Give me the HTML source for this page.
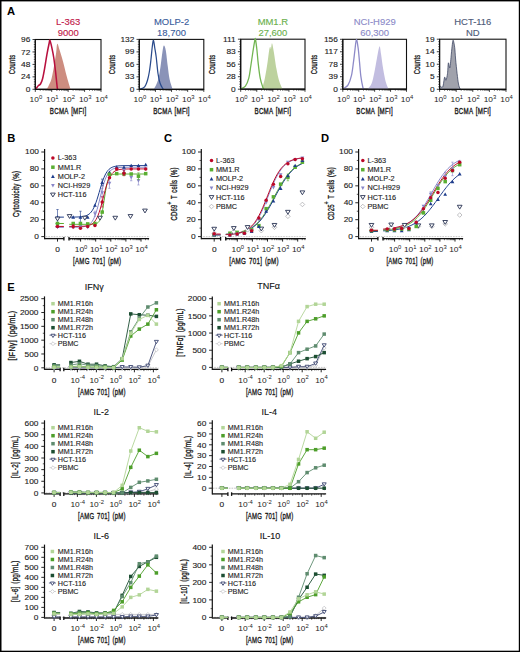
<!DOCTYPE html>
<html><head><meta charset="utf-8"><style>
html,body{margin:0;padding:0;background:#fff;overflow:hidden;width:520px;height:652px;}
svg{display:block;}
svg text{font-family:"Liberation Sans", sans-serif;}
</style></head><body>
<svg width="520" height="652" viewBox="0 0 520 652">
<rect width="520" height="652" fill="#fff"/>
<rect x="0" y="0" width="1.5" height="652" fill="#000"/>
<rect x="0" y="0" width="520" height="1.4" fill="#000"/>
<rect x="518.8" y="0" width="1.2" height="652" fill="#000"/>
<rect x="0" y="650.7" width="520" height="1.3" fill="#000"/>
<text x="7" y="14.8" font-size="11.2" text-anchor="start" fill="#000" font-weight="bold" >A</text>
<rect x="35.3" y="39.5" width="65.7" height="49.8" fill="none" stroke="#111" stroke-width="1.1"/>
<path d="M46.5,89.3 C46.83,88.75 47.67,87.75 48.5,86 C49.33,84.25 50.52,82.5 51.5,78.8 C52.48,75.1 53.62,68.22 54.4,63.8 C55.18,59.38 55.72,55.65 56.2,52.3 C56.68,48.95 56.73,44.08 57.3,43.7 C57.87,43.32 58.65,47.03 59.6,50 C60.55,52.97 61.85,57.27 63,61.5 C64.15,65.73 65.27,70.88 66.5,75.4 C67.73,79.92 69.65,86.28 70.4,88.6 C71.15,90.92 70.9,89.18 71,89.3 Z" fill="#cd8d80" stroke="none"/>
<path d="M36,88.6 C36.42,88.08 37.75,86.27 38.5,85.5 C39.25,84.73 39.83,85.08 40.5,84 C41.17,82.92 41.82,81.58 42.5,79 C43.18,76.42 43.87,72.57 44.6,68.5 C45.33,64.43 46.13,58.85 46.9,54.6 C47.67,50.35 48.68,45.35 49.2,43 C49.72,40.65 49.52,39.53 50,40.5 C50.48,41.47 51.47,45.88 52.1,48.8 C52.73,51.72 53.22,54.13 53.8,58 C54.38,61.87 55.02,67 55.6,72 C56.18,77 56.9,85.13 57.3,88 C57.7,90.87 57.88,89 58,89.2" fill="none" stroke="#b8103e" stroke-width="1.55" stroke-linejoin="round"/>
<line x1="35.3" y1="89.3" x2="101" y2="89.3" stroke="#111" stroke-width="1.2" />
<line x1="35.3" y1="39.5" x2="35.3" y2="89.3" stroke="#111" stroke-width="1.1" />
<line x1="32.5" y1="89.3" x2="35.3" y2="89.3" stroke="#111" stroke-width="0.8" />
<text transform="translate(30.3,91.9) scale(1.1,1)" font-size="7.6" text-anchor="end" fill="#222" font-weight="normal"  stroke="#222" stroke-width="0.12">0</text>
<line x1="33.8" y1="86.81" x2="35.3" y2="86.81" stroke="#111" stroke-width="0.6" />
<line x1="33.8" y1="84.32" x2="35.3" y2="84.32" stroke="#111" stroke-width="0.6" />
<line x1="33.8" y1="81.83" x2="35.3" y2="81.83" stroke="#111" stroke-width="0.6" />
<line x1="33.8" y1="79.34" x2="35.3" y2="79.34" stroke="#111" stroke-width="0.6" />
<line x1="32.5" y1="76.85" x2="35.3" y2="76.85" stroke="#111" stroke-width="0.8" />
<text transform="translate(30.3,79.45) scale(1.1,1)" font-size="7.6" text-anchor="end" fill="#222" font-weight="normal"  stroke="#222" stroke-width="0.12">24</text>
<line x1="33.8" y1="74.36" x2="35.3" y2="74.36" stroke="#111" stroke-width="0.6" />
<line x1="33.8" y1="71.87" x2="35.3" y2="71.87" stroke="#111" stroke-width="0.6" />
<line x1="33.8" y1="69.38" x2="35.3" y2="69.38" stroke="#111" stroke-width="0.6" />
<line x1="33.8" y1="66.89" x2="35.3" y2="66.89" stroke="#111" stroke-width="0.6" />
<line x1="32.5" y1="64.4" x2="35.3" y2="64.4" stroke="#111" stroke-width="0.8" />
<text transform="translate(30.3,67) scale(1.1,1)" font-size="7.6" text-anchor="end" fill="#222" font-weight="normal"  stroke="#222" stroke-width="0.12">48</text>
<line x1="33.8" y1="61.91" x2="35.3" y2="61.91" stroke="#111" stroke-width="0.6" />
<line x1="33.8" y1="59.42" x2="35.3" y2="59.42" stroke="#111" stroke-width="0.6" />
<line x1="33.8" y1="56.93" x2="35.3" y2="56.93" stroke="#111" stroke-width="0.6" />
<line x1="33.8" y1="54.44" x2="35.3" y2="54.44" stroke="#111" stroke-width="0.6" />
<line x1="32.5" y1="51.95" x2="35.3" y2="51.95" stroke="#111" stroke-width="0.8" />
<text transform="translate(30.3,54.55) scale(1.1,1)" font-size="7.6" text-anchor="end" fill="#222" font-weight="normal"  stroke="#222" stroke-width="0.12">72</text>
<line x1="33.8" y1="49.46" x2="35.3" y2="49.46" stroke="#111" stroke-width="0.6" />
<line x1="33.8" y1="46.97" x2="35.3" y2="46.97" stroke="#111" stroke-width="0.6" />
<line x1="33.8" y1="44.48" x2="35.3" y2="44.48" stroke="#111" stroke-width="0.6" />
<line x1="33.8" y1="41.99" x2="35.3" y2="41.99" stroke="#111" stroke-width="0.6" />
<line x1="32.5" y1="39.5" x2="35.3" y2="39.5" stroke="#111" stroke-width="0.8" />
<text transform="translate(30.3,42.1) scale(1.1,1)" font-size="7.6" text-anchor="end" fill="#222" font-weight="normal"  stroke="#222" stroke-width="0.12">96</text>
<line x1="35.3" y1="89.3" x2="35.3" y2="91.9" stroke="#111" stroke-width="0.8" />
<text transform="translate(29.62,102.2) scale(1.1,1)" font-size="7.6" fill="#222">10<tspan font-size="5.32" dy="-3.19">0</tspan></text>
<line x1="40.24" y1="89.3" x2="40.24" y2="90.8" stroke="#111" stroke-width="0.6" />
<line x1="43.14" y1="89.3" x2="43.14" y2="90.8" stroke="#111" stroke-width="0.6" />
<line x1="45.19" y1="89.3" x2="45.19" y2="90.8" stroke="#111" stroke-width="0.6" />
<line x1="46.78" y1="89.3" x2="46.78" y2="90.8" stroke="#111" stroke-width="0.6" />
<line x1="48.08" y1="89.3" x2="48.08" y2="90.8" stroke="#111" stroke-width="0.6" />
<line x1="49.18" y1="89.3" x2="49.18" y2="90.8" stroke="#111" stroke-width="0.6" />
<line x1="50.13" y1="89.3" x2="50.13" y2="90.8" stroke="#111" stroke-width="0.6" />
<line x1="50.97" y1="89.3" x2="50.97" y2="90.8" stroke="#111" stroke-width="0.6" />
<line x1="51.72" y1="89.3" x2="51.72" y2="91.9" stroke="#111" stroke-width="0.8" />
<text transform="translate(46.05,102.2) scale(1.1,1)" font-size="7.6" fill="#222">10<tspan font-size="5.32" dy="-3.19">1</tspan></text>
<line x1="56.67" y1="89.3" x2="56.67" y2="90.8" stroke="#111" stroke-width="0.6" />
<line x1="59.56" y1="89.3" x2="59.56" y2="90.8" stroke="#111" stroke-width="0.6" />
<line x1="61.61" y1="89.3" x2="61.61" y2="90.8" stroke="#111" stroke-width="0.6" />
<line x1="63.21" y1="89.3" x2="63.21" y2="90.8" stroke="#111" stroke-width="0.6" />
<line x1="64.51" y1="89.3" x2="64.51" y2="90.8" stroke="#111" stroke-width="0.6" />
<line x1="65.61" y1="89.3" x2="65.61" y2="90.8" stroke="#111" stroke-width="0.6" />
<line x1="66.56" y1="89.3" x2="66.56" y2="90.8" stroke="#111" stroke-width="0.6" />
<line x1="67.4" y1="89.3" x2="67.4" y2="90.8" stroke="#111" stroke-width="0.6" />
<line x1="68.15" y1="89.3" x2="68.15" y2="91.9" stroke="#111" stroke-width="0.8" />
<text transform="translate(62.47,102.2) scale(1.1,1)" font-size="7.6" fill="#222">10<tspan font-size="5.32" dy="-3.19">2</tspan></text>
<line x1="73.09" y1="89.3" x2="73.09" y2="90.8" stroke="#111" stroke-width="0.6" />
<line x1="75.99" y1="89.3" x2="75.99" y2="90.8" stroke="#111" stroke-width="0.6" />
<line x1="78.04" y1="89.3" x2="78.04" y2="90.8" stroke="#111" stroke-width="0.6" />
<line x1="79.63" y1="89.3" x2="79.63" y2="90.8" stroke="#111" stroke-width="0.6" />
<line x1="80.93" y1="89.3" x2="80.93" y2="90.8" stroke="#111" stroke-width="0.6" />
<line x1="82.03" y1="89.3" x2="82.03" y2="90.8" stroke="#111" stroke-width="0.6" />
<line x1="82.98" y1="89.3" x2="82.98" y2="90.8" stroke="#111" stroke-width="0.6" />
<line x1="83.82" y1="89.3" x2="83.82" y2="90.8" stroke="#111" stroke-width="0.6" />
<line x1="84.58" y1="89.3" x2="84.58" y2="91.9" stroke="#111" stroke-width="0.8" />
<text transform="translate(78.9,102.2) scale(1.1,1)" font-size="7.6" fill="#222">10<tspan font-size="5.32" dy="-3.19">3</tspan></text>
<line x1="89.52" y1="89.3" x2="89.52" y2="90.8" stroke="#111" stroke-width="0.6" />
<line x1="92.41" y1="89.3" x2="92.41" y2="90.8" stroke="#111" stroke-width="0.6" />
<line x1="94.46" y1="89.3" x2="94.46" y2="90.8" stroke="#111" stroke-width="0.6" />
<line x1="96.06" y1="89.3" x2="96.06" y2="90.8" stroke="#111" stroke-width="0.6" />
<line x1="97.36" y1="89.3" x2="97.36" y2="90.8" stroke="#111" stroke-width="0.6" />
<line x1="98.46" y1="89.3" x2="98.46" y2="90.8" stroke="#111" stroke-width="0.6" />
<line x1="99.41" y1="89.3" x2="99.41" y2="90.8" stroke="#111" stroke-width="0.6" />
<line x1="100.25" y1="89.3" x2="100.25" y2="90.8" stroke="#111" stroke-width="0.6" />
<line x1="101" y1="89.3" x2="101" y2="91.9" stroke="#111" stroke-width="0.8" />
<text transform="translate(95.32,102.2) scale(1.1,1)" font-size="7.6" fill="#222">10<tspan font-size="5.32" dy="-3.19">4</tspan></text>
<text transform="translate(68.15,25.3) scale(1.1,1)" font-size="8.6" text-anchor="middle" fill="#c1184a" font-weight="normal"  stroke="#c1184a" stroke-width="0.12">L-363</text>
<text transform="translate(68.15,36.4) scale(1.1,1)" font-size="8.6" text-anchor="middle" fill="#c1184a" font-weight="normal"  stroke="#c1184a" stroke-width="0.12">9000</text>
<text transform="translate(14.5,64.45) rotate(-90) scale(0.6,1)" x="0" y="0" font-size="9.6" text-anchor="middle" fill="#1a1a1a" font-weight="normal" stroke="#1a1a1a" stroke-width="0.35" letter-spacing="0.35" word-spacing="1.2">Counts</text>
<text transform="translate(68.15,114.3) scale(0.718,1)" x="0" y="0" font-size="8.6" text-anchor="middle" fill="#1a1a1a" font-weight="normal" stroke="#1a1a1a" stroke-width="0.35" letter-spacing="0.35" word-spacing="1.2">BCMA [MFI]</text>
<rect x="139.3" y="39.4" width="64.5" height="49.9" fill="none" stroke="#111" stroke-width="1.1"/>
<path d="M153.8,89.3 C154.5,87.78 156.88,83.97 158,80.2 C159.12,76.43 159.77,71.35 160.5,66.7 C161.23,62.05 161.85,55.82 162.4,52.3 C162.95,48.78 163.23,45.92 163.8,45.6 C164.37,45.28 165.15,47.03 165.8,50.4 C166.45,53.77 167.07,61 167.7,65.8 C168.33,70.6 168.8,75.37 169.6,79.2 C170.4,83.03 171.93,87.12 172.5,88.8 C173.07,90.48 172.92,89.22 173,89.3 Z" fill="#8a93b8" stroke="none"/>
<path d="M139.8,89.3 C140.6,88.9 143.32,88.42 144.6,86.9 C145.88,85.38 146.7,82.77 147.5,80.2 C148.3,77.63 148.83,74.87 149.4,71.5 C149.97,68.13 150.42,64.17 150.9,60 C151.38,55.83 151.87,49.78 152.3,46.5 C152.73,43.22 153.1,40.13 153.5,40.3 C153.9,40.47 154.25,44.72 154.7,47.5 C155.15,50.28 155.65,52.67 156.2,57 C156.75,61.33 157.37,69.17 158,73.5 C158.63,77.83 159.18,80.45 160,83 C160.82,85.55 162.32,87.75 162.9,88.8 C163.48,89.85 163.4,89.22 163.5,89.3" fill="none" stroke="#2a4b8c" stroke-width="1.25" stroke-linejoin="round"/>
<line x1="139.3" y1="89.3" x2="203.8" y2="89.3" stroke="#111" stroke-width="1.2" />
<line x1="139.3" y1="39.4" x2="139.3" y2="89.3" stroke="#111" stroke-width="1.1" />
<line x1="136.5" y1="89.3" x2="139.3" y2="89.3" stroke="#111" stroke-width="0.8" />
<text transform="translate(134.3,91.9) scale(1.1,1)" font-size="7.6" text-anchor="end" fill="#222" font-weight="normal"  stroke="#222" stroke-width="0.12">0</text>
<line x1="137.8" y1="86.8" x2="139.3" y2="86.8" stroke="#111" stroke-width="0.6" />
<line x1="137.8" y1="84.31" x2="139.3" y2="84.31" stroke="#111" stroke-width="0.6" />
<line x1="137.8" y1="81.81" x2="139.3" y2="81.81" stroke="#111" stroke-width="0.6" />
<line x1="137.8" y1="79.32" x2="139.3" y2="79.32" stroke="#111" stroke-width="0.6" />
<line x1="136.5" y1="76.83" x2="139.3" y2="76.83" stroke="#111" stroke-width="0.8" />
<text transform="translate(134.3,79.42) scale(1.1,1)" font-size="7.6" text-anchor="end" fill="#222" font-weight="normal"  stroke="#222" stroke-width="0.12">33</text>
<line x1="137.8" y1="74.33" x2="139.3" y2="74.33" stroke="#111" stroke-width="0.6" />
<line x1="137.8" y1="71.84" x2="139.3" y2="71.84" stroke="#111" stroke-width="0.6" />
<line x1="137.8" y1="69.34" x2="139.3" y2="69.34" stroke="#111" stroke-width="0.6" />
<line x1="137.8" y1="66.84" x2="139.3" y2="66.84" stroke="#111" stroke-width="0.6" />
<line x1="136.5" y1="64.35" x2="139.3" y2="64.35" stroke="#111" stroke-width="0.8" />
<text transform="translate(134.3,66.95) scale(1.1,1)" font-size="7.6" text-anchor="end" fill="#222" font-weight="normal"  stroke="#222" stroke-width="0.12">66</text>
<line x1="137.8" y1="61.85" x2="139.3" y2="61.85" stroke="#111" stroke-width="0.6" />
<line x1="137.8" y1="59.36" x2="139.3" y2="59.36" stroke="#111" stroke-width="0.6" />
<line x1="137.8" y1="56.86" x2="139.3" y2="56.86" stroke="#111" stroke-width="0.6" />
<line x1="137.8" y1="54.37" x2="139.3" y2="54.37" stroke="#111" stroke-width="0.6" />
<line x1="136.5" y1="51.88" x2="139.3" y2="51.88" stroke="#111" stroke-width="0.8" />
<text transform="translate(134.3,54.48) scale(1.1,1)" font-size="7.6" text-anchor="end" fill="#222" font-weight="normal"  stroke="#222" stroke-width="0.12">99</text>
<line x1="137.8" y1="49.38" x2="139.3" y2="49.38" stroke="#111" stroke-width="0.6" />
<line x1="137.8" y1="46.88" x2="139.3" y2="46.88" stroke="#111" stroke-width="0.6" />
<line x1="137.8" y1="44.39" x2="139.3" y2="44.39" stroke="#111" stroke-width="0.6" />
<line x1="137.8" y1="41.89" x2="139.3" y2="41.89" stroke="#111" stroke-width="0.6" />
<line x1="136.5" y1="39.4" x2="139.3" y2="39.4" stroke="#111" stroke-width="0.8" />
<text transform="translate(134.3,42) scale(1.1,1)" font-size="7.6" text-anchor="end" fill="#222" font-weight="normal"  stroke="#222" stroke-width="0.12">132</text>
<line x1="139.3" y1="89.3" x2="139.3" y2="91.9" stroke="#111" stroke-width="0.8" />
<text transform="translate(133.62,102.2) scale(1.1,1)" font-size="7.6" fill="#222">10<tspan font-size="5.32" dy="-3.19">0</tspan></text>
<line x1="144.15" y1="89.3" x2="144.15" y2="90.8" stroke="#111" stroke-width="0.6" />
<line x1="146.99" y1="89.3" x2="146.99" y2="90.8" stroke="#111" stroke-width="0.6" />
<line x1="149.01" y1="89.3" x2="149.01" y2="90.8" stroke="#111" stroke-width="0.6" />
<line x1="150.57" y1="89.3" x2="150.57" y2="90.8" stroke="#111" stroke-width="0.6" />
<line x1="151.85" y1="89.3" x2="151.85" y2="90.8" stroke="#111" stroke-width="0.6" />
<line x1="152.93" y1="89.3" x2="152.93" y2="90.8" stroke="#111" stroke-width="0.6" />
<line x1="153.86" y1="89.3" x2="153.86" y2="90.8" stroke="#111" stroke-width="0.6" />
<line x1="154.69" y1="89.3" x2="154.69" y2="90.8" stroke="#111" stroke-width="0.6" />
<line x1="155.43" y1="89.3" x2="155.43" y2="91.9" stroke="#111" stroke-width="0.8" />
<text transform="translate(149.75,102.2) scale(1.1,1)" font-size="7.6" fill="#222">10<tspan font-size="5.32" dy="-3.19">1</tspan></text>
<line x1="160.28" y1="89.3" x2="160.28" y2="90.8" stroke="#111" stroke-width="0.6" />
<line x1="163.12" y1="89.3" x2="163.12" y2="90.8" stroke="#111" stroke-width="0.6" />
<line x1="165.13" y1="89.3" x2="165.13" y2="90.8" stroke="#111" stroke-width="0.6" />
<line x1="166.7" y1="89.3" x2="166.7" y2="90.8" stroke="#111" stroke-width="0.6" />
<line x1="167.97" y1="89.3" x2="167.97" y2="90.8" stroke="#111" stroke-width="0.6" />
<line x1="169.05" y1="89.3" x2="169.05" y2="90.8" stroke="#111" stroke-width="0.6" />
<line x1="169.99" y1="89.3" x2="169.99" y2="90.8" stroke="#111" stroke-width="0.6" />
<line x1="170.81" y1="89.3" x2="170.81" y2="90.8" stroke="#111" stroke-width="0.6" />
<line x1="171.55" y1="89.3" x2="171.55" y2="91.9" stroke="#111" stroke-width="0.8" />
<text transform="translate(165.87,102.2) scale(1.1,1)" font-size="7.6" fill="#222">10<tspan font-size="5.32" dy="-3.19">2</tspan></text>
<line x1="176.4" y1="89.3" x2="176.4" y2="90.8" stroke="#111" stroke-width="0.6" />
<line x1="179.24" y1="89.3" x2="179.24" y2="90.8" stroke="#111" stroke-width="0.6" />
<line x1="181.26" y1="89.3" x2="181.26" y2="90.8" stroke="#111" stroke-width="0.6" />
<line x1="182.82" y1="89.3" x2="182.82" y2="90.8" stroke="#111" stroke-width="0.6" />
<line x1="184.1" y1="89.3" x2="184.1" y2="90.8" stroke="#111" stroke-width="0.6" />
<line x1="185.18" y1="89.3" x2="185.18" y2="90.8" stroke="#111" stroke-width="0.6" />
<line x1="186.11" y1="89.3" x2="186.11" y2="90.8" stroke="#111" stroke-width="0.6" />
<line x1="186.94" y1="89.3" x2="186.94" y2="90.8" stroke="#111" stroke-width="0.6" />
<line x1="187.68" y1="89.3" x2="187.68" y2="91.9" stroke="#111" stroke-width="0.8" />
<text transform="translate(182,102.2) scale(1.1,1)" font-size="7.6" fill="#222">10<tspan font-size="5.32" dy="-3.19">3</tspan></text>
<line x1="192.53" y1="89.3" x2="192.53" y2="90.8" stroke="#111" stroke-width="0.6" />
<line x1="195.37" y1="89.3" x2="195.37" y2="90.8" stroke="#111" stroke-width="0.6" />
<line x1="197.38" y1="89.3" x2="197.38" y2="90.8" stroke="#111" stroke-width="0.6" />
<line x1="198.95" y1="89.3" x2="198.95" y2="90.8" stroke="#111" stroke-width="0.6" />
<line x1="200.22" y1="89.3" x2="200.22" y2="90.8" stroke="#111" stroke-width="0.6" />
<line x1="201.3" y1="89.3" x2="201.3" y2="90.8" stroke="#111" stroke-width="0.6" />
<line x1="202.24" y1="89.3" x2="202.24" y2="90.8" stroke="#111" stroke-width="0.6" />
<line x1="203.06" y1="89.3" x2="203.06" y2="90.8" stroke="#111" stroke-width="0.6" />
<line x1="203.8" y1="89.3" x2="203.8" y2="91.9" stroke="#111" stroke-width="0.8" />
<text transform="translate(198.12,102.2) scale(1.1,1)" font-size="7.6" fill="#222">10<tspan font-size="5.32" dy="-3.19">4</tspan></text>
<text transform="translate(171.55,25.3) scale(1.1,1)" font-size="8.6" text-anchor="middle" fill="#3a5d9c" font-weight="normal"  stroke="#3a5d9c" stroke-width="0.12">MOLP-2</text>
<text transform="translate(171.55,36.4) scale(1.1,1)" font-size="8.6" text-anchor="middle" fill="#3a5d9c" font-weight="normal"  stroke="#3a5d9c" stroke-width="0.12">18,700</text>
<text transform="translate(115,64.45) rotate(-90) scale(0.6,1)" x="0" y="0" font-size="9.6" text-anchor="middle" fill="#1a1a1a" font-weight="normal" stroke="#1a1a1a" stroke-width="0.35" letter-spacing="0.35" word-spacing="1.2">Counts</text>
<text transform="translate(171.55,114.3) scale(0.718,1)" x="0" y="0" font-size="8.6" text-anchor="middle" fill="#1a1a1a" font-weight="normal" stroke="#1a1a1a" stroke-width="0.35" letter-spacing="0.35" word-spacing="1.2">BCMA [MFI]</text>
<rect x="240.7" y="39.2" width="64.3" height="50" fill="none" stroke="#111" stroke-width="1.1"/>
<path d="M262,89.2 C262.48,87.33 263.97,82.55 264.9,78 C265.83,73.45 266.87,66.65 267.6,61.9 C268.33,57.15 268.85,51.98 269.3,49.5 C269.75,47.02 270.02,47.08 270.3,47 C270.58,46.92 270.72,49.62 271,49 C271.28,48.38 271.55,42.93 272,43.3 C272.45,43.67 272.97,46.98 273.7,51.2 C274.43,55.42 275.5,63.67 276.4,68.6 C277.3,73.53 278.1,77.43 279.1,80.8 C280.1,84.17 281.75,87.4 282.4,88.8 C283.05,90.2 282.9,89.13 283,89.2 Z" fill="#bdd29e" stroke="none"/>
<path d="M241.1,88.8 C241.82,88.35 244.12,87.88 245.4,86.1 C246.68,84.32 247.9,81.45 248.8,78.1 C249.7,74.75 250.13,70.27 250.8,66 C251.47,61.73 252.13,56.77 252.8,52.5 C253.47,48.23 254.35,42.57 254.8,40.4 C255.25,38.23 255.15,37.93 255.5,39.5 C255.85,41.07 256.45,45.83 256.9,49.8 C257.35,53.77 257.65,58.58 258.2,63.3 C258.75,68.02 259.42,74.07 260.2,78.1 C260.98,82.13 262.27,85.65 262.9,87.5 C263.53,89.35 263.82,88.92 264,89.2" fill="none" stroke="#72b552" stroke-width="1.3" stroke-linejoin="round"/>
<line x1="240.7" y1="89.2" x2="305" y2="89.2" stroke="#111" stroke-width="1.2" />
<line x1="240.7" y1="39.2" x2="240.7" y2="89.2" stroke="#111" stroke-width="1.1" />
<line x1="237.9" y1="89.2" x2="240.7" y2="89.2" stroke="#111" stroke-width="0.8" />
<text transform="translate(235.7,91.8) scale(1.1,1)" font-size="7.6" text-anchor="end" fill="#222" font-weight="normal"  stroke="#222" stroke-width="0.12">0</text>
<line x1="239.2" y1="86.7" x2="240.7" y2="86.7" stroke="#111" stroke-width="0.6" />
<line x1="239.2" y1="84.2" x2="240.7" y2="84.2" stroke="#111" stroke-width="0.6" />
<line x1="239.2" y1="81.7" x2="240.7" y2="81.7" stroke="#111" stroke-width="0.6" />
<line x1="239.2" y1="79.2" x2="240.7" y2="79.2" stroke="#111" stroke-width="0.6" />
<line x1="237.9" y1="76.7" x2="240.7" y2="76.7" stroke="#111" stroke-width="0.8" />
<text transform="translate(235.7,79.3) scale(1.1,1)" font-size="7.6" text-anchor="end" fill="#222" font-weight="normal"  stroke="#222" stroke-width="0.12">28</text>
<line x1="239.2" y1="74.2" x2="240.7" y2="74.2" stroke="#111" stroke-width="0.6" />
<line x1="239.2" y1="71.7" x2="240.7" y2="71.7" stroke="#111" stroke-width="0.6" />
<line x1="239.2" y1="69.2" x2="240.7" y2="69.2" stroke="#111" stroke-width="0.6" />
<line x1="239.2" y1="66.7" x2="240.7" y2="66.7" stroke="#111" stroke-width="0.6" />
<line x1="237.9" y1="64.2" x2="240.7" y2="64.2" stroke="#111" stroke-width="0.8" />
<text transform="translate(235.7,66.8) scale(1.1,1)" font-size="7.6" text-anchor="end" fill="#222" font-weight="normal"  stroke="#222" stroke-width="0.12">56</text>
<line x1="239.2" y1="61.7" x2="240.7" y2="61.7" stroke="#111" stroke-width="0.6" />
<line x1="239.2" y1="59.2" x2="240.7" y2="59.2" stroke="#111" stroke-width="0.6" />
<line x1="239.2" y1="56.7" x2="240.7" y2="56.7" stroke="#111" stroke-width="0.6" />
<line x1="239.2" y1="54.2" x2="240.7" y2="54.2" stroke="#111" stroke-width="0.6" />
<line x1="237.9" y1="51.7" x2="240.7" y2="51.7" stroke="#111" stroke-width="0.8" />
<text transform="translate(235.7,54.3) scale(1.1,1)" font-size="7.6" text-anchor="end" fill="#222" font-weight="normal"  stroke="#222" stroke-width="0.12">83</text>
<line x1="239.2" y1="49.2" x2="240.7" y2="49.2" stroke="#111" stroke-width="0.6" />
<line x1="239.2" y1="46.7" x2="240.7" y2="46.7" stroke="#111" stroke-width="0.6" />
<line x1="239.2" y1="44.2" x2="240.7" y2="44.2" stroke="#111" stroke-width="0.6" />
<line x1="239.2" y1="41.7" x2="240.7" y2="41.7" stroke="#111" stroke-width="0.6" />
<line x1="237.9" y1="39.2" x2="240.7" y2="39.2" stroke="#111" stroke-width="0.8" />
<text transform="translate(235.7,41.8) scale(1.1,1)" font-size="7.6" text-anchor="end" fill="#222" font-weight="normal"  stroke="#222" stroke-width="0.12">111</text>
<line x1="240.7" y1="89.2" x2="240.7" y2="91.8" stroke="#111" stroke-width="0.8" />
<text transform="translate(235.02,102.2) scale(1.1,1)" font-size="7.6" fill="#222">10<tspan font-size="5.32" dy="-3.19">0</tspan></text>
<line x1="245.54" y1="89.2" x2="245.54" y2="90.7" stroke="#111" stroke-width="0.6" />
<line x1="248.37" y1="89.2" x2="248.37" y2="90.7" stroke="#111" stroke-width="0.6" />
<line x1="250.38" y1="89.2" x2="250.38" y2="90.7" stroke="#111" stroke-width="0.6" />
<line x1="251.94" y1="89.2" x2="251.94" y2="90.7" stroke="#111" stroke-width="0.6" />
<line x1="253.21" y1="89.2" x2="253.21" y2="90.7" stroke="#111" stroke-width="0.6" />
<line x1="254.28" y1="89.2" x2="254.28" y2="90.7" stroke="#111" stroke-width="0.6" />
<line x1="255.22" y1="89.2" x2="255.22" y2="90.7" stroke="#111" stroke-width="0.6" />
<line x1="256.04" y1="89.2" x2="256.04" y2="90.7" stroke="#111" stroke-width="0.6" />
<line x1="256.77" y1="89.2" x2="256.77" y2="91.8" stroke="#111" stroke-width="0.8" />
<text transform="translate(251.1,102.2) scale(1.1,1)" font-size="7.6" fill="#222">10<tspan font-size="5.32" dy="-3.19">1</tspan></text>
<line x1="261.61" y1="89.2" x2="261.61" y2="90.7" stroke="#111" stroke-width="0.6" />
<line x1="264.44" y1="89.2" x2="264.44" y2="90.7" stroke="#111" stroke-width="0.6" />
<line x1="266.45" y1="89.2" x2="266.45" y2="90.7" stroke="#111" stroke-width="0.6" />
<line x1="268.01" y1="89.2" x2="268.01" y2="90.7" stroke="#111" stroke-width="0.6" />
<line x1="269.28" y1="89.2" x2="269.28" y2="90.7" stroke="#111" stroke-width="0.6" />
<line x1="270.36" y1="89.2" x2="270.36" y2="90.7" stroke="#111" stroke-width="0.6" />
<line x1="271.29" y1="89.2" x2="271.29" y2="90.7" stroke="#111" stroke-width="0.6" />
<line x1="272.11" y1="89.2" x2="272.11" y2="90.7" stroke="#111" stroke-width="0.6" />
<line x1="272.85" y1="89.2" x2="272.85" y2="91.8" stroke="#111" stroke-width="0.8" />
<text transform="translate(267.17,102.2) scale(1.1,1)" font-size="7.6" fill="#222">10<tspan font-size="5.32" dy="-3.19">2</tspan></text>
<line x1="277.69" y1="89.2" x2="277.69" y2="90.7" stroke="#111" stroke-width="0.6" />
<line x1="280.52" y1="89.2" x2="280.52" y2="90.7" stroke="#111" stroke-width="0.6" />
<line x1="282.53" y1="89.2" x2="282.53" y2="90.7" stroke="#111" stroke-width="0.6" />
<line x1="284.09" y1="89.2" x2="284.09" y2="90.7" stroke="#111" stroke-width="0.6" />
<line x1="285.36" y1="89.2" x2="285.36" y2="90.7" stroke="#111" stroke-width="0.6" />
<line x1="286.43" y1="89.2" x2="286.43" y2="90.7" stroke="#111" stroke-width="0.6" />
<line x1="287.37" y1="89.2" x2="287.37" y2="90.7" stroke="#111" stroke-width="0.6" />
<line x1="288.19" y1="89.2" x2="288.19" y2="90.7" stroke="#111" stroke-width="0.6" />
<line x1="288.93" y1="89.2" x2="288.93" y2="91.8" stroke="#111" stroke-width="0.8" />
<text transform="translate(283.25,102.2) scale(1.1,1)" font-size="7.6" fill="#222">10<tspan font-size="5.32" dy="-3.19">3</tspan></text>
<line x1="293.76" y1="89.2" x2="293.76" y2="90.7" stroke="#111" stroke-width="0.6" />
<line x1="296.59" y1="89.2" x2="296.59" y2="90.7" stroke="#111" stroke-width="0.6" />
<line x1="298.6" y1="89.2" x2="298.6" y2="90.7" stroke="#111" stroke-width="0.6" />
<line x1="300.16" y1="89.2" x2="300.16" y2="90.7" stroke="#111" stroke-width="0.6" />
<line x1="301.43" y1="89.2" x2="301.43" y2="90.7" stroke="#111" stroke-width="0.6" />
<line x1="302.51" y1="89.2" x2="302.51" y2="90.7" stroke="#111" stroke-width="0.6" />
<line x1="303.44" y1="89.2" x2="303.44" y2="90.7" stroke="#111" stroke-width="0.6" />
<line x1="304.26" y1="89.2" x2="304.26" y2="90.7" stroke="#111" stroke-width="0.6" />
<line x1="305" y1="89.2" x2="305" y2="91.8" stroke="#111" stroke-width="0.8" />
<text transform="translate(299.32,102.2) scale(1.1,1)" font-size="7.6" fill="#222">10<tspan font-size="5.32" dy="-3.19">4</tspan></text>
<text transform="translate(272.85,25.3) scale(1.1,1)" font-size="8.6" text-anchor="middle" fill="#6ab04c" font-weight="normal"  stroke="#6ab04c" stroke-width="0.12">MM1.R</text>
<text transform="translate(272.85,36.4) scale(1.1,1)" font-size="8.6" text-anchor="middle" fill="#6ab04c" font-weight="normal"  stroke="#6ab04c" stroke-width="0.12">27,600</text>
<text transform="translate(215.3,64.45) rotate(-90) scale(0.6,1)" x="0" y="0" font-size="9.6" text-anchor="middle" fill="#1a1a1a" font-weight="normal" stroke="#1a1a1a" stroke-width="0.35" letter-spacing="0.35" word-spacing="1.2">Counts</text>
<text transform="translate(272.85,114.3) scale(0.718,1)" x="0" y="0" font-size="8.6" text-anchor="middle" fill="#1a1a1a" font-weight="normal" stroke="#1a1a1a" stroke-width="0.35" letter-spacing="0.35" word-spacing="1.2">BCMA [MFI]</text>
<rect x="342.8" y="39.3" width="63.7" height="49.9" fill="none" stroke="#111" stroke-width="1.1"/>
<path d="M367.5,89.2 C368.18,88.25 370.47,86.25 371.6,83.5 C372.73,80.75 373.4,76.97 374.3,72.7 C375.2,68.43 376.13,62.28 377,57.9 C377.87,53.52 378.83,47.08 379.5,46.4 C380.17,45.72 380.4,50.1 381,53.8 C381.6,57.5 382.3,63.88 383.1,68.6 C383.9,73.32 384.9,78.73 385.8,82.1 C386.7,85.47 387.97,87.62 388.5,88.8 C389.03,89.98 388.92,89.13 389,89.2 Z" fill="#c2bde0" stroke="none"/>
<path d="M344,88.2 C344.68,87.63 346.85,86.93 348.1,84.8 C349.35,82.67 350.6,79.22 351.5,75.4 C352.4,71.58 352.95,65.93 353.5,61.9 C354.05,57.87 354.32,54.9 354.8,51.2 C355.28,47.5 355.83,40.15 356.4,39.7 C356.97,39.25 357.68,44.8 358.2,48.5 C358.72,52.2 359.05,57.2 359.5,61.9 C359.95,66.6 360.33,72.43 360.9,76.7 C361.47,80.97 362.38,85.42 362.9,87.5 C363.42,89.58 363.82,88.92 364,89.2" fill="none" stroke="#8d8ac8" stroke-width="1.3" stroke-linejoin="round"/>
<line x1="342.8" y1="89.2" x2="406.5" y2="89.2" stroke="#111" stroke-width="1.2" />
<line x1="342.8" y1="39.3" x2="342.8" y2="89.2" stroke="#111" stroke-width="1.1" />
<line x1="340" y1="89.2" x2="342.8" y2="89.2" stroke="#111" stroke-width="0.8" />
<text transform="translate(337.8,91.8) scale(1.1,1)" font-size="7.6" text-anchor="end" fill="#222" font-weight="normal"  stroke="#222" stroke-width="0.12">0</text>
<line x1="341.3" y1="86.7" x2="342.8" y2="86.7" stroke="#111" stroke-width="0.6" />
<line x1="341.3" y1="84.21" x2="342.8" y2="84.21" stroke="#111" stroke-width="0.6" />
<line x1="341.3" y1="81.72" x2="342.8" y2="81.72" stroke="#111" stroke-width="0.6" />
<line x1="341.3" y1="79.22" x2="342.8" y2="79.22" stroke="#111" stroke-width="0.6" />
<line x1="340" y1="76.72" x2="342.8" y2="76.72" stroke="#111" stroke-width="0.8" />
<text transform="translate(337.8,79.32) scale(1.1,1)" font-size="7.6" text-anchor="end" fill="#222" font-weight="normal"  stroke="#222" stroke-width="0.12">39</text>
<line x1="341.3" y1="74.23" x2="342.8" y2="74.23" stroke="#111" stroke-width="0.6" />
<line x1="341.3" y1="71.73" x2="342.8" y2="71.73" stroke="#111" stroke-width="0.6" />
<line x1="341.3" y1="69.24" x2="342.8" y2="69.24" stroke="#111" stroke-width="0.6" />
<line x1="341.3" y1="66.74" x2="342.8" y2="66.74" stroke="#111" stroke-width="0.6" />
<line x1="340" y1="64.25" x2="342.8" y2="64.25" stroke="#111" stroke-width="0.8" />
<text transform="translate(337.8,66.85) scale(1.1,1)" font-size="7.6" text-anchor="end" fill="#222" font-weight="normal"  stroke="#222" stroke-width="0.12">78</text>
<line x1="341.3" y1="61.76" x2="342.8" y2="61.76" stroke="#111" stroke-width="0.6" />
<line x1="341.3" y1="59.26" x2="342.8" y2="59.26" stroke="#111" stroke-width="0.6" />
<line x1="341.3" y1="56.77" x2="342.8" y2="56.77" stroke="#111" stroke-width="0.6" />
<line x1="341.3" y1="54.27" x2="342.8" y2="54.27" stroke="#111" stroke-width="0.6" />
<line x1="340" y1="51.77" x2="342.8" y2="51.77" stroke="#111" stroke-width="0.8" />
<text transform="translate(337.8,54.38) scale(1.1,1)" font-size="7.6" text-anchor="end" fill="#222" font-weight="normal"  stroke="#222" stroke-width="0.12">117</text>
<line x1="341.3" y1="49.28" x2="342.8" y2="49.28" stroke="#111" stroke-width="0.6" />
<line x1="341.3" y1="46.78" x2="342.8" y2="46.78" stroke="#111" stroke-width="0.6" />
<line x1="341.3" y1="44.29" x2="342.8" y2="44.29" stroke="#111" stroke-width="0.6" />
<line x1="341.3" y1="41.8" x2="342.8" y2="41.8" stroke="#111" stroke-width="0.6" />
<line x1="340" y1="39.3" x2="342.8" y2="39.3" stroke="#111" stroke-width="0.8" />
<text transform="translate(337.8,41.9) scale(1.1,1)" font-size="7.6" text-anchor="end" fill="#222" font-weight="normal"  stroke="#222" stroke-width="0.12">156</text>
<line x1="342.8" y1="89.2" x2="342.8" y2="91.8" stroke="#111" stroke-width="0.8" />
<text transform="translate(337.12,102.2) scale(1.1,1)" font-size="7.6" fill="#222">10<tspan font-size="5.32" dy="-3.19">0</tspan></text>
<line x1="347.59" y1="89.2" x2="347.59" y2="90.7" stroke="#111" stroke-width="0.6" />
<line x1="350.4" y1="89.2" x2="350.4" y2="90.7" stroke="#111" stroke-width="0.6" />
<line x1="352.39" y1="89.2" x2="352.39" y2="90.7" stroke="#111" stroke-width="0.6" />
<line x1="353.93" y1="89.2" x2="353.93" y2="90.7" stroke="#111" stroke-width="0.6" />
<line x1="355.19" y1="89.2" x2="355.19" y2="90.7" stroke="#111" stroke-width="0.6" />
<line x1="356.26" y1="89.2" x2="356.26" y2="90.7" stroke="#111" stroke-width="0.6" />
<line x1="357.18" y1="89.2" x2="357.18" y2="90.7" stroke="#111" stroke-width="0.6" />
<line x1="358" y1="89.2" x2="358" y2="90.7" stroke="#111" stroke-width="0.6" />
<line x1="358.73" y1="89.2" x2="358.73" y2="91.8" stroke="#111" stroke-width="0.8" />
<text transform="translate(353.05,102.2) scale(1.1,1)" font-size="7.6" fill="#222">10<tspan font-size="5.32" dy="-3.19">1</tspan></text>
<line x1="363.52" y1="89.2" x2="363.52" y2="90.7" stroke="#111" stroke-width="0.6" />
<line x1="366.32" y1="89.2" x2="366.32" y2="90.7" stroke="#111" stroke-width="0.6" />
<line x1="368.31" y1="89.2" x2="368.31" y2="90.7" stroke="#111" stroke-width="0.6" />
<line x1="369.86" y1="89.2" x2="369.86" y2="90.7" stroke="#111" stroke-width="0.6" />
<line x1="371.12" y1="89.2" x2="371.12" y2="90.7" stroke="#111" stroke-width="0.6" />
<line x1="372.18" y1="89.2" x2="372.18" y2="90.7" stroke="#111" stroke-width="0.6" />
<line x1="373.11" y1="89.2" x2="373.11" y2="90.7" stroke="#111" stroke-width="0.6" />
<line x1="373.92" y1="89.2" x2="373.92" y2="90.7" stroke="#111" stroke-width="0.6" />
<line x1="374.65" y1="89.2" x2="374.65" y2="91.8" stroke="#111" stroke-width="0.8" />
<text transform="translate(368.97,102.2) scale(1.1,1)" font-size="7.6" fill="#222">10<tspan font-size="5.32" dy="-3.19">2</tspan></text>
<line x1="379.44" y1="89.2" x2="379.44" y2="90.7" stroke="#111" stroke-width="0.6" />
<line x1="382.25" y1="89.2" x2="382.25" y2="90.7" stroke="#111" stroke-width="0.6" />
<line x1="384.24" y1="89.2" x2="384.24" y2="90.7" stroke="#111" stroke-width="0.6" />
<line x1="385.78" y1="89.2" x2="385.78" y2="90.7" stroke="#111" stroke-width="0.6" />
<line x1="387.04" y1="89.2" x2="387.04" y2="90.7" stroke="#111" stroke-width="0.6" />
<line x1="388.11" y1="89.2" x2="388.11" y2="90.7" stroke="#111" stroke-width="0.6" />
<line x1="389.03" y1="89.2" x2="389.03" y2="90.7" stroke="#111" stroke-width="0.6" />
<line x1="389.85" y1="89.2" x2="389.85" y2="90.7" stroke="#111" stroke-width="0.6" />
<line x1="390.57" y1="89.2" x2="390.57" y2="91.8" stroke="#111" stroke-width="0.8" />
<text transform="translate(384.9,102.2) scale(1.1,1)" font-size="7.6" fill="#222">10<tspan font-size="5.32" dy="-3.19">3</tspan></text>
<line x1="395.37" y1="89.2" x2="395.37" y2="90.7" stroke="#111" stroke-width="0.6" />
<line x1="398.17" y1="89.2" x2="398.17" y2="90.7" stroke="#111" stroke-width="0.6" />
<line x1="400.16" y1="89.2" x2="400.16" y2="90.7" stroke="#111" stroke-width="0.6" />
<line x1="401.71" y1="89.2" x2="401.71" y2="90.7" stroke="#111" stroke-width="0.6" />
<line x1="402.97" y1="89.2" x2="402.97" y2="90.7" stroke="#111" stroke-width="0.6" />
<line x1="404.03" y1="89.2" x2="404.03" y2="90.7" stroke="#111" stroke-width="0.6" />
<line x1="404.96" y1="89.2" x2="404.96" y2="90.7" stroke="#111" stroke-width="0.6" />
<line x1="405.77" y1="89.2" x2="405.77" y2="90.7" stroke="#111" stroke-width="0.6" />
<line x1="406.5" y1="89.2" x2="406.5" y2="91.8" stroke="#111" stroke-width="0.8" />
<text transform="translate(400.82,102.2) scale(1.1,1)" font-size="7.6" fill="#222">10<tspan font-size="5.32" dy="-3.19">4</tspan></text>
<text transform="translate(374.65,25.3) scale(1.1,1)" font-size="8.6" text-anchor="middle" fill="#8c8ac8" font-weight="normal"  stroke="#8c8ac8" stroke-width="0.12">NCI-H929</text>
<text transform="translate(374.65,36.4) scale(1.1,1)" font-size="8.6" text-anchor="middle" fill="#8c8ac8" font-weight="normal"  stroke="#8c8ac8" stroke-width="0.12">60,300</text>
<text transform="translate(316.8,64.45) rotate(-90) scale(0.6,1)" x="0" y="0" font-size="9.6" text-anchor="middle" fill="#1a1a1a" font-weight="normal" stroke="#1a1a1a" stroke-width="0.35" letter-spacing="0.35" word-spacing="1.2">Counts</text>
<text transform="translate(374.65,114.3) scale(0.718,1)" x="0" y="0" font-size="8.6" text-anchor="middle" fill="#1a1a1a" font-weight="normal" stroke="#1a1a1a" stroke-width="0.35" letter-spacing="0.35" word-spacing="1.2">BCMA [MFI]</text>
<rect x="439.6" y="39.2" width="66.4" height="50.1" fill="none" stroke="#111" stroke-width="1.1"/>
<path d="M439.8,89.3 C439.8,88.75 439.32,86.38 439.8,86 C440.28,85.62 441.9,88.45 442.7,87 C443.5,85.55 444.05,78.43 444.6,77.3 C445.15,76.17 445.52,80.83 446,80.2 C446.48,79.57 447.1,76.38 447.5,73.5 C447.9,70.62 448,63.87 448.4,62.9 C448.8,61.93 449.42,69.15 449.9,67.7 C450.38,66.25 450.9,58.05 451.3,54.2 C451.7,50.35 451.98,46.92 452.3,44.6 C452.62,42.28 452.8,39.82 453.2,40.3 C453.6,40.78 454.3,44.38 454.7,47.5 C455.1,50.62 455.2,54.67 455.6,59 C456,63.33 456.62,69.33 457.1,73.5 C457.58,77.67 458.02,81.45 458.5,84 C458.98,86.55 459.67,87.92 460,88.8 C460.33,89.68 460.42,89.22 460.5,89.3 Z" fill="#a0a2ac" stroke="#2c3756" stroke-width="0.7"/>
<line x1="439.6" y1="89.3" x2="506" y2="89.3" stroke="#111" stroke-width="1.2" />
<line x1="439.6" y1="39.2" x2="439.6" y2="89.3" stroke="#111" stroke-width="1.1" />
<line x1="436.8" y1="89.3" x2="439.6" y2="89.3" stroke="#111" stroke-width="0.8" />
<text transform="translate(434.6,91.9) scale(1.1,1)" font-size="7.6" text-anchor="end" fill="#222" font-weight="normal"  stroke="#222" stroke-width="0.12">0</text>
<line x1="438.1" y1="86.8" x2="439.6" y2="86.8" stroke="#111" stroke-width="0.6" />
<line x1="438.1" y1="84.29" x2="439.6" y2="84.29" stroke="#111" stroke-width="0.6" />
<line x1="438.1" y1="81.78" x2="439.6" y2="81.78" stroke="#111" stroke-width="0.6" />
<line x1="438.1" y1="79.28" x2="439.6" y2="79.28" stroke="#111" stroke-width="0.6" />
<line x1="436.8" y1="76.78" x2="439.6" y2="76.78" stroke="#111" stroke-width="0.8" />
<text transform="translate(434.6,79.38) scale(1.1,1)" font-size="7.6" text-anchor="end" fill="#222" font-weight="normal"  stroke="#222" stroke-width="0.12">5</text>
<line x1="438.1" y1="74.27" x2="439.6" y2="74.27" stroke="#111" stroke-width="0.6" />
<line x1="438.1" y1="71.77" x2="439.6" y2="71.77" stroke="#111" stroke-width="0.6" />
<line x1="438.1" y1="69.26" x2="439.6" y2="69.26" stroke="#111" stroke-width="0.6" />
<line x1="438.1" y1="66.76" x2="439.6" y2="66.76" stroke="#111" stroke-width="0.6" />
<line x1="436.8" y1="64.25" x2="439.6" y2="64.25" stroke="#111" stroke-width="0.8" />
<text transform="translate(434.6,66.85) scale(1.1,1)" font-size="7.6" text-anchor="end" fill="#222" font-weight="normal"  stroke="#222" stroke-width="0.12">10</text>
<line x1="438.1" y1="61.74" x2="439.6" y2="61.74" stroke="#111" stroke-width="0.6" />
<line x1="438.1" y1="59.24" x2="439.6" y2="59.24" stroke="#111" stroke-width="0.6" />
<line x1="438.1" y1="56.73" x2="439.6" y2="56.73" stroke="#111" stroke-width="0.6" />
<line x1="438.1" y1="54.23" x2="439.6" y2="54.23" stroke="#111" stroke-width="0.6" />
<line x1="436.8" y1="51.73" x2="439.6" y2="51.73" stroke="#111" stroke-width="0.8" />
<text transform="translate(434.6,54.33) scale(1.1,1)" font-size="7.6" text-anchor="end" fill="#222" font-weight="normal"  stroke="#222" stroke-width="0.12">14</text>
<line x1="438.1" y1="49.22" x2="439.6" y2="49.22" stroke="#111" stroke-width="0.6" />
<line x1="438.1" y1="46.72" x2="439.6" y2="46.72" stroke="#111" stroke-width="0.6" />
<line x1="438.1" y1="44.21" x2="439.6" y2="44.21" stroke="#111" stroke-width="0.6" />
<line x1="438.1" y1="41.7" x2="439.6" y2="41.7" stroke="#111" stroke-width="0.6" />
<line x1="436.8" y1="39.2" x2="439.6" y2="39.2" stroke="#111" stroke-width="0.8" />
<text transform="translate(434.6,41.8) scale(1.1,1)" font-size="7.6" text-anchor="end" fill="#222" font-weight="normal"  stroke="#222" stroke-width="0.12">19</text>
<line x1="439.6" y1="89.3" x2="439.6" y2="91.9" stroke="#111" stroke-width="0.8" />
<text transform="translate(433.92,102.2) scale(1.1,1)" font-size="7.6" fill="#222">10<tspan font-size="5.32" dy="-3.19">0</tspan></text>
<line x1="444.6" y1="89.3" x2="444.6" y2="90.8" stroke="#111" stroke-width="0.6" />
<line x1="447.52" y1="89.3" x2="447.52" y2="90.8" stroke="#111" stroke-width="0.6" />
<line x1="449.59" y1="89.3" x2="449.59" y2="90.8" stroke="#111" stroke-width="0.6" />
<line x1="451.2" y1="89.3" x2="451.2" y2="90.8" stroke="#111" stroke-width="0.6" />
<line x1="452.52" y1="89.3" x2="452.52" y2="90.8" stroke="#111" stroke-width="0.6" />
<line x1="453.63" y1="89.3" x2="453.63" y2="90.8" stroke="#111" stroke-width="0.6" />
<line x1="454.59" y1="89.3" x2="454.59" y2="90.8" stroke="#111" stroke-width="0.6" />
<line x1="455.44" y1="89.3" x2="455.44" y2="90.8" stroke="#111" stroke-width="0.6" />
<line x1="456.2" y1="89.3" x2="456.2" y2="91.9" stroke="#111" stroke-width="0.8" />
<text transform="translate(450.52,102.2) scale(1.1,1)" font-size="7.6" fill="#222">10<tspan font-size="5.32" dy="-3.19">1</tspan></text>
<line x1="461.2" y1="89.3" x2="461.2" y2="90.8" stroke="#111" stroke-width="0.6" />
<line x1="464.12" y1="89.3" x2="464.12" y2="90.8" stroke="#111" stroke-width="0.6" />
<line x1="466.19" y1="89.3" x2="466.19" y2="90.8" stroke="#111" stroke-width="0.6" />
<line x1="467.8" y1="89.3" x2="467.8" y2="90.8" stroke="#111" stroke-width="0.6" />
<line x1="469.12" y1="89.3" x2="469.12" y2="90.8" stroke="#111" stroke-width="0.6" />
<line x1="470.23" y1="89.3" x2="470.23" y2="90.8" stroke="#111" stroke-width="0.6" />
<line x1="471.19" y1="89.3" x2="471.19" y2="90.8" stroke="#111" stroke-width="0.6" />
<line x1="472.04" y1="89.3" x2="472.04" y2="90.8" stroke="#111" stroke-width="0.6" />
<line x1="472.8" y1="89.3" x2="472.8" y2="91.9" stroke="#111" stroke-width="0.8" />
<text transform="translate(467.12,102.2) scale(1.1,1)" font-size="7.6" fill="#222">10<tspan font-size="5.32" dy="-3.19">2</tspan></text>
<line x1="477.8" y1="89.3" x2="477.8" y2="90.8" stroke="#111" stroke-width="0.6" />
<line x1="480.72" y1="89.3" x2="480.72" y2="90.8" stroke="#111" stroke-width="0.6" />
<line x1="482.79" y1="89.3" x2="482.79" y2="90.8" stroke="#111" stroke-width="0.6" />
<line x1="484.4" y1="89.3" x2="484.4" y2="90.8" stroke="#111" stroke-width="0.6" />
<line x1="485.72" y1="89.3" x2="485.72" y2="90.8" stroke="#111" stroke-width="0.6" />
<line x1="486.83" y1="89.3" x2="486.83" y2="90.8" stroke="#111" stroke-width="0.6" />
<line x1="487.79" y1="89.3" x2="487.79" y2="90.8" stroke="#111" stroke-width="0.6" />
<line x1="488.64" y1="89.3" x2="488.64" y2="90.8" stroke="#111" stroke-width="0.6" />
<line x1="489.4" y1="89.3" x2="489.4" y2="91.9" stroke="#111" stroke-width="0.8" />
<text transform="translate(483.72,102.2) scale(1.1,1)" font-size="7.6" fill="#222">10<tspan font-size="5.32" dy="-3.19">3</tspan></text>
<line x1="494.4" y1="89.3" x2="494.4" y2="90.8" stroke="#111" stroke-width="0.6" />
<line x1="497.32" y1="89.3" x2="497.32" y2="90.8" stroke="#111" stroke-width="0.6" />
<line x1="499.39" y1="89.3" x2="499.39" y2="90.8" stroke="#111" stroke-width="0.6" />
<line x1="501" y1="89.3" x2="501" y2="90.8" stroke="#111" stroke-width="0.6" />
<line x1="502.32" y1="89.3" x2="502.32" y2="90.8" stroke="#111" stroke-width="0.6" />
<line x1="503.43" y1="89.3" x2="503.43" y2="90.8" stroke="#111" stroke-width="0.6" />
<line x1="504.39" y1="89.3" x2="504.39" y2="90.8" stroke="#111" stroke-width="0.6" />
<line x1="505.24" y1="89.3" x2="505.24" y2="90.8" stroke="#111" stroke-width="0.6" />
<line x1="506" y1="89.3" x2="506" y2="91.9" stroke="#111" stroke-width="0.8" />
<text transform="translate(500.32,102.2) scale(1.1,1)" font-size="7.6" fill="#222">10<tspan font-size="5.32" dy="-3.19">4</tspan></text>
<text transform="translate(472.8,25.3) scale(1.1,1)" font-size="8.6" text-anchor="middle" fill="#4d5a78" font-weight="normal"  stroke="#4d5a78" stroke-width="0.12">HCT-116</text>
<text transform="translate(472.8,36.4) scale(1.1,1)" font-size="8.6" text-anchor="middle" fill="#4d5a78" font-weight="normal"  stroke="#4d5a78" stroke-width="0.12">ND</text>
<text transform="translate(419.8,64.45) rotate(-90) scale(0.6,1)" x="0" y="0" font-size="9.6" text-anchor="middle" fill="#1a1a1a" font-weight="normal" stroke="#1a1a1a" stroke-width="0.35" letter-spacing="0.35" word-spacing="1.2">Counts</text>
<text transform="translate(472.8,114.3) scale(0.718,1)" x="0" y="0" font-size="8.6" text-anchor="middle" fill="#1a1a1a" font-weight="normal" stroke="#1a1a1a" stroke-width="0.35" letter-spacing="0.35" word-spacing="1.2">BCMA [MFI]</text>
<text x="7.2" y="141.9" font-size="11.2" text-anchor="start" fill="#000" font-weight="bold" >B</text>
<line x1="44.6" y1="149" x2="44.6" y2="239.2" stroke="#111" stroke-width="1.2" />
<line x1="41.3" y1="236.6" x2="44.6" y2="236.6" stroke="#111" stroke-width="0.9" />
<text transform="translate(39,238.9) scale(1.1,1)" font-size="7.6" text-anchor="end" fill="#222" font-weight="normal"  stroke="#222" stroke-width="0.12">0</text>
<line x1="42.8" y1="228.14" x2="44.6" y2="228.14" stroke="#111" stroke-width="0.7" />
<line x1="41.3" y1="219.68" x2="44.6" y2="219.68" stroke="#111" stroke-width="0.9" />
<text transform="translate(39,221.98) scale(1.1,1)" font-size="7.6" text-anchor="end" fill="#222" font-weight="normal"  stroke="#222" stroke-width="0.12">20</text>
<line x1="42.8" y1="211.22" x2="44.6" y2="211.22" stroke="#111" stroke-width="0.7" />
<line x1="41.3" y1="202.76" x2="44.6" y2="202.76" stroke="#111" stroke-width="0.9" />
<text transform="translate(39,205.06) scale(1.1,1)" font-size="7.6" text-anchor="end" fill="#222" font-weight="normal"  stroke="#222" stroke-width="0.12">40</text>
<line x1="42.8" y1="194.3" x2="44.6" y2="194.3" stroke="#111" stroke-width="0.7" />
<line x1="41.3" y1="185.84" x2="44.6" y2="185.84" stroke="#111" stroke-width="0.9" />
<text transform="translate(39,188.14) scale(1.1,1)" font-size="7.6" text-anchor="end" fill="#222" font-weight="normal"  stroke="#222" stroke-width="0.12">60</text>
<line x1="42.8" y1="177.38" x2="44.6" y2="177.38" stroke="#111" stroke-width="0.7" />
<line x1="41.3" y1="168.92" x2="44.6" y2="168.92" stroke="#111" stroke-width="0.9" />
<text transform="translate(39,171.22) scale(1.1,1)" font-size="7.6" text-anchor="end" fill="#222" font-weight="normal"  stroke="#222" stroke-width="0.12">80</text>
<line x1="42.8" y1="160.46" x2="44.6" y2="160.46" stroke="#111" stroke-width="0.7" />
<line x1="41.3" y1="152" x2="44.6" y2="152" stroke="#111" stroke-width="0.9" />
<text transform="translate(39,154.3) scale(1.1,1)" font-size="7.6" text-anchor="end" fill="#222" font-weight="normal"  stroke="#222" stroke-width="0.12">100</text>
<line x1="44.6" y1="236.6" x2="149.1" y2="236.6" stroke="#666" stroke-width="0.6" stroke-dasharray="0.6,1.0"/>
<line x1="44.6" y1="238.6" x2="64.1" y2="238.6" stroke="#111" stroke-width="1.3" />
<line x1="68.8" y1="238.6" x2="149.1" y2="238.6" stroke="#111" stroke-width="1.3" />
<line x1="63.9" y1="236.9" x2="63.9" y2="240.6" stroke="#111" stroke-width="1.3" />
<line x1="69" y1="236.9" x2="69" y2="240.6" stroke="#111" stroke-width="1.3" />
<line x1="57.5" y1="238.6" x2="57.5" y2="241.6" stroke="#111" stroke-width="0.9" />
<text transform="translate(57.5,251.8) scale(1.1,1)" font-size="7.6" text-anchor="middle" fill="#222" font-weight="normal"  stroke="#222" stroke-width="0.12">0</text>
<line x1="80.6" y1="238.6" x2="80.6" y2="241.6" stroke="#111" stroke-width="0.9" />
<text transform="translate(74.82,251.8) scale(1.1,1)" font-size="7.6" fill="#222">10<tspan font-size="5.32" dy="-3.19">0</tspan></text>
<line x1="95.7" y1="238.6" x2="95.7" y2="241.6" stroke="#111" stroke-width="0.9" />
<text transform="translate(89.92,251.8) scale(1.1,1)" font-size="7.6" fill="#222">10<tspan font-size="5.32" dy="-3.19">1</tspan></text>
<line x1="110.8" y1="238.6" x2="110.8" y2="241.6" stroke="#111" stroke-width="0.9" />
<text transform="translate(105.02,251.8) scale(1.1,1)" font-size="7.6" fill="#222">10<tspan font-size="5.32" dy="-3.19">2</tspan></text>
<line x1="125.9" y1="238.6" x2="125.9" y2="241.6" stroke="#111" stroke-width="0.9" />
<text transform="translate(120.12,251.8) scale(1.1,1)" font-size="7.6" fill="#222">10<tspan font-size="5.32" dy="-3.19">3</tspan></text>
<line x1="141" y1="238.6" x2="141" y2="241.6" stroke="#111" stroke-width="0.9" />
<text transform="translate(135.22,251.8) scale(1.1,1)" font-size="7.6" fill="#222">10<tspan font-size="5.32" dy="-3.19">4</tspan></text>
<line x1="70.05" y1="238.6" x2="70.05" y2="240.2" stroke="#111" stroke-width="0.6" />
<line x1="72.7" y1="238.6" x2="72.7" y2="240.2" stroke="#111" stroke-width="0.6" />
<line x1="74.59" y1="238.6" x2="74.59" y2="240.2" stroke="#111" stroke-width="0.6" />
<line x1="76.05" y1="238.6" x2="76.05" y2="240.2" stroke="#111" stroke-width="0.6" />
<line x1="77.25" y1="238.6" x2="77.25" y2="240.2" stroke="#111" stroke-width="0.6" />
<line x1="78.26" y1="238.6" x2="78.26" y2="240.2" stroke="#111" stroke-width="0.6" />
<line x1="79.14" y1="238.6" x2="79.14" y2="240.2" stroke="#111" stroke-width="0.6" />
<line x1="79.91" y1="238.6" x2="79.91" y2="240.2" stroke="#111" stroke-width="0.6" />
<line x1="85.15" y1="238.6" x2="85.15" y2="240.2" stroke="#111" stroke-width="0.6" />
<line x1="87.8" y1="238.6" x2="87.8" y2="240.2" stroke="#111" stroke-width="0.6" />
<line x1="89.69" y1="238.6" x2="89.69" y2="240.2" stroke="#111" stroke-width="0.6" />
<line x1="91.15" y1="238.6" x2="91.15" y2="240.2" stroke="#111" stroke-width="0.6" />
<line x1="92.35" y1="238.6" x2="92.35" y2="240.2" stroke="#111" stroke-width="0.6" />
<line x1="93.36" y1="238.6" x2="93.36" y2="240.2" stroke="#111" stroke-width="0.6" />
<line x1="94.24" y1="238.6" x2="94.24" y2="240.2" stroke="#111" stroke-width="0.6" />
<line x1="95.01" y1="238.6" x2="95.01" y2="240.2" stroke="#111" stroke-width="0.6" />
<line x1="100.25" y1="238.6" x2="100.25" y2="240.2" stroke="#111" stroke-width="0.6" />
<line x1="102.9" y1="238.6" x2="102.9" y2="240.2" stroke="#111" stroke-width="0.6" />
<line x1="104.79" y1="238.6" x2="104.79" y2="240.2" stroke="#111" stroke-width="0.6" />
<line x1="106.25" y1="238.6" x2="106.25" y2="240.2" stroke="#111" stroke-width="0.6" />
<line x1="107.45" y1="238.6" x2="107.45" y2="240.2" stroke="#111" stroke-width="0.6" />
<line x1="108.46" y1="238.6" x2="108.46" y2="240.2" stroke="#111" stroke-width="0.6" />
<line x1="109.34" y1="238.6" x2="109.34" y2="240.2" stroke="#111" stroke-width="0.6" />
<line x1="110.11" y1="238.6" x2="110.11" y2="240.2" stroke="#111" stroke-width="0.6" />
<line x1="115.35" y1="238.6" x2="115.35" y2="240.2" stroke="#111" stroke-width="0.6" />
<line x1="118" y1="238.6" x2="118" y2="240.2" stroke="#111" stroke-width="0.6" />
<line x1="119.89" y1="238.6" x2="119.89" y2="240.2" stroke="#111" stroke-width="0.6" />
<line x1="121.35" y1="238.6" x2="121.35" y2="240.2" stroke="#111" stroke-width="0.6" />
<line x1="122.55" y1="238.6" x2="122.55" y2="240.2" stroke="#111" stroke-width="0.6" />
<line x1="123.56" y1="238.6" x2="123.56" y2="240.2" stroke="#111" stroke-width="0.6" />
<line x1="124.44" y1="238.6" x2="124.44" y2="240.2" stroke="#111" stroke-width="0.6" />
<line x1="125.21" y1="238.6" x2="125.21" y2="240.2" stroke="#111" stroke-width="0.6" />
<line x1="130.45" y1="238.6" x2="130.45" y2="240.2" stroke="#111" stroke-width="0.6" />
<line x1="133.1" y1="238.6" x2="133.1" y2="240.2" stroke="#111" stroke-width="0.6" />
<line x1="134.99" y1="238.6" x2="134.99" y2="240.2" stroke="#111" stroke-width="0.6" />
<line x1="136.45" y1="238.6" x2="136.45" y2="240.2" stroke="#111" stroke-width="0.6" />
<line x1="137.65" y1="238.6" x2="137.65" y2="240.2" stroke="#111" stroke-width="0.6" />
<line x1="138.66" y1="238.6" x2="138.66" y2="240.2" stroke="#111" stroke-width="0.6" />
<line x1="139.54" y1="238.6" x2="139.54" y2="240.2" stroke="#111" stroke-width="0.6" />
<line x1="140.31" y1="238.6" x2="140.31" y2="240.2" stroke="#111" stroke-width="0.6" />
<line x1="145.55" y1="238.6" x2="145.55" y2="240.2" stroke="#111" stroke-width="0.6" />
<line x1="148.2" y1="238.6" x2="148.2" y2="240.2" stroke="#111" stroke-width="0.6" />
<text transform="translate(18.8,194) rotate(-90) scale(0.648,1)" x="0" y="0" font-size="9.3" text-anchor="middle" fill="#1a1a1a" font-weight="normal" stroke="#1a1a1a" stroke-width="0.35" letter-spacing="0.35" word-spacing="1.2">Cytotoxicity (%)</text>
<text transform="translate(97.25,263.6) scale(0.678,1)" x="0" y="0" font-size="9.0" text-anchor="middle" fill="#1a1a1a" font-weight="normal" stroke="#1a1a1a" stroke-width="0.35" letter-spacing="0.35" word-spacing="1.2">[AMG 701] (pM)</text>
<path d="M69.1,227.28 C69.27,227.28 69.77,227.28 70.1,227.28 C70.43,227.28 70.77,227.28 71.1,227.27 C71.43,227.27 71.77,227.27 72.1,227.27 C72.43,227.26 72.77,227.26 73.1,227.26 C73.43,227.26 73.77,227.25 74.1,227.25 C74.43,227.24 74.77,227.24 75.1,227.23 C75.43,227.23 75.77,227.22 76.1,227.21 C76.43,227.21 76.77,227.2 77.1,227.19 C77.43,227.18 77.77,227.17 78.1,227.16 C78.43,227.14 78.77,227.13 79.1,227.11 C79.43,227.1 79.77,227.08 80.1,227.06 C80.43,227.03 80.77,227.01 81.1,226.98 C81.43,226.95 81.77,226.92 82.1,226.88 C82.43,226.84 82.77,226.8 83.1,226.75 C83.43,226.7 83.77,226.65 84.1,226.58 C84.43,226.52 84.77,226.45 85.1,226.36 C85.43,226.28 85.77,226.19 86.1,226.08 C86.43,225.97 86.77,225.85 87.1,225.7 C87.43,225.56 87.77,225.4 88.1,225.22 C88.43,225.03 88.77,224.83 89.1,224.59 C89.43,224.35 89.77,224.09 90.1,223.79 C90.43,223.48 90.77,223.15 91.1,222.76 C91.43,222.38 91.77,221.95 92.1,221.47 C92.43,220.99 92.77,220.46 93.1,219.86 C93.43,219.26 93.77,218.61 94.1,217.88 C94.43,217.15 94.77,216.36 95.1,215.49 C95.43,214.62 95.77,213.68 96.1,212.67 C96.43,211.66 96.77,210.57 97.1,209.42 C97.43,208.28 97.77,207.06 98.1,205.8 C98.43,204.54 98.77,203.22 99.1,201.88 C99.43,200.55 99.77,199.16 100.1,197.8 C100.43,196.43 100.77,195.04 101.1,193.69 C101.43,192.35 101.77,191 102.1,189.72 C102.43,188.44 102.77,187.18 103.1,186.01 C103.43,184.83 103.77,183.71 104.1,182.66 C104.43,181.61 104.77,180.63 105.1,179.72 C105.43,178.82 105.77,177.99 106.1,177.22 C106.43,176.46 106.77,175.77 107.1,175.14 C107.43,174.51 107.77,173.95 108.1,173.44 C108.43,172.93 108.77,172.48 109.1,172.07 C109.43,171.66 109.77,171.3 110.1,170.98 C110.43,170.65 110.77,170.38 111.1,170.12 C111.43,169.87 111.77,169.65 112.1,169.45 C112.43,169.25 112.77,169.09 113.1,168.93 C113.43,168.78 113.77,168.65 114.1,168.53 C114.43,168.42 114.77,168.32 115.1,168.23 C115.43,168.13 115.77,168.06 116.1,167.99 C116.43,167.92 116.77,167.86 117.1,167.81 C117.43,167.75 117.77,167.71 118.1,167.67 C118.43,167.63 118.77,167.6 119.1,167.56 C119.43,167.53 119.77,167.51 120.1,167.48 C120.43,167.46 120.77,167.44 121.1,167.42 C121.43,167.4 121.77,167.39 122.1,167.38 C122.43,167.36 122.77,167.35 123.1,167.34 C123.43,167.33 123.77,167.32 124.1,167.31 C124.43,167.31 124.77,167.3 125.1,167.29 C125.43,167.29 125.77,167.28 126.1,167.28 C126.43,167.27 126.77,167.27 127.1,167.27 C127.43,167.26 127.77,167.26 128.1,167.26 C128.43,167.25 128.77,167.25 129.1,167.25 C129.43,167.25 129.77,167.25 130.1,167.24 C130.43,167.24 130.77,167.24 131.1,167.24 C131.43,167.24 131.77,167.24 132.1,167.24 C132.43,167.24 132.77,167.24 133.1,167.24 C133.43,167.23 133.77,167.23 134.1,167.23 C134.43,167.23 134.77,167.23 135.1,167.23 C135.43,167.23 135.77,167.23 136.1,167.23 C136.43,167.23 136.77,167.23 137.1,167.23 C137.43,167.23 137.77,167.23 138.1,167.23 C138.43,167.23 138.77,167.23 139.1,167.23 C139.43,167.23 139.77,167.23 140.1,167.23 C140.43,167.23 140.77,167.23 141.1,167.23 C141.43,167.23 141.77,167.23 142.1,167.23 C142.43,167.23 142.77,167.23 143.1,167.23 C143.43,167.23 143.77,167.23 144.1,167.23 C144.43,167.23 144.77,167.23 145.1,167.23 C145.43,167.23 145.93,167.23 146.1,167.23" fill="none" stroke="#8886c8" stroke-width="1.0"/>
<line x1="55.5" y1="227.29" x2="63.9" y2="227.29" stroke="#8886c8" stroke-width="1.0" />
<path d="M69.1,217.13 C69.27,217.12 69.77,217.12 70.1,217.12 C70.43,217.12 70.77,217.12 71.1,217.11 C71.43,217.11 71.77,217.11 72.1,217.11 C72.43,217.1 72.77,217.1 73.1,217.09 C73.43,217.09 73.77,217.09 74.1,217.08 C74.43,217.08 74.77,217.07 75.1,217.06 C75.43,217.05 75.77,217.05 76.1,217.04 C76.43,217.03 76.77,217.02 77.1,217.01 C77.43,216.99 77.77,216.98 78.1,216.96 C78.43,216.95 78.77,216.93 79.1,216.91 C79.43,216.89 79.77,216.87 80.1,216.84 C80.43,216.81 80.77,216.79 81.1,216.75 C81.43,216.72 81.77,216.68 82.1,216.63 C82.43,216.59 82.77,216.54 83.1,216.48 C83.43,216.42 83.77,216.36 84.1,216.28 C84.43,216.21 84.77,216.13 85.1,216.03 C85.43,215.93 85.77,215.82 86.1,215.7 C86.43,215.57 86.77,215.44 87.1,215.28 C87.43,215.12 87.77,214.94 88.1,214.74 C88.43,214.53 88.77,214.31 89.1,214.05 C89.43,213.79 89.77,213.51 90.1,213.18 C90.43,212.86 90.77,212.5 91.1,212.1 C91.43,211.69 91.77,211.25 92.1,210.75 C92.43,210.26 92.77,209.71 93.1,209.11 C93.43,208.51 93.77,207.86 94.1,207.15 C94.43,206.43 94.77,205.66 95.1,204.83 C95.43,204 95.77,203.11 96.1,202.18 C96.43,201.24 96.77,200.24 97.1,199.21 C97.43,198.18 97.77,197.09 98.1,195.99 C98.43,194.9 98.77,193.75 99.1,192.62 C99.43,191.49 99.77,190.33 100.1,189.2 C100.43,188.08 100.77,186.95 101.1,185.86 C101.43,184.78 101.77,183.71 102.1,182.7 C102.43,181.69 102.77,180.72 103.1,179.81 C103.43,178.89 103.77,178.03 104.1,177.23 C104.43,176.43 104.77,175.69 105.1,175.01 C105.43,174.32 105.77,173.7 106.1,173.13 C106.43,172.55 106.77,172.04 107.1,171.56 C107.43,171.09 107.77,170.67 108.1,170.29 C108.43,169.9 108.77,169.57 109.1,169.26 C109.43,168.95 109.77,168.69 110.1,168.44 C110.43,168.2 110.77,167.99 111.1,167.79 C111.43,167.6 111.77,167.44 112.1,167.29 C112.43,167.13 112.77,167.01 113.1,166.89 C113.43,166.77 113.77,166.67 114.1,166.58 C114.43,166.49 114.77,166.41 115.1,166.34 C115.43,166.27 115.77,166.21 116.1,166.16 C116.43,166.1 116.77,166.05 117.1,166.01 C117.43,165.97 117.77,165.93 118.1,165.9 C118.43,165.87 118.77,165.84 119.1,165.82 C119.43,165.79 119.77,165.77 120.1,165.75 C120.43,165.73 120.77,165.72 121.1,165.7 C121.43,165.69 121.77,165.67 122.1,165.66 C122.43,165.65 122.77,165.64 123.1,165.63 C123.43,165.62 123.77,165.62 124.1,165.61 C124.43,165.6 124.77,165.6 125.1,165.59 C125.43,165.59 125.77,165.58 126.1,165.58 C126.43,165.58 126.77,165.57 127.1,165.57 C127.43,165.57 127.77,165.56 128.1,165.56 C128.43,165.56 128.77,165.56 129.1,165.56 C129.43,165.55 129.77,165.55 130.1,165.55 C130.43,165.55 130.77,165.55 131.1,165.55 C131.43,165.55 131.77,165.55 132.1,165.54 C132.43,165.54 132.77,165.54 133.1,165.54 C133.43,165.54 133.77,165.54 134.1,165.54 C134.43,165.54 134.77,165.54 135.1,165.54 C135.43,165.54 135.77,165.54 136.1,165.54 C136.43,165.54 136.77,165.54 137.1,165.54 C137.43,165.54 137.77,165.54 138.1,165.54 C138.43,165.54 138.77,165.54 139.1,165.54 C139.43,165.54 139.77,165.54 140.1,165.54 C140.43,165.54 140.77,165.54 141.1,165.54 C141.43,165.54 141.77,165.54 142.1,165.54 C142.43,165.54 142.77,165.54 143.1,165.54 C143.43,165.54 143.77,165.54 144.1,165.54 C144.43,165.54 144.77,165.54 145.1,165.54 C145.43,165.54 145.93,165.54 146.1,165.54" fill="none" stroke="#1e3d8c" stroke-width="1.0"/>
<line x1="55.5" y1="217.14" x2="63.9" y2="217.14" stroke="#1e3d8c" stroke-width="1.0" />
<path d="M69.1,224.33 C69.27,224.33 69.77,224.33 70.1,224.33 C70.43,224.33 70.77,224.33 71.1,224.33 C71.43,224.33 71.77,224.33 72.1,224.33 C72.43,224.33 72.77,224.33 73.1,224.33 C73.43,224.33 73.77,224.33 74.1,224.33 C74.43,224.33 74.77,224.33 75.1,224.33 C75.43,224.33 75.77,224.33 76.1,224.33 C76.43,224.33 76.77,224.33 77.1,224.33 C77.43,224.33 77.77,224.33 78.1,224.33 C78.43,224.33 78.77,224.33 79.1,224.33 C79.43,224.33 79.77,224.33 80.1,224.33 C80.43,224.33 80.77,224.33 81.1,224.33 C81.43,224.33 81.77,224.33 82.1,224.33 C82.43,224.33 82.77,224.33 83.1,224.33 C83.43,224.33 83.77,224.33 84.1,224.33 C84.43,224.33 84.77,224.33 85.1,224.33 C85.43,224.33 85.77,224.33 86.1,224.33 C86.43,224.33 86.77,224.33 87.1,224.33 C87.43,224.33 87.77,224.33 88.1,224.32 C88.43,224.32 88.77,224.32 89.1,224.32 C89.43,224.32 89.77,224.31 90.1,224.31 C90.43,224.3 90.77,224.3 91.1,224.29 C91.43,224.28 91.77,224.27 92.1,224.26 C92.43,224.24 92.77,224.23 93.1,224.21 C93.43,224.18 93.77,224.16 94.1,224.12 C94.43,224.08 94.77,224.03 95.1,223.97 C95.43,223.9 95.77,223.82 96.1,223.71 C96.43,223.6 96.77,223.47 97.1,223.28 C97.43,223.09 97.77,222.88 98.1,222.56 C98.43,222.25 98.77,221.9 99.1,221.39 C99.43,220.88 99.77,220.31 100.1,219.51 C100.43,218.72 100.77,217.81 101.1,216.63 C101.43,215.46 101.77,214.09 102.1,212.48 C102.43,210.88 102.77,208.99 103.1,207 C103.43,205.01 103.77,202.73 104.1,200.55 C104.43,198.37 104.77,196.01 105.1,193.92 C105.43,191.82 105.77,189.74 106.1,187.96 C106.43,186.19 106.77,184.6 107.1,183.25 C107.43,181.9 107.77,180.81 108.1,179.87 C108.43,178.93 108.77,178.23 109.1,177.61 C109.43,177 109.77,176.57 110.1,176.18 C110.43,175.8 110.77,175.54 111.1,175.3 C111.43,175.07 111.77,174.91 112.1,174.77 C112.43,174.63 112.77,174.54 113.1,174.45 C113.43,174.37 113.77,174.31 114.1,174.26 C114.43,174.22 114.77,174.18 115.1,174.15 C115.43,174.12 115.77,174.11 116.1,174.09 C116.43,174.07 116.77,174.06 117.1,174.05 C117.43,174.04 117.77,174.03 118.1,174.03 C118.43,174.02 118.77,174.02 119.1,174.01 C119.43,174.01 119.77,174.01 120.1,174.01 C120.43,174 120.77,174 121.1,174 C121.43,174 121.77,174 122.1,174 C122.43,174 122.77,174 123.1,174 C123.43,174 123.77,174 124.1,174 C124.43,174 124.77,174 125.1,174 C125.43,174 125.77,174 126.1,174 C126.43,174 126.77,174 127.1,174 C127.43,174 127.77,174 128.1,174 C128.43,174 128.77,174 129.1,174 C129.43,174 129.77,174 130.1,174 C130.43,174 130.77,174 131.1,174 C131.43,174 131.77,174 132.1,174 C132.43,174 132.77,174 133.1,174 C133.43,174 133.77,174 134.1,174 C134.43,174 134.77,174 135.1,174 C135.43,174 135.77,174 136.1,174 C136.43,174 136.77,174 137.1,174 C137.43,174 137.77,174 138.1,174 C138.43,174 138.77,174 139.1,174 C139.43,174 139.77,174 140.1,174 C140.43,174 140.77,174 141.1,174 C141.43,174 141.77,174 142.1,174 C142.43,174 142.77,174 143.1,174 C143.43,174 143.77,174 144.1,174 C144.43,174 144.77,174 145.1,174 C145.43,174 145.93,174 146.1,174" fill="none" stroke="#5aae32" stroke-width="1.0"/>
<line x1="55.5" y1="223.49" x2="63.9" y2="223.49" stroke="#5aae32" stroke-width="1.0" />
<path d="M69.1,226.44 C69.27,226.44 69.77,226.44 70.1,226.44 C70.43,226.44 70.77,226.44 71.1,226.44 C71.43,226.44 71.77,226.44 72.1,226.44 C72.43,226.44 72.77,226.44 73.1,226.43 C73.43,226.43 73.77,226.43 74.1,226.43 C74.43,226.43 74.77,226.43 75.1,226.42 C75.43,226.42 75.77,226.42 76.1,226.42 C76.43,226.41 76.77,226.41 77.1,226.41 C77.43,226.4 77.77,226.4 78.1,226.39 C78.43,226.39 78.77,226.38 79.1,226.37 C79.43,226.37 79.77,226.36 80.1,226.35 C80.43,226.34 80.77,226.33 81.1,226.32 C81.43,226.31 81.77,226.3 82.1,226.28 C82.43,226.27 82.77,226.25 83.1,226.23 C83.43,226.21 83.77,226.18 84.1,226.16 C84.43,226.13 84.77,226.1 85.1,226.07 C85.43,226.03 85.77,225.99 86.1,225.95 C86.43,225.9 86.77,225.85 87.1,225.79 C87.43,225.73 87.77,225.66 88.1,225.58 C88.43,225.5 88.77,225.42 89.1,225.31 C89.43,225.21 89.77,225.1 90.1,224.96 C90.43,224.83 90.77,224.68 91.1,224.5 C91.43,224.33 91.77,224.14 92.1,223.91 C92.43,223.69 92.77,223.44 93.1,223.15 C93.43,222.87 93.77,222.55 94.1,222.19 C94.43,221.82 94.77,221.42 95.1,220.96 C95.43,220.5 95.77,220 96.1,219.43 C96.43,218.86 96.77,218.24 97.1,217.54 C97.43,216.85 97.77,216.09 98.1,215.26 C98.43,214.43 98.77,213.53 99.1,212.56 C99.43,211.6 99.77,210.55 100.1,209.46 C100.43,208.36 100.77,207.18 101.1,205.98 C101.43,204.77 101.77,203.49 102.1,202.21 C102.43,200.93 102.77,199.59 103.1,198.28 C103.43,196.97 103.77,195.62 104.1,194.33 C104.43,193.03 104.77,191.73 105.1,190.5 C105.43,189.26 105.77,188.05 106.1,186.92 C106.43,185.79 106.77,184.7 107.1,183.69 C107.43,182.69 107.77,181.74 108.1,180.87 C108.43,180 108.77,179.2 109.1,178.47 C109.43,177.73 109.77,177.07 110.1,176.47 C110.43,175.86 110.77,175.32 111.1,174.83 C111.43,174.34 111.77,173.91 112.1,173.52 C112.43,173.13 112.77,172.79 113.1,172.48 C113.43,172.17 113.77,171.9 114.1,171.66 C114.43,171.42 114.77,171.21 115.1,171.03 C115.43,170.84 115.77,170.68 116.1,170.53 C116.43,170.39 116.77,170.26 117.1,170.15 C117.43,170.04 117.77,169.95 118.1,169.86 C118.43,169.77 118.77,169.7 119.1,169.64 C119.43,169.57 119.77,169.51 120.1,169.46 C120.43,169.41 120.77,169.37 121.1,169.33 C121.43,169.3 121.77,169.26 122.1,169.23 C122.43,169.21 122.77,169.18 123.1,169.16 C123.43,169.14 123.77,169.12 124.1,169.1 C124.43,169.08 124.77,169.07 125.1,169.06 C125.43,169.05 125.77,169.03 126.1,169.02 C126.43,169.02 126.77,169.01 127.1,169 C127.43,168.99 127.77,168.99 128.1,168.98 C128.43,168.97 128.77,168.97 129.1,168.97 C129.43,168.96 129.77,168.96 130.1,168.95 C130.43,168.95 130.77,168.95 131.1,168.95 C131.43,168.94 131.77,168.94 132.1,168.94 C132.43,168.94 132.77,168.94 133.1,168.94 C133.43,168.93 133.77,168.93 134.1,168.93 C134.43,168.93 134.77,168.93 135.1,168.93 C135.43,168.93 135.77,168.93 136.1,168.93 C136.43,168.93 136.77,168.93 137.1,168.93 C137.43,168.92 137.77,168.92 138.1,168.92 C138.43,168.92 138.77,168.92 139.1,168.92 C139.43,168.92 139.77,168.92 140.1,168.92 C140.43,168.92 140.77,168.92 141.1,168.92 C141.43,168.92 141.77,168.92 142.1,168.92 C142.43,168.92 142.77,168.92 143.1,168.92 C143.43,168.92 143.77,168.92 144.1,168.92 C144.43,168.92 144.77,168.92 145.1,168.92 C145.43,168.92 145.93,168.92 146.1,168.92" fill="none" stroke="#bc0828" stroke-width="1.0"/>
<line x1="55.5" y1="226.45" x2="63.9" y2="226.45" stroke="#bc0828" stroke-width="1.0" />
<polygon points="57.5,229.14 59.35,225.81 55.65,225.81" fill="#8886c8" stroke="none" stroke-width="0.8" stroke-linejoin="round" />
<polygon points="73.2,229.14 75.05,225.81 71.35,225.81" fill="#8886c8" stroke="none" stroke-width="0.8" stroke-linejoin="round" />
<line x1="80.45" y1="228.14" x2="80.45" y2="224.76" stroke="#8886c8" stroke-width="0.6" />
<line x1="79.25" y1="228.14" x2="81.65" y2="228.14" stroke="#8886c8" stroke-width="0.6" />
<line x1="79.25" y1="224.76" x2="81.65" y2="224.76" stroke="#8886c8" stroke-width="0.6" />
<polygon points="80.45,228.3 82.3,224.97 78.6,224.97" fill="#8886c8" stroke="none" stroke-width="0.8" stroke-linejoin="round" />
<polygon points="87.7,229.14 89.55,225.81 85.85,225.81" fill="#8886c8" stroke="none" stroke-width="0.8" stroke-linejoin="round" />
<line x1="94.95" y1="216.3" x2="94.95" y2="211.22" stroke="#8886c8" stroke-width="0.6" />
<line x1="93.75" y1="216.3" x2="96.15" y2="216.3" stroke="#8886c8" stroke-width="0.6" />
<line x1="93.75" y1="211.22" x2="96.15" y2="211.22" stroke="#8886c8" stroke-width="0.6" />
<polygon points="94.95,215.61 96.8,212.28 93.1,212.28" fill="#8886c8" stroke="none" stroke-width="0.8" stroke-linejoin="round" />
<line x1="102.2" y1="196.84" x2="102.2" y2="188.38" stroke="#8886c8" stroke-width="0.6" />
<line x1="101" y1="196.84" x2="103.4" y2="196.84" stroke="#8886c8" stroke-width="0.6" />
<line x1="101" y1="188.38" x2="103.4" y2="188.38" stroke="#8886c8" stroke-width="0.6" />
<polygon points="102.2,194.46 104.05,191.13 100.35,191.13" fill="#8886c8" stroke="none" stroke-width="0.8" stroke-linejoin="round" />
<line x1="109.45" y1="188.38" x2="109.45" y2="178.23" stroke="#8886c8" stroke-width="0.6" />
<line x1="108.25" y1="188.38" x2="110.65" y2="188.38" stroke="#8886c8" stroke-width="0.6" />
<line x1="108.25" y1="178.23" x2="110.65" y2="178.23" stroke="#8886c8" stroke-width="0.6" />
<polygon points="109.45,185.15 111.3,181.82 107.6,181.82" fill="#8886c8" stroke="none" stroke-width="0.8" stroke-linejoin="round" />
<polygon points="116.7,170.77 118.55,167.44 114.85,167.44" fill="#8886c8" stroke="none" stroke-width="0.8" stroke-linejoin="round" />
<line x1="123.95" y1="173.15" x2="123.95" y2="168.07" stroke="#8886c8" stroke-width="0.6" />
<line x1="122.75" y1="173.15" x2="125.15" y2="173.15" stroke="#8886c8" stroke-width="0.6" />
<line x1="122.75" y1="168.07" x2="125.15" y2="168.07" stroke="#8886c8" stroke-width="0.6" />
<polygon points="123.95,172.46 125.8,169.13 122.1,169.13" fill="#8886c8" stroke="none" stroke-width="0.8" stroke-linejoin="round" />
<line x1="131.2" y1="180.76" x2="131.2" y2="174" stroke="#8886c8" stroke-width="0.6" />
<line x1="130" y1="180.76" x2="132.4" y2="180.76" stroke="#8886c8" stroke-width="0.6" />
<line x1="130" y1="174" x2="132.4" y2="174" stroke="#8886c8" stroke-width="0.6" />
<polygon points="131.2,179.23 133.05,175.9 129.35,175.9" fill="#8886c8" stroke="none" stroke-width="0.8" stroke-linejoin="round" />
<line x1="138.45" y1="184.99" x2="138.45" y2="176.53" stroke="#8886c8" stroke-width="0.6" />
<line x1="137.25" y1="184.99" x2="139.65" y2="184.99" stroke="#8886c8" stroke-width="0.6" />
<line x1="137.25" y1="176.53" x2="139.65" y2="176.53" stroke="#8886c8" stroke-width="0.6" />
<polygon points="138.45,182.61 140.3,179.28 136.6,179.28" fill="#8886c8" stroke="none" stroke-width="0.8" stroke-linejoin="round" />
<polygon points="145.7,170.77 147.55,167.44 143.85,167.44" fill="#8886c8" stroke="none" stroke-width="0.8" stroke-linejoin="round" />
<line x1="57.5" y1="224.76" x2="57.5" y2="209.53" stroke="#1e3d8c" stroke-width="0.6" />
<line x1="56.3" y1="224.76" x2="58.7" y2="224.76" stroke="#1e3d8c" stroke-width="0.6" />
<line x1="56.3" y1="209.53" x2="58.7" y2="209.53" stroke="#1e3d8c" stroke-width="0.6" />
<polygon points="57.5,215.24 59.4,218.66 55.6,218.66" fill="#1e3d8c" stroke="none" stroke-width="0.8" stroke-linejoin="round" />
<polygon points="73.2,215.24 75.1,218.66 71.3,218.66" fill="#1e3d8c" stroke="none" stroke-width="0.8" stroke-linejoin="round" />
<line x1="80.45" y1="223.06" x2="80.45" y2="211.22" stroke="#1e3d8c" stroke-width="0.6" />
<line x1="79.25" y1="223.06" x2="81.65" y2="223.06" stroke="#1e3d8c" stroke-width="0.6" />
<line x1="79.25" y1="211.22" x2="81.65" y2="211.22" stroke="#1e3d8c" stroke-width="0.6" />
<polygon points="80.45,215.24 82.35,218.66 78.55,218.66" fill="#1e3d8c" stroke="none" stroke-width="0.8" stroke-linejoin="round" />
<polygon points="87.7,215.24 89.6,218.66 85.8,218.66" fill="#1e3d8c" stroke="none" stroke-width="0.8" stroke-linejoin="round" />
<polygon points="94.95,203.4 96.85,206.82 93.05,206.82" fill="#1e3d8c" stroke="none" stroke-width="0.8" stroke-linejoin="round" />
<line x1="102.2" y1="185.84" x2="102.2" y2="179.07" stroke="#1e3d8c" stroke-width="0.6" />
<line x1="101" y1="185.84" x2="103.4" y2="185.84" stroke="#1e3d8c" stroke-width="0.6" />
<line x1="101" y1="179.07" x2="103.4" y2="179.07" stroke="#1e3d8c" stroke-width="0.6" />
<polygon points="102.2,180.56 104.1,183.98 100.3,183.98" fill="#1e3d8c" stroke="none" stroke-width="0.8" stroke-linejoin="round" />
<polygon points="109.45,170.4 111.35,173.82 107.55,173.82" fill="#1e3d8c" stroke="none" stroke-width="0.8" stroke-linejoin="round" />
<polygon points="116.7,165.33 118.6,168.75 114.8,168.75" fill="#1e3d8c" stroke="none" stroke-width="0.8" stroke-linejoin="round" />
<polygon points="123.95,165.33 125.85,168.75 122.05,168.75" fill="#1e3d8c" stroke="none" stroke-width="0.8" stroke-linejoin="round" />
<polygon points="131.2,163.64 133.1,167.06 129.3,167.06" fill="#1e3d8c" stroke="none" stroke-width="0.8" stroke-linejoin="round" />
<polygon points="138.45,163.64 140.35,167.06 136.55,167.06" fill="#1e3d8c" stroke="none" stroke-width="0.8" stroke-linejoin="round" />
<polygon points="145.7,162.79 147.6,166.21 143.8,166.21" fill="#1e3d8c" stroke="none" stroke-width="0.8" stroke-linejoin="round" />
<rect x="55.75" y="221.74" width="3.5" height="3.5" fill="#5aae32"/>
<rect x="71.45" y="221.74" width="3.5" height="3.5" fill="#5aae32"/>
<rect x="78.7" y="221.74" width="3.5" height="3.5" fill="#5aae32"/>
<rect x="85.95" y="222.16" width="3.5" height="3.5" fill="#5aae32"/>
<rect x="93.2" y="221.74" width="3.5" height="3.5" fill="#5aae32"/>
<rect x="100.45" y="210.32" width="3.5" height="3.5" fill="#5aae32"/>
<rect x="107.7" y="172.58" width="3.5" height="3.5" fill="#5aae32"/>
<rect x="114.95" y="171.91" width="3.5" height="3.5" fill="#5aae32"/>
<rect x="122.2" y="172.25" width="3.5" height="3.5" fill="#5aae32"/>
<rect x="129.45" y="172.25" width="3.5" height="3.5" fill="#5aae32"/>
<line x1="138.45" y1="179.58" x2="138.45" y2="172.81" stroke="#5aae32" stroke-width="0.6" />
<line x1="137.25" y1="179.58" x2="139.65" y2="179.58" stroke="#5aae32" stroke-width="0.6" />
<line x1="137.25" y1="172.81" x2="139.65" y2="172.81" stroke="#5aae32" stroke-width="0.6" />
<rect x="136.7" y="174.45" width="3.5" height="3.5" fill="#5aae32"/>
<rect x="143.95" y="171.91" width="3.5" height="3.5" fill="#5aae32"/>
<circle cx="57.5" cy="226.45" r="1.75" fill="#bc0828"/>
<line x1="73.2" y1="228.14" x2="73.2" y2="224.76" stroke="#bc0828" stroke-width="0.6" />
<line x1="72" y1="228.14" x2="74.4" y2="228.14" stroke="#bc0828" stroke-width="0.6" />
<line x1="72" y1="224.76" x2="74.4" y2="224.76" stroke="#bc0828" stroke-width="0.6" />
<circle cx="73.2" cy="226.45" r="1.75" fill="#bc0828"/>
<circle cx="80.45" cy="228.14" r="1.75" fill="#bc0828"/>
<circle cx="87.7" cy="226.45" r="1.75" fill="#bc0828"/>
<circle cx="94.95" cy="225.6" r="1.75" fill="#bc0828"/>
<line x1="102.2" y1="206.99" x2="102.2" y2="196.84" stroke="#bc0828" stroke-width="0.6" />
<line x1="101" y1="206.99" x2="103.4" y2="206.99" stroke="#bc0828" stroke-width="0.6" />
<line x1="101" y1="196.84" x2="103.4" y2="196.84" stroke="#bc0828" stroke-width="0.6" />
<circle cx="102.2" cy="201.91" r="1.75" fill="#bc0828"/>
<circle cx="109.45" cy="177.8" r="1.75" fill="#bc0828"/>
<circle cx="116.7" cy="168.92" r="1.75" fill="#bc0828"/>
<line x1="123.95" y1="175.69" x2="123.95" y2="170.61" stroke="#bc0828" stroke-width="0.6" />
<line x1="122.75" y1="175.69" x2="125.15" y2="175.69" stroke="#bc0828" stroke-width="0.6" />
<line x1="122.75" y1="170.61" x2="125.15" y2="170.61" stroke="#bc0828" stroke-width="0.6" />
<circle cx="123.95" cy="173.15" r="1.75" fill="#bc0828"/>
<circle cx="131.2" cy="168.92" r="1.75" fill="#bc0828"/>
<circle cx="138.45" cy="168.92" r="1.75" fill="#bc0828"/>
<circle cx="145.7" cy="168.92" r="1.75" fill="#bc0828"/>
<polygon points="57.5,220.98 59.87,217.11 55.13,217.11" fill="#fff" stroke="#283252" stroke-width="0.9" stroke-linejoin="round" />
<polygon points="69.58,218.45 71.94,214.58 67.21,214.58" fill="#fff" stroke="#283252" stroke-width="0.9" stroke-linejoin="round" />
<polygon points="84.8,220.14 87.17,216.27 82.44,216.27" fill="#fff" stroke="#283252" stroke-width="0.9" stroke-linejoin="round" />
<polygon points="100.03,220.14 102.39,216.27 97.66,216.27" fill="#fff" stroke="#283252" stroke-width="0.9" stroke-linejoin="round" />
<polygon points="115.25,220.14 117.61,216.27 112.89,216.27" fill="#fff" stroke="#283252" stroke-width="0.9" stroke-linejoin="round" />
<polygon points="130.48,218.45 132.84,214.58 128.11,214.58" fill="#fff" stroke="#283252" stroke-width="0.9" stroke-linejoin="round" />
<polygon points="144.98,212.95 147.34,209.08 142.61,209.08" fill="#fff" stroke="#283252" stroke-width="0.9" stroke-linejoin="round" />
<circle cx="52.9" cy="158" r="1.75" fill="#bc0828"/>
<text x="57.8" y="160.3" font-size="7.3" text-anchor="start" fill="#222" font-weight="normal"  stroke="#222" stroke-width="0.12">L-363</text>
<rect x="51.15" y="165.45" width="3.5" height="3.5" fill="#5aae32"/>
<text x="57.8" y="169.5" font-size="7.3" text-anchor="start" fill="#222" font-weight="normal"  stroke="#222" stroke-width="0.12">MM1.R</text>
<polygon points="52.9,174.5 54.8,177.92 51,177.92" fill="#1e3d8c" stroke="none" stroke-width="0.8" stroke-linejoin="round" />
<text x="57.8" y="178.7" font-size="7.3" text-anchor="start" fill="#222" font-weight="normal"  stroke="#222" stroke-width="0.12">MOLP-2</text>
<polygon points="52.9,187.45 54.75,184.12 51.05,184.12" fill="#8886c8" stroke="none" stroke-width="0.8" stroke-linejoin="round" />
<text x="57.8" y="187.9" font-size="7.3" text-anchor="start" fill="#222" font-weight="normal"  stroke="#222" stroke-width="0.12">NCI-H929</text>
<polygon points="52.9,196.95 55.27,193.08 50.53,193.08" fill="#fff" stroke="#283252" stroke-width="0.9" stroke-linejoin="round" />
<text x="57.8" y="197.1" font-size="7.3" text-anchor="start" fill="#222" font-weight="normal"  stroke="#222" stroke-width="0.12">HCT-116</text>
<text x="164" y="141.9" font-size="11.2" text-anchor="start" fill="#000" font-weight="bold" >C</text>
<line x1="201.3" y1="149" x2="201.3" y2="239.2" stroke="#111" stroke-width="1.2" />
<line x1="198" y1="236.6" x2="201.3" y2="236.6" stroke="#111" stroke-width="0.9" />
<text transform="translate(195.7,238.9) scale(1.1,1)" font-size="7.6" text-anchor="end" fill="#222" font-weight="normal"  stroke="#222" stroke-width="0.12">0</text>
<line x1="199.5" y1="228.14" x2="201.3" y2="228.14" stroke="#111" stroke-width="0.7" />
<line x1="198" y1="219.68" x2="201.3" y2="219.68" stroke="#111" stroke-width="0.9" />
<text transform="translate(195.7,221.98) scale(1.1,1)" font-size="7.6" text-anchor="end" fill="#222" font-weight="normal"  stroke="#222" stroke-width="0.12">20</text>
<line x1="199.5" y1="211.22" x2="201.3" y2="211.22" stroke="#111" stroke-width="0.7" />
<line x1="198" y1="202.76" x2="201.3" y2="202.76" stroke="#111" stroke-width="0.9" />
<text transform="translate(195.7,205.06) scale(1.1,1)" font-size="7.6" text-anchor="end" fill="#222" font-weight="normal"  stroke="#222" stroke-width="0.12">40</text>
<line x1="199.5" y1="194.3" x2="201.3" y2="194.3" stroke="#111" stroke-width="0.7" />
<line x1="198" y1="185.84" x2="201.3" y2="185.84" stroke="#111" stroke-width="0.9" />
<text transform="translate(195.7,188.14) scale(1.1,1)" font-size="7.6" text-anchor="end" fill="#222" font-weight="normal"  stroke="#222" stroke-width="0.12">60</text>
<line x1="199.5" y1="177.38" x2="201.3" y2="177.38" stroke="#111" stroke-width="0.7" />
<line x1="198" y1="168.92" x2="201.3" y2="168.92" stroke="#111" stroke-width="0.9" />
<text transform="translate(195.7,171.22) scale(1.1,1)" font-size="7.6" text-anchor="end" fill="#222" font-weight="normal"  stroke="#222" stroke-width="0.12">80</text>
<line x1="199.5" y1="160.46" x2="201.3" y2="160.46" stroke="#111" stroke-width="0.7" />
<line x1="198" y1="152" x2="201.3" y2="152" stroke="#111" stroke-width="0.9" />
<text transform="translate(195.7,154.3) scale(1.1,1)" font-size="7.6" text-anchor="end" fill="#222" font-weight="normal"  stroke="#222" stroke-width="0.12">100</text>
<line x1="201.3" y1="236.6" x2="305.8" y2="236.6" stroke="#666" stroke-width="0.6" stroke-dasharray="0.6,1.0"/>
<line x1="201.3" y1="238.6" x2="220.8" y2="238.6" stroke="#111" stroke-width="1.3" />
<line x1="225.5" y1="238.6" x2="305.8" y2="238.6" stroke="#111" stroke-width="1.3" />
<line x1="220.6" y1="236.9" x2="220.6" y2="240.6" stroke="#111" stroke-width="1.3" />
<line x1="225.7" y1="236.9" x2="225.7" y2="240.6" stroke="#111" stroke-width="1.3" />
<line x1="214.2" y1="238.6" x2="214.2" y2="241.6" stroke="#111" stroke-width="0.9" />
<text transform="translate(214.2,251.8) scale(1.1,1)" font-size="7.6" text-anchor="middle" fill="#222" font-weight="normal"  stroke="#222" stroke-width="0.12">0</text>
<line x1="237.3" y1="238.6" x2="237.3" y2="241.6" stroke="#111" stroke-width="0.9" />
<text transform="translate(231.52,251.8) scale(1.1,1)" font-size="7.6" fill="#222">10<tspan font-size="5.32" dy="-3.19">0</tspan></text>
<line x1="252.4" y1="238.6" x2="252.4" y2="241.6" stroke="#111" stroke-width="0.9" />
<text transform="translate(246.62,251.8) scale(1.1,1)" font-size="7.6" fill="#222">10<tspan font-size="5.32" dy="-3.19">1</tspan></text>
<line x1="267.5" y1="238.6" x2="267.5" y2="241.6" stroke="#111" stroke-width="0.9" />
<text transform="translate(261.72,251.8) scale(1.1,1)" font-size="7.6" fill="#222">10<tspan font-size="5.32" dy="-3.19">2</tspan></text>
<line x1="282.6" y1="238.6" x2="282.6" y2="241.6" stroke="#111" stroke-width="0.9" />
<text transform="translate(276.82,251.8) scale(1.1,1)" font-size="7.6" fill="#222">10<tspan font-size="5.32" dy="-3.19">3</tspan></text>
<line x1="297.7" y1="238.6" x2="297.7" y2="241.6" stroke="#111" stroke-width="0.9" />
<text transform="translate(291.92,251.8) scale(1.1,1)" font-size="7.6" fill="#222">10<tspan font-size="5.32" dy="-3.19">4</tspan></text>
<line x1="226.75" y1="238.6" x2="226.75" y2="240.2" stroke="#111" stroke-width="0.6" />
<line x1="229.4" y1="238.6" x2="229.4" y2="240.2" stroke="#111" stroke-width="0.6" />
<line x1="231.29" y1="238.6" x2="231.29" y2="240.2" stroke="#111" stroke-width="0.6" />
<line x1="232.75" y1="238.6" x2="232.75" y2="240.2" stroke="#111" stroke-width="0.6" />
<line x1="233.95" y1="238.6" x2="233.95" y2="240.2" stroke="#111" stroke-width="0.6" />
<line x1="234.96" y1="238.6" x2="234.96" y2="240.2" stroke="#111" stroke-width="0.6" />
<line x1="235.84" y1="238.6" x2="235.84" y2="240.2" stroke="#111" stroke-width="0.6" />
<line x1="236.61" y1="238.6" x2="236.61" y2="240.2" stroke="#111" stroke-width="0.6" />
<line x1="241.85" y1="238.6" x2="241.85" y2="240.2" stroke="#111" stroke-width="0.6" />
<line x1="244.5" y1="238.6" x2="244.5" y2="240.2" stroke="#111" stroke-width="0.6" />
<line x1="246.39" y1="238.6" x2="246.39" y2="240.2" stroke="#111" stroke-width="0.6" />
<line x1="247.85" y1="238.6" x2="247.85" y2="240.2" stroke="#111" stroke-width="0.6" />
<line x1="249.05" y1="238.6" x2="249.05" y2="240.2" stroke="#111" stroke-width="0.6" />
<line x1="250.06" y1="238.6" x2="250.06" y2="240.2" stroke="#111" stroke-width="0.6" />
<line x1="250.94" y1="238.6" x2="250.94" y2="240.2" stroke="#111" stroke-width="0.6" />
<line x1="251.71" y1="238.6" x2="251.71" y2="240.2" stroke="#111" stroke-width="0.6" />
<line x1="256.95" y1="238.6" x2="256.95" y2="240.2" stroke="#111" stroke-width="0.6" />
<line x1="259.6" y1="238.6" x2="259.6" y2="240.2" stroke="#111" stroke-width="0.6" />
<line x1="261.49" y1="238.6" x2="261.49" y2="240.2" stroke="#111" stroke-width="0.6" />
<line x1="262.95" y1="238.6" x2="262.95" y2="240.2" stroke="#111" stroke-width="0.6" />
<line x1="264.15" y1="238.6" x2="264.15" y2="240.2" stroke="#111" stroke-width="0.6" />
<line x1="265.16" y1="238.6" x2="265.16" y2="240.2" stroke="#111" stroke-width="0.6" />
<line x1="266.04" y1="238.6" x2="266.04" y2="240.2" stroke="#111" stroke-width="0.6" />
<line x1="266.81" y1="238.6" x2="266.81" y2="240.2" stroke="#111" stroke-width="0.6" />
<line x1="272.05" y1="238.6" x2="272.05" y2="240.2" stroke="#111" stroke-width="0.6" />
<line x1="274.7" y1="238.6" x2="274.7" y2="240.2" stroke="#111" stroke-width="0.6" />
<line x1="276.59" y1="238.6" x2="276.59" y2="240.2" stroke="#111" stroke-width="0.6" />
<line x1="278.05" y1="238.6" x2="278.05" y2="240.2" stroke="#111" stroke-width="0.6" />
<line x1="279.25" y1="238.6" x2="279.25" y2="240.2" stroke="#111" stroke-width="0.6" />
<line x1="280.26" y1="238.6" x2="280.26" y2="240.2" stroke="#111" stroke-width="0.6" />
<line x1="281.14" y1="238.6" x2="281.14" y2="240.2" stroke="#111" stroke-width="0.6" />
<line x1="281.91" y1="238.6" x2="281.91" y2="240.2" stroke="#111" stroke-width="0.6" />
<line x1="287.15" y1="238.6" x2="287.15" y2="240.2" stroke="#111" stroke-width="0.6" />
<line x1="289.8" y1="238.6" x2="289.8" y2="240.2" stroke="#111" stroke-width="0.6" />
<line x1="291.69" y1="238.6" x2="291.69" y2="240.2" stroke="#111" stroke-width="0.6" />
<line x1="293.15" y1="238.6" x2="293.15" y2="240.2" stroke="#111" stroke-width="0.6" />
<line x1="294.35" y1="238.6" x2="294.35" y2="240.2" stroke="#111" stroke-width="0.6" />
<line x1="295.36" y1="238.6" x2="295.36" y2="240.2" stroke="#111" stroke-width="0.6" />
<line x1="296.24" y1="238.6" x2="296.24" y2="240.2" stroke="#111" stroke-width="0.6" />
<line x1="297.01" y1="238.6" x2="297.01" y2="240.2" stroke="#111" stroke-width="0.6" />
<line x1="302.25" y1="238.6" x2="302.25" y2="240.2" stroke="#111" stroke-width="0.6" />
<line x1="304.9" y1="238.6" x2="304.9" y2="240.2" stroke="#111" stroke-width="0.6" />
<text transform="translate(177,193.9) rotate(-90) scale(0.633,1)" x="0" y="0" font-size="9.3" text-anchor="middle" fill="#1a1a1a" font-weight="normal" stroke="#1a1a1a" stroke-width="0.35" letter-spacing="0.35" word-spacing="1.2">CD69<tspan font-size="7.5" dy="-4.6">+</tspan><tspan dy="4.6"> T cells (%)</tspan></text>
<text transform="translate(254,263.6) scale(0.695,1)" x="0" y="0" font-size="9.0" text-anchor="middle" fill="#1a1a1a" font-weight="normal" stroke="#1a1a1a" stroke-width="0.35" letter-spacing="0.35" word-spacing="1.2">[AMG 701] (pM)</text>
<path d="M225.8,234.29 C225.97,234.28 226.47,234.25 226.8,234.23 C227.13,234.2 227.47,234.18 227.8,234.16 C228.13,234.13 228.47,234.11 228.8,234.08 C229.13,234.05 229.47,234.02 229.8,233.99 C230.13,233.96 230.47,233.93 230.8,233.9 C231.13,233.87 231.47,233.83 231.8,233.8 C232.13,233.76 232.47,233.72 232.8,233.68 C233.13,233.64 233.47,233.6 233.8,233.56 C234.13,233.51 234.47,233.47 234.8,233.42 C235.13,233.37 235.47,233.32 235.8,233.27 C236.13,233.21 236.47,233.16 236.8,233.1 C237.13,233.04 237.47,232.98 237.8,232.92 C238.13,232.85 238.47,232.79 238.8,232.72 C239.13,232.64 239.47,232.57 239.8,232.49 C240.13,232.42 240.47,232.34 240.8,232.25 C241.13,232.17 241.47,232.08 241.8,231.99 C242.13,231.89 242.47,231.8 242.8,231.69 C243.13,231.59 243.47,231.49 243.8,231.37 C244.13,231.26 244.47,231.15 244.8,231.02 C245.13,230.9 245.47,230.78 245.8,230.64 C246.13,230.51 246.47,230.37 246.8,230.23 C247.13,230.08 247.47,229.93 247.8,229.77 C248.13,229.61 248.47,229.45 248.8,229.27 C249.13,229.1 249.47,228.92 249.8,228.74 C250.13,228.55 250.47,228.35 250.8,228.15 C251.13,227.95 251.47,227.73 251.8,227.51 C252.13,227.29 252.47,227.06 252.8,226.82 C253.13,226.59 253.47,226.34 253.8,226.08 C254.13,225.82 254.47,225.55 254.8,225.28 C255.13,225 255.47,224.71 255.8,224.41 C256.13,224.11 256.47,223.8 256.8,223.48 C257.13,223.16 257.47,222.83 257.8,222.49 C258.13,222.14 258.47,221.79 258.8,221.42 C259.13,221.05 259.47,220.68 259.8,220.28 C260.13,219.89 260.47,219.49 260.8,219.08 C261.13,218.66 261.47,218.24 261.8,217.8 C262.13,217.36 262.47,216.91 262.8,216.45 C263.13,215.99 263.47,215.51 263.8,215.03 C264.13,214.54 264.47,214.05 264.8,213.54 C265.13,213.03 265.47,212.51 265.8,211.98 C266.13,211.45 266.47,210.91 266.8,210.36 C267.13,209.81 267.47,209.25 267.8,208.69 C268.13,208.12 268.47,207.54 268.8,206.96 C269.13,206.37 269.47,205.78 269.8,205.18 C270.13,204.58 270.47,203.98 270.8,203.37 C271.13,202.76 271.47,202.14 271.8,201.52 C272.13,200.9 272.47,200.28 272.8,199.65 C273.13,199.03 273.47,198.4 273.8,197.77 C274.13,197.14 274.47,196.51 274.8,195.89 C275.13,195.26 275.47,194.63 275.8,194 C276.13,193.38 276.47,192.75 276.8,192.14 C277.13,191.52 277.47,190.9 277.8,190.29 C278.13,189.68 278.47,189.07 278.8,188.48 C279.13,187.88 279.47,187.29 279.8,186.7 C280.13,186.12 280.47,185.54 280.8,184.97 C281.13,184.41 281.47,183.85 281.8,183.3 C282.13,182.75 282.47,182.21 282.8,181.68 C283.13,181.15 283.47,180.63 283.8,180.12 C284.13,179.62 284.47,179.12 284.8,178.63 C285.13,178.15 285.47,177.68 285.8,177.21 C286.13,176.75 286.47,176.3 286.8,175.86 C287.13,175.43 287.47,175 287.8,174.59 C288.13,174.17 288.47,173.77 288.8,173.38 C289.13,172.99 289.47,172.61 289.8,172.24 C290.13,171.88 290.47,171.52 290.8,171.18 C291.13,170.84 291.47,170.51 291.8,170.18 C292.13,169.86 292.47,169.55 292.8,169.26 C293.13,168.96 293.47,168.67 293.8,168.39 C294.13,168.11 294.47,167.85 294.8,167.59 C295.13,167.33 295.47,167.08 295.8,166.84 C296.13,166.61 296.47,166.38 296.8,166.16 C297.13,165.94 297.47,165.72 297.8,165.52 C298.13,165.32 298.47,165.12 298.8,164.94 C299.13,164.75 299.47,164.57 299.8,164.4 C300.13,164.22 300.47,164.06 300.8,163.9 C301.13,163.74 301.47,163.59 301.8,163.45 C302.13,163.3 302.63,163.1 302.8,163.03" fill="none" stroke="#5aae32" stroke-width="1.0"/>
<line x1="212.2" y1="234.91" x2="220.6" y2="234.91" stroke="#5aae32" stroke-width="1.0" />
<path d="M225.8,234.33 C225.97,234.32 226.47,234.3 226.8,234.28 C227.13,234.25 227.47,234.23 227.8,234.21 C228.13,234.19 228.47,234.16 228.8,234.14 C229.13,234.11 229.47,234.09 229.8,234.06 C230.13,234.03 230.47,234 230.8,233.97 C231.13,233.94 231.47,233.91 231.8,233.88 C232.13,233.84 232.47,233.81 232.8,233.77 C233.13,233.73 233.47,233.69 233.8,233.65 C234.13,233.61 234.47,233.57 234.8,233.52 C235.13,233.48 235.47,233.43 235.8,233.38 C236.13,233.33 236.47,233.28 236.8,233.23 C237.13,233.17 237.47,233.12 237.8,233.06 C238.13,233 238.47,232.93 238.8,232.87 C239.13,232.8 239.47,232.74 239.8,232.66 C240.13,232.59 240.47,232.52 240.8,232.44 C241.13,232.36 241.47,232.28 241.8,232.19 C242.13,232.1 242.47,232.01 242.8,231.92 C243.13,231.82 243.47,231.72 243.8,231.62 C244.13,231.51 244.47,231.41 244.8,231.29 C245.13,231.18 245.47,231.06 245.8,230.93 C246.13,230.81 246.47,230.68 246.8,230.54 C247.13,230.41 247.47,230.27 247.8,230.12 C248.13,229.97 248.47,229.81 248.8,229.65 C249.13,229.49 249.47,229.32 249.8,229.15 C250.13,228.97 250.47,228.79 250.8,228.6 C251.13,228.4 251.47,228.21 251.8,228 C252.13,227.79 252.47,227.57 252.8,227.35 C253.13,227.12 253.47,226.89 253.8,226.65 C254.13,226.4 254.47,226.15 254.8,225.89 C255.13,225.63 255.47,225.35 255.8,225.07 C256.13,224.79 256.47,224.49 256.8,224.19 C257.13,223.89 257.47,223.57 257.8,223.24 C258.13,222.92 258.47,222.58 258.8,222.23 C259.13,221.88 259.47,221.52 259.8,221.15 C260.13,220.78 260.47,220.39 260.8,220 C261.13,219.6 261.47,219.19 261.8,218.77 C262.13,218.35 262.47,217.92 262.8,217.48 C263.13,217.03 263.47,216.57 263.8,216.11 C264.13,215.64 264.47,215.16 264.8,214.67 C265.13,214.18 265.47,213.68 265.8,213.16 C266.13,212.65 266.47,212.12 266.8,211.59 C267.13,211.06 267.47,210.51 267.8,209.96 C268.13,209.4 268.47,208.84 268.8,208.27 C269.13,207.69 269.47,207.11 269.8,206.53 C270.13,205.94 270.47,205.34 270.8,204.74 C271.13,204.14 271.47,203.53 271.8,202.92 C272.13,202.3 272.47,201.69 272.8,201.07 C273.13,200.44 273.47,199.82 273.8,199.19 C274.13,198.57 274.47,197.94 274.8,197.31 C275.13,196.68 275.47,196.05 275.8,195.42 C276.13,194.8 276.47,194.17 276.8,193.54 C277.13,192.92 277.47,192.3 277.8,191.68 C278.13,191.06 278.47,190.45 278.8,189.84 C279.13,189.24 279.47,188.63 279.8,188.04 C280.13,187.44 280.47,186.85 280.8,186.27 C281.13,185.69 281.47,185.12 281.8,184.56 C282.13,183.99 282.47,183.44 282.8,182.89 C283.13,182.35 283.47,181.82 283.8,181.29 C284.13,180.77 284.47,180.25 284.8,179.75 C285.13,179.25 285.47,178.76 285.8,178.28 C286.13,177.8 286.47,177.33 286.8,176.88 C287.13,176.42 287.47,175.98 287.8,175.54 C288.13,175.11 288.47,174.69 288.8,174.28 C289.13,173.88 289.47,173.48 289.8,173.09 C290.13,172.71 290.47,172.34 290.8,171.98 C291.13,171.62 291.47,171.27 291.8,170.93 C292.13,170.59 292.47,170.27 292.8,169.95 C293.13,169.64 293.47,169.33 293.8,169.04 C294.13,168.74 294.47,168.46 294.8,168.19 C295.13,167.92 295.47,167.65 295.8,167.4 C296.13,167.15 296.47,166.9 296.8,166.67 C297.13,166.44 297.47,166.21 297.8,166 C298.13,165.78 298.47,165.57 298.8,165.37 C299.13,165.17 299.47,164.98 299.8,164.8 C300.13,164.62 300.47,164.44 300.8,164.27 C301.13,164.1 301.47,163.94 301.8,163.79 C302.13,163.63 302.63,163.41 302.8,163.34" fill="none" stroke="#1e3d8c" stroke-width="1.0"/>
<line x1="212.2" y1="234.91" x2="220.6" y2="234.91" stroke="#1e3d8c" stroke-width="1.0" />
<path d="M225.8,234.59 C225.97,234.58 226.47,234.56 226.8,234.55 C227.13,234.53 227.47,234.52 227.8,234.5 C228.13,234.48 228.47,234.46 228.8,234.44 C229.13,234.42 229.47,234.4 229.8,234.38 C230.13,234.36 230.47,234.33 230.8,234.31 C231.13,234.28 231.47,234.25 231.8,234.22 C232.13,234.19 232.47,234.16 232.8,234.13 C233.13,234.1 233.47,234.06 233.8,234.02 C234.13,233.99 234.47,233.95 234.8,233.9 C235.13,233.86 235.47,233.81 235.8,233.77 C236.13,233.72 236.47,233.67 236.8,233.61 C237.13,233.55 237.47,233.5 237.8,233.43 C238.13,233.37 238.47,233.31 238.8,233.23 C239.13,233.16 239.47,233.09 239.8,233.01 C240.13,232.93 240.47,232.84 240.8,232.75 C241.13,232.66 241.47,232.57 241.8,232.46 C242.13,232.36 242.47,232.25 242.8,232.14 C243.13,232.02 243.47,231.9 243.8,231.77 C244.13,231.64 244.47,231.5 244.8,231.36 C245.13,231.21 245.47,231.05 245.8,230.89 C246.13,230.72 246.47,230.55 246.8,230.37 C247.13,230.18 247.47,229.99 247.8,229.78 C248.13,229.57 248.47,229.35 248.8,229.12 C249.13,228.89 249.47,228.65 249.8,228.39 C250.13,228.13 250.47,227.86 250.8,227.57 C251.13,227.28 251.47,226.98 251.8,226.66 C252.13,226.34 252.47,226.01 252.8,225.66 C253.13,225.3 253.47,224.93 253.8,224.55 C254.13,224.16 254.47,223.75 254.8,223.33 C255.13,222.9 255.47,222.45 255.8,221.99 C256.13,221.52 256.47,221.04 256.8,220.53 C257.13,220.03 257.47,219.5 257.8,218.95 C258.13,218.4 258.47,217.83 258.8,217.24 C259.13,216.65 259.47,216.04 259.8,215.41 C260.13,214.78 260.47,214.13 260.8,213.46 C261.13,212.78 261.47,212.09 261.8,211.38 C262.13,210.68 262.47,209.95 262.8,209.2 C263.13,208.46 263.47,207.7 263.8,206.93 C264.13,206.15 264.47,205.36 264.8,204.56 C265.13,203.76 265.47,202.95 265.8,202.13 C266.13,201.31 266.47,200.48 266.8,199.65 C267.13,198.82 267.47,197.98 267.8,197.14 C268.13,196.3 268.47,195.46 268.8,194.62 C269.13,193.78 269.47,192.94 269.8,192.11 C270.13,191.28 270.47,190.45 270.8,189.63 C271.13,188.81 271.47,188 271.8,187.21 C272.13,186.41 272.47,185.62 272.8,184.85 C273.13,184.08 273.47,183.32 273.8,182.58 C274.13,181.84 274.47,181.11 274.8,180.41 C275.13,179.7 275.47,179.01 275.8,178.35 C276.13,177.68 276.47,177.03 276.8,176.4 C277.13,175.78 277.47,175.17 277.8,174.58 C278.13,174 278.47,173.43 278.8,172.89 C279.13,172.34 279.47,171.82 279.8,171.32 C280.13,170.81 280.47,170.33 280.8,169.87 C281.13,169.41 281.47,168.97 281.8,168.54 C282.13,168.12 282.47,167.72 282.8,167.33 C283.13,166.95 283.47,166.58 283.8,166.23 C284.13,165.88 284.47,165.55 284.8,165.24 C285.13,164.92 285.47,164.62 285.8,164.34 C286.13,164.05 286.47,163.78 286.8,163.53 C287.13,163.27 287.47,163.03 287.8,162.8 C288.13,162.57 288.47,162.36 288.8,162.15 C289.13,161.94 289.47,161.75 289.8,161.57 C290.13,161.39 290.47,161.21 290.8,161.05 C291.13,160.89 291.47,160.73 291.8,160.59 C292.13,160.44 292.47,160.31 292.8,160.18 C293.13,160.05 293.47,159.93 293.8,159.82 C294.13,159.7 294.47,159.59 294.8,159.49 C295.13,159.39 295.47,159.3 295.8,159.21 C296.13,159.12 296.47,159.03 296.8,158.95 C297.13,158.87 297.47,158.8 297.8,158.73 C298.13,158.66 298.47,158.6 298.8,158.53 C299.13,158.47 299.47,158.41 299.8,158.36 C300.13,158.3 300.47,158.25 300.8,158.21 C301.13,158.16 301.47,158.11 301.8,158.07 C302.13,158.03 302.63,157.97 302.8,157.95" fill="none" stroke="#8886c8" stroke-width="1.0"/>
<line x1="212.2" y1="234.91" x2="220.6" y2="234.91" stroke="#8886c8" stroke-width="1.0" />
<path d="M225.8,234.56 C225.97,234.55 226.47,234.53 226.8,234.51 C227.13,234.49 227.47,234.48 227.8,234.46 C228.13,234.44 228.47,234.42 228.8,234.4 C229.13,234.37 229.47,234.35 229.8,234.32 C230.13,234.3 230.47,234.27 230.8,234.24 C231.13,234.22 231.47,234.19 231.8,234.15 C232.13,234.12 232.47,234.09 232.8,234.05 C233.13,234.01 233.47,233.98 233.8,233.93 C234.13,233.89 234.47,233.85 234.8,233.8 C235.13,233.75 235.47,233.7 235.8,233.65 C236.13,233.6 236.47,233.54 236.8,233.48 C237.13,233.42 237.47,233.35 237.8,233.29 C238.13,233.22 238.47,233.14 238.8,233.07 C239.13,232.99 239.47,232.91 239.8,232.82 C240.13,232.73 240.47,232.64 240.8,232.54 C241.13,232.44 241.47,232.33 241.8,232.22 C242.13,232.11 242.47,231.99 242.8,231.86 C243.13,231.74 243.47,231.6 243.8,231.46 C244.13,231.32 244.47,231.17 244.8,231.01 C245.13,230.85 245.47,230.68 245.8,230.5 C246.13,230.32 246.47,230.13 246.8,229.93 C247.13,229.73 247.47,229.51 247.8,229.29 C248.13,229.06 248.47,228.83 248.8,228.57 C249.13,228.32 249.47,228.06 249.8,227.78 C250.13,227.5 250.47,227.2 250.8,226.89 C251.13,226.58 251.47,226.26 251.8,225.91 C252.13,225.57 252.47,225.21 252.8,224.83 C253.13,224.45 253.47,224.05 253.8,223.64 C254.13,223.22 254.47,222.78 254.8,222.33 C255.13,221.87 255.47,221.4 255.8,220.9 C256.13,220.4 256.47,219.89 256.8,219.35 C257.13,218.81 257.47,218.25 257.8,217.67 C258.13,217.09 258.47,216.49 258.8,215.87 C259.13,215.25 259.47,214.61 259.8,213.95 C260.13,213.28 260.47,212.6 260.8,211.9 C261.13,211.2 261.47,210.48 261.8,209.75 C262.13,209.01 262.47,208.26 262.8,207.49 C263.13,206.73 263.47,205.94 263.8,205.15 C264.13,204.36 264.47,203.55 264.8,202.73 C265.13,201.92 265.47,201.09 265.8,200.26 C266.13,199.43 266.47,198.59 266.8,197.76 C267.13,196.92 267.47,196.07 267.8,195.24 C268.13,194.4 268.47,193.55 268.8,192.72 C269.13,191.89 269.47,191.06 269.8,190.23 C270.13,189.41 270.47,188.6 270.8,187.79 C271.13,186.99 271.47,186.2 271.8,185.42 C272.13,184.64 272.47,183.88 272.8,183.13 C273.13,182.38 273.47,181.64 273.8,180.93 C274.13,180.22 274.47,179.52 274.8,178.84 C275.13,178.16 275.47,177.51 275.8,176.87 C276.13,176.23 276.47,175.61 276.8,175.02 C277.13,174.42 277.47,173.85 277.8,173.29 C278.13,172.74 278.47,172.2 278.8,171.69 C279.13,171.18 279.47,170.68 279.8,170.21 C280.13,169.74 280.47,169.29 280.8,168.86 C281.13,168.43 281.47,168.01 281.8,167.62 C282.13,167.23 282.47,166.85 282.8,166.49 C283.13,166.13 283.47,165.8 283.8,165.47 C284.13,165.15 284.47,164.84 284.8,164.55 C285.13,164.26 285.47,163.98 285.8,163.72 C286.13,163.45 286.47,163.21 286.8,162.97 C287.13,162.74 287.47,162.51 287.8,162.3 C288.13,162.09 288.47,161.89 288.8,161.71 C289.13,161.52 289.47,161.34 289.8,161.17 C290.13,161 290.47,160.85 290.8,160.7 C291.13,160.55 291.47,160.41 291.8,160.28 C292.13,160.14 292.47,160.02 292.8,159.9 C293.13,159.78 293.47,159.67 293.8,159.57 C294.13,159.46 294.47,159.37 294.8,159.27 C295.13,159.18 295.47,159.09 295.8,159.01 C296.13,158.93 296.47,158.86 296.8,158.78 C297.13,158.71 297.47,158.64 297.8,158.58 C298.13,158.52 298.47,158.46 298.8,158.4 C299.13,158.34 299.47,158.29 299.8,158.24 C300.13,158.19 300.47,158.15 300.8,158.1 C301.13,158.06 301.47,158.02 301.8,157.98 C302.13,157.94 302.63,157.89 302.8,157.87" fill="none" stroke="#bc0828" stroke-width="1.0"/>
<line x1="212.2" y1="234.06" x2="220.6" y2="234.06" stroke="#bc0828" stroke-width="1.0" />
<polygon points="214.2,230.92 216.5,233.22 214.2,235.52 211.9,233.22" fill="#fff" stroke="#b0b0b4" stroke-width="0.8" stroke-linejoin="round" />
<polygon points="233.81,229.22 236.12,231.52 233.81,233.82 231.51,231.52" fill="#fff" stroke="#b0b0b4" stroke-width="0.8" stroke-linejoin="round" />
<polygon points="247.59,227.53 249.89,229.83 247.59,232.13 245.29,229.83" fill="#fff" stroke="#b0b0b4" stroke-width="0.8" stroke-linejoin="round" />
<polygon points="261.29,228.38 263.59,230.68 261.29,232.98 258.99,230.68" fill="#fff" stroke="#b0b0b4" stroke-width="0.8" stroke-linejoin="round" />
<polygon points="274.49,224.99 276.79,227.29 274.49,229.59 272.19,227.29" fill="#fff" stroke="#b0b0b4" stroke-width="0.8" stroke-linejoin="round" />
<polygon points="287.9,214 290.2,216.3 287.9,218.6 285.6,216.3" fill="#fff" stroke="#b0b0b4" stroke-width="0.8" stroke-linejoin="round" />
<polygon points="302.4,202.15 304.7,204.45 302.4,206.75 300.1,204.45" fill="#fff" stroke="#b0b0b4" stroke-width="0.8" stroke-linejoin="round" />
<polygon points="214.2,231.14 216.57,227.27 211.84,227.27" fill="#fff" stroke="#283252" stroke-width="0.9" stroke-linejoin="round" />
<polygon points="233.81,230.46 236.18,226.59 231.45,226.59" fill="#fff" stroke="#283252" stroke-width="0.9" stroke-linejoin="round" />
<polygon points="247.59,229.44 249.96,225.57 245.22,225.57" fill="#fff" stroke="#283252" stroke-width="0.9" stroke-linejoin="round" />
<polygon points="261.29,230.97 263.66,227.1 258.93,227.1" fill="#fff" stroke="#283252" stroke-width="0.9" stroke-linejoin="round" />
<polygon points="274.49,227.33 276.85,223.46 272.12,223.46" fill="#fff" stroke="#283252" stroke-width="0.9" stroke-linejoin="round" />
<polygon points="287.9,214.22 290.26,210.35 285.53,210.35" fill="#fff" stroke="#283252" stroke-width="0.9" stroke-linejoin="round" />
<polygon points="302.4,194.76 304.76,190.89 300.03,190.89" fill="#fff" stroke="#283252" stroke-width="0.9" stroke-linejoin="round" />
<rect x="212.45" y="233.16" width="3.5" height="3.5" fill="#5aae32"/>
<rect x="228.15" y="231.47" width="3.5" height="3.5" fill="#5aae32"/>
<rect x="235.4" y="230.62" width="3.5" height="3.5" fill="#5aae32"/>
<rect x="242.65" y="230.62" width="3.5" height="3.5" fill="#5aae32"/>
<rect x="249.9" y="228.08" width="3.5" height="3.5" fill="#5aae32"/>
<rect x="257.15" y="223.85" width="3.5" height="3.5" fill="#5aae32"/>
<rect x="264.4" y="206.93" width="3.5" height="3.5" fill="#5aae32"/>
<rect x="271.65" y="195.09" width="3.5" height="3.5" fill="#5aae32"/>
<rect x="278.9" y="182.4" width="3.5" height="3.5" fill="#5aae32"/>
<line x1="287.9" y1="180.76" x2="287.9" y2="174" stroke="#5aae32" stroke-width="0.6" />
<line x1="286.7" y1="180.76" x2="289.1" y2="180.76" stroke="#5aae32" stroke-width="0.6" />
<line x1="286.7" y1="174" x2="289.1" y2="174" stroke="#5aae32" stroke-width="0.6" />
<rect x="286.15" y="175.63" width="3.5" height="3.5" fill="#5aae32"/>
<rect x="293.4" y="165.48" width="3.5" height="3.5" fill="#5aae32"/>
<rect x="300.65" y="160.4" width="3.5" height="3.5" fill="#5aae32"/>
<polygon points="214.2,233.01 216.1,236.43 212.3,236.43" fill="#1e3d8c" stroke="none" stroke-width="0.8" stroke-linejoin="round" />
<polygon points="229.9,233.01 231.8,236.43 228,236.43" fill="#1e3d8c" stroke="none" stroke-width="0.8" stroke-linejoin="round" />
<polygon points="237.15,232.16 239.05,235.58 235.25,235.58" fill="#1e3d8c" stroke="none" stroke-width="0.8" stroke-linejoin="round" />
<polygon points="244.4,231.32 246.3,234.74 242.5,234.74" fill="#1e3d8c" stroke="none" stroke-width="0.8" stroke-linejoin="round" />
<polygon points="251.65,229.62 253.55,233.04 249.75,233.04" fill="#1e3d8c" stroke="none" stroke-width="0.8" stroke-linejoin="round" />
<polygon points="258.9,224.55 260.8,227.97 257,227.97" fill="#1e3d8c" stroke="none" stroke-width="0.8" stroke-linejoin="round" />
<polygon points="266.15,209.32 268.05,212.74 264.25,212.74" fill="#1e3d8c" stroke="none" stroke-width="0.8" stroke-linejoin="round" />
<polygon points="273.4,199.17 275.3,202.59 271.5,202.59" fill="#1e3d8c" stroke="none" stroke-width="0.8" stroke-linejoin="round" />
<polygon points="280.65,186.48 282.55,189.9 278.75,189.9" fill="#1e3d8c" stroke="none" stroke-width="0.8" stroke-linejoin="round" />
<polygon points="287.9,173.79 289.8,177.21 286,177.21" fill="#1e3d8c" stroke="none" stroke-width="0.8" stroke-linejoin="round" />
<polygon points="295.15,163.64 297.05,167.06 293.25,167.06" fill="#1e3d8c" stroke="none" stroke-width="0.8" stroke-linejoin="round" />
<polygon points="302.4,158.56 304.3,161.98 300.5,161.98" fill="#1e3d8c" stroke="none" stroke-width="0.8" stroke-linejoin="round" />
<polygon points="214.2,236.76 216.05,233.43 212.35,233.43" fill="#8886c8" stroke="none" stroke-width="0.8" stroke-linejoin="round" />
<polygon points="229.9,236.76 231.75,233.43 228.05,233.43" fill="#8886c8" stroke="none" stroke-width="0.8" stroke-linejoin="round" />
<polygon points="237.15,235.91 239,232.58 235.3,232.58" fill="#8886c8" stroke="none" stroke-width="0.8" stroke-linejoin="round" />
<polygon points="244.4,235.07 246.25,231.74 242.55,231.74" fill="#8886c8" stroke="none" stroke-width="0.8" stroke-linejoin="round" />
<polygon points="251.65,232.53 253.5,229.2 249.8,229.2" fill="#8886c8" stroke="none" stroke-width="0.8" stroke-linejoin="round" />
<polygon points="258.9,221.53 260.75,218.2 257.05,218.2" fill="#8886c8" stroke="none" stroke-width="0.8" stroke-linejoin="round" />
<polygon points="266.15,204.61 268,201.28 264.3,201.28" fill="#8886c8" stroke="none" stroke-width="0.8" stroke-linejoin="round" />
<polygon points="273.4,189.38 275.25,186.05 271.55,186.05" fill="#8886c8" stroke="none" stroke-width="0.8" stroke-linejoin="round" />
<polygon points="280.65,176.69 282.5,173.36 278.8,173.36" fill="#8886c8" stroke="none" stroke-width="0.8" stroke-linejoin="round" />
<polygon points="287.9,164 289.75,160.67 286.05,160.67" fill="#8886c8" stroke="none" stroke-width="0.8" stroke-linejoin="round" />
<polygon points="295.15,161.46 297,158.13 293.3,158.13" fill="#8886c8" stroke="none" stroke-width="0.8" stroke-linejoin="round" />
<polygon points="302.4,159.77 304.25,156.44 300.55,156.44" fill="#8886c8" stroke="none" stroke-width="0.8" stroke-linejoin="round" />
<circle cx="214.2" cy="233.64" r="1.75" fill="#bc0828"/>
<circle cx="229.9" cy="234.91" r="1.75" fill="#bc0828"/>
<circle cx="237.15" cy="234.06" r="1.75" fill="#bc0828"/>
<circle cx="244.4" cy="233.22" r="1.75" fill="#bc0828"/>
<circle cx="251.65" cy="230.68" r="1.75" fill="#bc0828"/>
<circle cx="258.9" cy="217.99" r="1.75" fill="#bc0828"/>
<circle cx="266.15" cy="200.22" r="1.75" fill="#bc0828"/>
<circle cx="273.4" cy="184.15" r="1.75" fill="#bc0828"/>
<circle cx="280.65" cy="176.53" r="1.75" fill="#bc0828"/>
<circle cx="287.9" cy="163.84" r="1.75" fill="#bc0828"/>
<circle cx="295.15" cy="159.61" r="1.75" fill="#bc0828"/>
<circle cx="302.4" cy="158.77" r="1.75" fill="#bc0828"/>
<circle cx="211.5" cy="160.5" r="1.75" fill="#bc0828"/>
<text x="216" y="162.8" font-size="7.3" text-anchor="start" fill="#222" font-weight="normal"  stroke="#222" stroke-width="0.12">L-363</text>
<rect x="209.75" y="167.95" width="3.5" height="3.5" fill="#5aae32"/>
<text x="216" y="172" font-size="7.3" text-anchor="start" fill="#222" font-weight="normal"  stroke="#222" stroke-width="0.12">MM1.R</text>
<polygon points="211.5,177 213.4,180.42 209.6,180.42" fill="#1e3d8c" stroke="none" stroke-width="0.8" stroke-linejoin="round" />
<text x="216" y="181.2" font-size="7.3" text-anchor="start" fill="#222" font-weight="normal"  stroke="#222" stroke-width="0.12">MOLP-2</text>
<polygon points="211.5,189.95 213.35,186.62 209.65,186.62" fill="#8886c8" stroke="none" stroke-width="0.8" stroke-linejoin="round" />
<text x="216" y="190.4" font-size="7.3" text-anchor="start" fill="#222" font-weight="normal"  stroke="#222" stroke-width="0.12">NCI-H929</text>
<polygon points="211.5,199.45 213.87,195.58 209.13,195.58" fill="#fff" stroke="#283252" stroke-width="0.9" stroke-linejoin="round" />
<text x="216" y="199.6" font-size="7.3" text-anchor="start" fill="#222" font-weight="normal"  stroke="#222" stroke-width="0.12">HCT-116</text>
<polygon points="211.5,204.2 213.8,206.5 211.5,208.8 209.2,206.5" fill="#fff" stroke="#b0b0b4" stroke-width="0.8" stroke-linejoin="round" />
<text x="216" y="208.8" font-size="7.3" text-anchor="start" fill="#222" font-weight="normal"  stroke="#222" stroke-width="0.12">PBMC</text>
<text x="321" y="141.9" font-size="11.2" text-anchor="start" fill="#000" font-weight="bold" >D</text>
<line x1="358.6" y1="149" x2="358.6" y2="239.2" stroke="#111" stroke-width="1.2" />
<line x1="355.3" y1="236.6" x2="358.6" y2="236.6" stroke="#111" stroke-width="0.9" />
<text transform="translate(353,238.9) scale(1.1,1)" font-size="7.6" text-anchor="end" fill="#222" font-weight="normal"  stroke="#222" stroke-width="0.12">0</text>
<line x1="356.8" y1="228.14" x2="358.6" y2="228.14" stroke="#111" stroke-width="0.7" />
<line x1="355.3" y1="219.68" x2="358.6" y2="219.68" stroke="#111" stroke-width="0.9" />
<text transform="translate(353,221.98) scale(1.1,1)" font-size="7.6" text-anchor="end" fill="#222" font-weight="normal"  stroke="#222" stroke-width="0.12">20</text>
<line x1="356.8" y1="211.22" x2="358.6" y2="211.22" stroke="#111" stroke-width="0.7" />
<line x1="355.3" y1="202.76" x2="358.6" y2="202.76" stroke="#111" stroke-width="0.9" />
<text transform="translate(353,205.06) scale(1.1,1)" font-size="7.6" text-anchor="end" fill="#222" font-weight="normal"  stroke="#222" stroke-width="0.12">40</text>
<line x1="356.8" y1="194.3" x2="358.6" y2="194.3" stroke="#111" stroke-width="0.7" />
<line x1="355.3" y1="185.84" x2="358.6" y2="185.84" stroke="#111" stroke-width="0.9" />
<text transform="translate(353,188.14) scale(1.1,1)" font-size="7.6" text-anchor="end" fill="#222" font-weight="normal"  stroke="#222" stroke-width="0.12">60</text>
<line x1="356.8" y1="177.38" x2="358.6" y2="177.38" stroke="#111" stroke-width="0.7" />
<line x1="355.3" y1="168.92" x2="358.6" y2="168.92" stroke="#111" stroke-width="0.9" />
<text transform="translate(353,171.22) scale(1.1,1)" font-size="7.6" text-anchor="end" fill="#222" font-weight="normal"  stroke="#222" stroke-width="0.12">80</text>
<line x1="356.8" y1="160.46" x2="358.6" y2="160.46" stroke="#111" stroke-width="0.7" />
<line x1="355.3" y1="152" x2="358.6" y2="152" stroke="#111" stroke-width="0.9" />
<text transform="translate(353,154.3) scale(1.1,1)" font-size="7.6" text-anchor="end" fill="#222" font-weight="normal"  stroke="#222" stroke-width="0.12">100</text>
<line x1="358.6" y1="236.6" x2="463.1" y2="236.6" stroke="#666" stroke-width="0.6" stroke-dasharray="0.6,1.0"/>
<line x1="358.6" y1="238.6" x2="378.1" y2="238.6" stroke="#111" stroke-width="1.3" />
<line x1="382.8" y1="238.6" x2="463.1" y2="238.6" stroke="#111" stroke-width="1.3" />
<line x1="377.9" y1="236.9" x2="377.9" y2="240.6" stroke="#111" stroke-width="1.3" />
<line x1="383" y1="236.9" x2="383" y2="240.6" stroke="#111" stroke-width="1.3" />
<line x1="371.5" y1="238.6" x2="371.5" y2="241.6" stroke="#111" stroke-width="0.9" />
<text transform="translate(371.5,251.8) scale(1.1,1)" font-size="7.6" text-anchor="middle" fill="#222" font-weight="normal"  stroke="#222" stroke-width="0.12">0</text>
<line x1="394.6" y1="238.6" x2="394.6" y2="241.6" stroke="#111" stroke-width="0.9" />
<text transform="translate(388.82,251.8) scale(1.1,1)" font-size="7.6" fill="#222">10<tspan font-size="5.32" dy="-3.19">0</tspan></text>
<line x1="409.7" y1="238.6" x2="409.7" y2="241.6" stroke="#111" stroke-width="0.9" />
<text transform="translate(403.92,251.8) scale(1.1,1)" font-size="7.6" fill="#222">10<tspan font-size="5.32" dy="-3.19">1</tspan></text>
<line x1="424.8" y1="238.6" x2="424.8" y2="241.6" stroke="#111" stroke-width="0.9" />
<text transform="translate(419.02,251.8) scale(1.1,1)" font-size="7.6" fill="#222">10<tspan font-size="5.32" dy="-3.19">2</tspan></text>
<line x1="439.9" y1="238.6" x2="439.9" y2="241.6" stroke="#111" stroke-width="0.9" />
<text transform="translate(434.12,251.8) scale(1.1,1)" font-size="7.6" fill="#222">10<tspan font-size="5.32" dy="-3.19">3</tspan></text>
<line x1="455" y1="238.6" x2="455" y2="241.6" stroke="#111" stroke-width="0.9" />
<text transform="translate(449.22,251.8) scale(1.1,1)" font-size="7.6" fill="#222">10<tspan font-size="5.32" dy="-3.19">4</tspan></text>
<line x1="384.05" y1="238.6" x2="384.05" y2="240.2" stroke="#111" stroke-width="0.6" />
<line x1="386.7" y1="238.6" x2="386.7" y2="240.2" stroke="#111" stroke-width="0.6" />
<line x1="388.59" y1="238.6" x2="388.59" y2="240.2" stroke="#111" stroke-width="0.6" />
<line x1="390.05" y1="238.6" x2="390.05" y2="240.2" stroke="#111" stroke-width="0.6" />
<line x1="391.25" y1="238.6" x2="391.25" y2="240.2" stroke="#111" stroke-width="0.6" />
<line x1="392.26" y1="238.6" x2="392.26" y2="240.2" stroke="#111" stroke-width="0.6" />
<line x1="393.14" y1="238.6" x2="393.14" y2="240.2" stroke="#111" stroke-width="0.6" />
<line x1="393.91" y1="238.6" x2="393.91" y2="240.2" stroke="#111" stroke-width="0.6" />
<line x1="399.15" y1="238.6" x2="399.15" y2="240.2" stroke="#111" stroke-width="0.6" />
<line x1="401.8" y1="238.6" x2="401.8" y2="240.2" stroke="#111" stroke-width="0.6" />
<line x1="403.69" y1="238.6" x2="403.69" y2="240.2" stroke="#111" stroke-width="0.6" />
<line x1="405.15" y1="238.6" x2="405.15" y2="240.2" stroke="#111" stroke-width="0.6" />
<line x1="406.35" y1="238.6" x2="406.35" y2="240.2" stroke="#111" stroke-width="0.6" />
<line x1="407.36" y1="238.6" x2="407.36" y2="240.2" stroke="#111" stroke-width="0.6" />
<line x1="408.24" y1="238.6" x2="408.24" y2="240.2" stroke="#111" stroke-width="0.6" />
<line x1="409.01" y1="238.6" x2="409.01" y2="240.2" stroke="#111" stroke-width="0.6" />
<line x1="414.25" y1="238.6" x2="414.25" y2="240.2" stroke="#111" stroke-width="0.6" />
<line x1="416.9" y1="238.6" x2="416.9" y2="240.2" stroke="#111" stroke-width="0.6" />
<line x1="418.79" y1="238.6" x2="418.79" y2="240.2" stroke="#111" stroke-width="0.6" />
<line x1="420.25" y1="238.6" x2="420.25" y2="240.2" stroke="#111" stroke-width="0.6" />
<line x1="421.45" y1="238.6" x2="421.45" y2="240.2" stroke="#111" stroke-width="0.6" />
<line x1="422.46" y1="238.6" x2="422.46" y2="240.2" stroke="#111" stroke-width="0.6" />
<line x1="423.34" y1="238.6" x2="423.34" y2="240.2" stroke="#111" stroke-width="0.6" />
<line x1="424.11" y1="238.6" x2="424.11" y2="240.2" stroke="#111" stroke-width="0.6" />
<line x1="429.35" y1="238.6" x2="429.35" y2="240.2" stroke="#111" stroke-width="0.6" />
<line x1="432" y1="238.6" x2="432" y2="240.2" stroke="#111" stroke-width="0.6" />
<line x1="433.89" y1="238.6" x2="433.89" y2="240.2" stroke="#111" stroke-width="0.6" />
<line x1="435.35" y1="238.6" x2="435.35" y2="240.2" stroke="#111" stroke-width="0.6" />
<line x1="436.55" y1="238.6" x2="436.55" y2="240.2" stroke="#111" stroke-width="0.6" />
<line x1="437.56" y1="238.6" x2="437.56" y2="240.2" stroke="#111" stroke-width="0.6" />
<line x1="438.44" y1="238.6" x2="438.44" y2="240.2" stroke="#111" stroke-width="0.6" />
<line x1="439.21" y1="238.6" x2="439.21" y2="240.2" stroke="#111" stroke-width="0.6" />
<line x1="444.45" y1="238.6" x2="444.45" y2="240.2" stroke="#111" stroke-width="0.6" />
<line x1="447.1" y1="238.6" x2="447.1" y2="240.2" stroke="#111" stroke-width="0.6" />
<line x1="448.99" y1="238.6" x2="448.99" y2="240.2" stroke="#111" stroke-width="0.6" />
<line x1="450.45" y1="238.6" x2="450.45" y2="240.2" stroke="#111" stroke-width="0.6" />
<line x1="451.65" y1="238.6" x2="451.65" y2="240.2" stroke="#111" stroke-width="0.6" />
<line x1="452.66" y1="238.6" x2="452.66" y2="240.2" stroke="#111" stroke-width="0.6" />
<line x1="453.54" y1="238.6" x2="453.54" y2="240.2" stroke="#111" stroke-width="0.6" />
<line x1="454.31" y1="238.6" x2="454.31" y2="240.2" stroke="#111" stroke-width="0.6" />
<line x1="459.55" y1="238.6" x2="459.55" y2="240.2" stroke="#111" stroke-width="0.6" />
<line x1="462.2" y1="238.6" x2="462.2" y2="240.2" stroke="#111" stroke-width="0.6" />
<text transform="translate(333.9,193.6) rotate(-90) scale(0.633,1)" x="0" y="0" font-size="9.3" text-anchor="middle" fill="#1a1a1a" font-weight="normal" stroke="#1a1a1a" stroke-width="0.35" letter-spacing="0.35" word-spacing="1.2">CD25<tspan font-size="7.5" dy="-4.6">+</tspan><tspan dy="4.6"> T cells (%)</tspan></text>
<text transform="translate(410,263.6) scale(0.662,1)" x="0" y="0" font-size="9.0" text-anchor="middle" fill="#1a1a1a" font-weight="normal" stroke="#1a1a1a" stroke-width="0.35" letter-spacing="0.35" word-spacing="1.2">[AMG 701] (pM)</text>
<path d="M383.1,229.92 C383.27,229.9 383.77,229.87 384.1,229.84 C384.43,229.82 384.77,229.79 385.1,229.76 C385.43,229.73 385.77,229.7 386.1,229.67 C386.43,229.64 386.77,229.61 387.1,229.57 C387.43,229.54 387.77,229.5 388.1,229.47 C388.43,229.43 388.77,229.39 389.1,229.35 C389.43,229.31 389.77,229.26 390.1,229.22 C390.43,229.17 390.77,229.13 391.1,229.08 C391.43,229.03 391.77,228.97 392.1,228.92 C392.43,228.87 392.77,228.81 393.1,228.75 C393.43,228.69 393.77,228.63 394.1,228.57 C394.43,228.5 394.77,228.43 395.1,228.36 C395.43,228.29 395.77,228.22 396.1,228.14 C396.43,228.06 396.77,227.98 397.1,227.9 C397.43,227.81 397.77,227.73 398.1,227.63 C398.43,227.54 398.77,227.45 399.1,227.34 C399.43,227.24 399.77,227.14 400.1,227.03 C400.43,226.92 400.77,226.81 401.1,226.69 C401.43,226.57 401.77,226.44 402.1,226.32 C402.43,226.19 402.77,226.05 403.1,225.91 C403.43,225.77 403.77,225.62 404.1,225.47 C404.43,225.32 404.77,225.16 405.1,224.99 C405.43,224.83 405.77,224.65 406.1,224.47 C406.43,224.3 406.77,224.11 407.1,223.92 C407.43,223.72 407.77,223.52 408.1,223.31 C408.43,223.1 408.77,222.88 409.1,222.66 C409.43,222.43 409.77,222.2 410.1,221.95 C410.43,221.71 410.77,221.46 411.1,221.2 C411.43,220.94 411.77,220.67 412.1,220.39 C412.43,220.11 412.77,219.82 413.1,219.52 C413.43,219.22 413.77,218.91 414.1,218.59 C414.43,218.27 414.77,217.94 415.1,217.6 C415.43,217.26 415.77,216.91 416.1,216.54 C416.43,216.18 416.77,215.81 417.1,215.43 C417.43,215.04 417.77,214.65 418.1,214.24 C418.43,213.84 418.77,213.42 419.1,213 C419.43,212.57 419.77,212.13 420.1,211.69 C420.43,211.24 420.77,210.78 421.1,210.31 C421.43,209.85 421.77,209.37 422.1,208.88 C422.43,208.39 422.77,207.89 423.1,207.39 C423.43,206.88 423.77,206.36 424.1,205.84 C424.43,205.31 424.77,204.78 425.1,204.24 C425.43,203.7 425.77,203.15 426.1,202.6 C426.43,202.04 426.77,201.48 427.1,200.91 C427.43,200.35 427.77,199.77 428.1,199.19 C428.43,198.62 428.77,198.04 429.1,197.45 C429.43,196.87 429.77,196.28 430.1,195.69 C430.43,195.1 430.77,194.5 431.1,193.91 C431.43,193.32 431.77,192.72 432.1,192.13 C432.43,191.54 432.77,190.95 433.1,190.36 C433.43,189.77 433.77,189.18 434.1,188.59 C434.43,188.01 434.77,187.43 435.1,186.85 C435.43,186.27 435.77,185.7 436.1,185.13 C436.43,184.57 436.77,184 437.1,183.45 C437.43,182.89 437.77,182.35 438.1,181.81 C438.43,181.27 438.77,180.73 439.1,180.21 C439.43,179.68 439.77,179.17 440.1,178.66 C440.43,178.15 440.77,177.66 441.1,177.17 C441.43,176.68 441.77,176.2 442.1,175.73 C442.43,175.27 442.77,174.81 443.1,174.36 C443.43,173.91 443.77,173.48 444.1,173.05 C444.43,172.63 444.77,172.21 445.1,171.81 C445.43,171.4 445.77,171.01 446.1,170.62 C446.43,170.24 446.77,169.87 447.1,169.51 C447.43,169.15 447.77,168.79 448.1,168.45 C448.43,168.11 448.77,167.78 449.1,167.46 C449.43,167.14 449.77,166.84 450.1,166.54 C450.43,166.24 450.77,165.95 451.1,165.67 C451.43,165.39 451.77,165.12 452.1,164.86 C452.43,164.59 452.77,164.34 453.1,164.1 C453.43,163.86 453.77,163.62 454.1,163.4 C454.43,163.17 454.77,162.96 455.1,162.75 C455.43,162.54 455.77,162.34 456.1,162.14 C456.43,161.95 456.77,161.76 457.1,161.58 C457.43,161.4 457.77,161.23 458.1,161.06 C458.43,160.9 458.77,160.74 459.1,160.59 C459.43,160.43 459.93,160.22 460.1,160.15" fill="none" stroke="#8886c8" stroke-width="1.0"/>
<line x1="369.5" y1="230.68" x2="377.9" y2="230.68" stroke="#8886c8" stroke-width="1.0" />
<path d="M383.1,230.88 C383.27,230.87 383.77,230.85 384.1,230.83 C384.43,230.81 384.77,230.79 385.1,230.77 C385.43,230.75 385.77,230.72 386.1,230.7 C386.43,230.68 386.77,230.66 387.1,230.63 C387.43,230.61 387.77,230.58 388.1,230.55 C388.43,230.53 388.77,230.5 389.1,230.47 C389.43,230.44 389.77,230.41 390.1,230.38 C390.43,230.35 390.77,230.32 391.1,230.28 C391.43,230.25 391.77,230.21 392.1,230.17 C392.43,230.14 392.77,230.1 393.1,230.06 C393.43,230.02 393.77,229.98 394.1,229.93 C394.43,229.89 394.77,229.85 395.1,229.8 C395.43,229.75 395.77,229.7 396.1,229.65 C396.43,229.6 396.77,229.55 397.1,229.49 C397.43,229.44 397.77,229.38 398.1,229.32 C398.43,229.26 398.77,229.2 399.1,229.14 C399.43,229.07 399.77,229 400.1,228.93 C400.43,228.87 400.77,228.79 401.1,228.72 C401.43,228.64 401.77,228.56 402.1,228.48 C402.43,228.4 402.77,228.32 403.1,228.23 C403.43,228.14 403.77,228.05 404.1,227.96 C404.43,227.86 404.77,227.77 405.1,227.66 C405.43,227.56 405.77,227.46 406.1,227.35 C406.43,227.24 406.77,227.12 407.1,227.01 C407.43,226.89 407.77,226.77 408.1,226.64 C408.43,226.51 408.77,226.38 409.1,226.25 C409.43,226.11 409.77,225.97 410.1,225.82 C410.43,225.68 410.77,225.53 411.1,225.37 C411.43,225.22 411.77,225.05 412.1,224.89 C412.43,224.72 412.77,224.55 413.1,224.37 C413.43,224.19 413.77,224.01 414.1,223.81 C414.43,223.62 414.77,223.43 415.1,223.22 C415.43,223.02 415.77,222.81 416.1,222.59 C416.43,222.38 416.77,222.16 417.1,221.93 C417.43,221.7 417.77,221.46 418.1,221.22 C418.43,220.97 418.77,220.72 419.1,220.46 C419.43,220.2 419.77,219.94 420.1,219.67 C420.43,219.39 420.77,219.11 421.1,218.83 C421.43,218.54 421.77,218.24 422.1,217.94 C422.43,217.64 422.77,217.33 423.1,217.01 C423.43,216.69 423.77,216.37 424.1,216.04 C424.43,215.7 424.77,215.36 425.1,215.02 C425.43,214.67 425.77,214.31 426.1,213.95 C426.43,213.59 426.77,213.22 427.1,212.84 C427.43,212.47 427.77,212.08 428.1,211.69 C428.43,211.3 428.77,210.91 429.1,210.5 C429.43,210.1 429.77,209.69 430.1,209.28 C430.43,208.86 430.77,208.44 431.1,208.02 C431.43,207.59 431.77,207.16 432.1,206.72 C432.43,206.29 432.77,205.85 433.1,205.4 C433.43,204.96 433.77,204.51 434.1,204.05 C434.43,203.6 434.77,203.15 435.1,202.69 C435.43,202.23 435.77,201.77 436.1,201.31 C436.43,200.84 436.77,200.38 437.1,199.91 C437.43,199.45 437.77,198.98 438.1,198.51 C438.43,198.05 438.77,197.58 439.1,197.11 C439.43,196.65 439.77,196.18 440.1,195.71 C440.43,195.25 440.77,194.79 441.1,194.33 C441.43,193.86 441.77,193.41 442.1,192.95 C442.43,192.49 442.77,192.04 443.1,191.59 C443.43,191.14 443.77,190.7 444.1,190.25 C444.43,189.81 444.77,189.38 445.1,188.94 C445.43,188.51 445.77,188.09 446.1,187.66 C446.43,187.24 446.77,186.83 447.1,186.42 C447.43,186.01 447.77,185.6 448.1,185.21 C448.43,184.81 448.77,184.42 449.1,184.03 C449.43,183.65 449.77,183.27 450.1,182.9 C450.43,182.53 450.77,182.17 451.1,181.81 C451.43,181.45 451.77,181.11 452.1,180.76 C452.43,180.42 452.77,180.09 453.1,179.76 C453.43,179.44 453.77,179.12 454.1,178.81 C454.43,178.5 454.77,178.19 455.1,177.9 C455.43,177.6 455.77,177.31 456.1,177.03 C456.43,176.75 456.77,176.47 457.1,176.21 C457.43,175.94 457.77,175.68 458.1,175.43 C458.43,175.18 458.77,174.93 459.1,174.7 C459.43,174.46 459.93,174.12 460.1,174" fill="none" stroke="#1e3d8c" stroke-width="1.0"/>
<line x1="369.5" y1="231.52" x2="377.9" y2="231.52" stroke="#1e3d8c" stroke-width="1.0" />
<path d="M383.1,230.05 C383.27,230.04 383.77,230.01 384.1,229.99 C384.43,229.96 384.77,229.94 385.1,229.92 C385.43,229.89 385.77,229.87 386.1,229.84 C386.43,229.82 386.77,229.79 387.1,229.76 C387.43,229.73 387.77,229.7 388.1,229.67 C388.43,229.64 388.77,229.61 389.1,229.57 C389.43,229.54 389.77,229.5 390.1,229.47 C390.43,229.43 390.77,229.39 391.1,229.35 C391.43,229.31 391.77,229.26 392.1,229.22 C392.43,229.17 392.77,229.13 393.1,229.08 C393.43,229.03 393.77,228.98 394.1,228.92 C394.43,228.87 394.77,228.81 395.1,228.75 C395.43,228.69 395.77,228.63 396.1,228.57 C396.43,228.5 396.77,228.44 397.1,228.36 C397.43,228.29 397.77,228.22 398.1,228.14 C398.43,228.07 398.77,227.99 399.1,227.9 C399.43,227.82 399.77,227.73 400.1,227.64 C400.43,227.55 400.77,227.45 401.1,227.35 C401.43,227.25 401.77,227.15 402.1,227.04 C402.43,226.93 402.77,226.82 403.1,226.7 C403.43,226.58 403.77,226.45 404.1,226.33 C404.43,226.2 404.77,226.06 405.1,225.92 C405.43,225.78 405.77,225.64 406.1,225.48 C406.43,225.33 406.77,225.18 407.1,225.01 C407.43,224.85 407.77,224.68 408.1,224.5 C408.43,224.32 408.77,224.13 409.1,223.94 C409.43,223.75 409.77,223.55 410.1,223.34 C410.43,223.13 410.77,222.92 411.1,222.69 C411.43,222.47 411.77,222.24 412.1,222 C412.43,221.76 412.77,221.51 413.1,221.25 C413.43,220.99 413.77,220.73 414.1,220.45 C414.43,220.17 414.77,219.89 415.1,219.59 C415.43,219.3 415.77,218.99 416.1,218.68 C416.43,218.36 416.77,218.04 417.1,217.7 C417.43,217.37 417.77,217.02 418.1,216.66 C418.43,216.31 418.77,215.94 419.1,215.57 C419.43,215.19 419.77,214.8 420.1,214.41 C420.43,214.01 420.77,213.6 421.1,213.19 C421.43,212.77 421.77,212.34 422.1,211.9 C422.43,211.47 422.77,211.02 423.1,210.56 C423.43,210.11 423.77,209.64 424.1,209.17 C424.43,208.69 424.77,208.21 425.1,207.71 C425.43,207.22 425.77,206.72 426.1,206.21 C426.43,205.7 426.77,205.19 427.1,204.66 C427.43,204.14 427.77,203.61 428.1,203.07 C428.43,202.54 428.77,202 429.1,201.45 C429.43,200.9 429.77,200.35 430.1,199.8 C430.43,199.24 430.77,198.68 431.1,198.12 C431.43,197.56 431.77,196.99 432.1,196.43 C432.43,195.87 432.77,195.3 433.1,194.73 C433.43,194.17 433.77,193.6 434.1,193.03 C434.43,192.47 434.77,191.9 435.1,191.34 C435.43,190.78 435.77,190.22 436.1,189.67 C436.43,189.11 436.77,188.56 437.1,188.01 C437.43,187.47 437.77,186.92 438.1,186.39 C438.43,185.85 438.77,185.32 439.1,184.8 C439.43,184.27 439.77,183.76 440.1,183.25 C440.43,182.74 440.77,182.24 441.1,181.75 C441.43,181.25 441.77,180.77 442.1,180.29 C442.43,179.82 442.77,179.35 443.1,178.9 C443.43,178.44 443.77,177.99 444.1,177.55 C444.43,177.12 444.77,176.69 445.1,176.27 C445.43,175.85 445.77,175.45 446.1,175.05 C446.43,174.65 446.77,174.27 447.1,173.89 C447.43,173.51 447.77,173.15 448.1,172.79 C448.43,172.44 448.77,172.09 449.1,171.76 C449.43,171.42 449.77,171.1 450.1,170.78 C450.43,170.46 450.77,170.16 451.1,169.86 C451.43,169.57 451.77,169.28 452.1,169 C452.43,168.73 452.77,168.46 453.1,168.2 C453.43,167.94 453.77,167.7 454.1,167.45 C454.43,167.21 454.77,166.98 455.1,166.76 C455.43,166.53 455.77,166.32 456.1,166.11 C456.43,165.9 456.77,165.7 457.1,165.51 C457.43,165.32 457.77,165.13 458.1,164.95 C458.43,164.78 458.77,164.61 459.1,164.44 C459.43,164.28 459.93,164.04 460.1,163.97" fill="none" stroke="#5aae32" stroke-width="1.0"/>
<line x1="369.5" y1="230.68" x2="377.9" y2="230.68" stroke="#5aae32" stroke-width="1.0" />
<path d="M383.1,229.08 C383.27,229.07 383.77,229.03 384.1,229.01 C384.43,228.99 384.77,228.96 385.1,228.93 C385.43,228.91 385.77,228.88 386.1,228.85 C386.43,228.82 386.77,228.79 387.1,228.75 C387.43,228.72 387.77,228.69 388.1,228.65 C388.43,228.62 388.77,228.58 389.1,228.54 C389.43,228.5 389.77,228.46 390.1,228.42 C390.43,228.38 390.77,228.33 391.1,228.29 C391.43,228.24 391.77,228.19 392.1,228.14 C392.43,228.09 392.77,228.04 393.1,227.99 C393.43,227.93 393.77,227.87 394.1,227.81 C394.43,227.75 394.77,227.69 395.1,227.63 C395.43,227.56 395.77,227.49 396.1,227.42 C396.43,227.35 396.77,227.28 397.1,227.2 C397.43,227.12 397.77,227.04 398.1,226.96 C398.43,226.87 398.77,226.78 399.1,226.69 C399.43,226.6 399.77,226.51 400.1,226.41 C400.43,226.31 400.77,226.2 401.1,226.09 C401.43,225.99 401.77,225.87 402.1,225.76 C402.43,225.64 402.77,225.52 403.1,225.39 C403.43,225.26 403.77,225.13 404.1,224.99 C404.43,224.85 404.77,224.71 405.1,224.56 C405.43,224.41 405.77,224.26 406.1,224.1 C406.43,223.93 406.77,223.77 407.1,223.59 C407.43,223.42 407.77,223.24 408.1,223.05 C408.43,222.86 408.77,222.67 409.1,222.47 C409.43,222.26 409.77,222.05 410.1,221.84 C410.43,221.62 410.77,221.39 411.1,221.16 C411.43,220.93 411.77,220.69 412.1,220.44 C412.43,220.19 412.77,219.93 413.1,219.66 C413.43,219.39 413.77,219.12 414.1,218.83 C414.43,218.55 414.77,218.25 415.1,217.95 C415.43,217.64 415.77,217.33 416.1,217.01 C416.43,216.68 416.77,216.35 417.1,216.01 C417.43,215.67 417.77,215.31 418.1,214.95 C418.43,214.59 418.77,214.22 419.1,213.84 C419.43,213.46 419.77,213.06 420.1,212.66 C420.43,212.26 420.77,211.85 421.1,211.43 C421.43,211.01 421.77,210.58 422.1,210.14 C422.43,209.7 422.77,209.25 423.1,208.79 C423.43,208.33 423.77,207.86 424.1,207.39 C424.43,206.91 424.77,206.43 425.1,205.94 C425.43,205.44 425.77,204.94 426.1,204.44 C426.43,203.93 426.77,203.41 427.1,202.89 C427.43,202.37 427.77,201.85 428.1,201.31 C428.43,200.78 428.77,200.24 429.1,199.7 C429.43,199.16 429.77,198.61 430.1,198.06 C430.43,197.51 430.77,196.95 431.1,196.4 C431.43,195.84 431.77,195.28 432.1,194.72 C432.43,194.16 432.77,193.6 433.1,193.04 C433.43,192.48 433.77,191.92 434.1,191.36 C434.43,190.8 434.77,190.24 435.1,189.68 C435.43,189.13 435.77,188.57 436.1,188.02 C436.43,187.47 436.77,186.92 437.1,186.38 C437.43,185.84 437.77,185.3 438.1,184.77 C438.43,184.23 438.77,183.7 439.1,183.18 C439.43,182.66 439.77,182.15 440.1,181.64 C440.43,181.13 440.77,180.63 441.1,180.14 C441.43,179.65 441.77,179.16 442.1,178.69 C442.43,178.21 442.77,177.74 443.1,177.29 C443.43,176.83 443.77,176.38 444.1,175.94 C444.43,175.5 444.77,175.07 445.1,174.65 C445.43,174.23 445.77,173.81 446.1,173.41 C446.43,173.01 446.77,172.62 447.1,172.24 C447.43,171.85 447.77,171.48 448.1,171.12 C448.43,170.76 448.77,170.41 449.1,170.06 C449.43,169.72 449.77,169.39 450.1,169.06 C450.43,168.74 450.77,168.43 451.1,168.12 C451.43,167.82 451.77,167.52 452.1,167.24 C452.43,166.95 452.77,166.68 453.1,166.41 C453.43,166.14 453.77,165.88 454.1,165.63 C454.43,165.38 454.77,165.14 455.1,164.91 C455.43,164.67 455.77,164.45 456.1,164.23 C456.43,164.01 456.77,163.8 457.1,163.6 C457.43,163.4 457.77,163.21 458.1,163.02 C458.43,162.83 458.77,162.65 459.1,162.47 C459.43,162.3 459.93,162.05 460.1,161.97" fill="none" stroke="#bc0828" stroke-width="1.0"/>
<line x1="369.5" y1="230.25" x2="377.9" y2="230.25" stroke="#bc0828" stroke-width="1.0" />
<polygon points="371.5,224.99 373.8,227.29 371.5,229.59 369.2,227.29" fill="#fff" stroke="#b0b0b4" stroke-width="0.8" stroke-linejoin="round" />
<polygon points="391.19,224.99 393.49,227.29 391.19,229.59 388.89,227.29" fill="#fff" stroke="#b0b0b4" stroke-width="0.8" stroke-linejoin="round" />
<polygon points="404.6,224.15 406.9,226.45 404.6,228.75 402.3,226.45" fill="#fff" stroke="#b0b0b4" stroke-width="0.8" stroke-linejoin="round" />
<polygon points="418.38,224.15 420.68,226.45 418.38,228.75 416.08,226.45" fill="#fff" stroke="#b0b0b4" stroke-width="0.8" stroke-linejoin="round" />
<polygon points="431.79,224.15 434.09,226.45 431.79,228.75 429.49,226.45" fill="#fff" stroke="#b0b0b4" stroke-width="0.8" stroke-linejoin="round" />
<polygon points="445.2,221.61 447.5,223.91 445.2,226.21 442.9,223.91" fill="#fff" stroke="#b0b0b4" stroke-width="0.8" stroke-linejoin="round" />
<polygon points="459.7,212.73 462,215.03 459.7,217.33 457.4,215.03" fill="#fff" stroke="#b0b0b4" stroke-width="0.8" stroke-linejoin="round" />
<polygon points="371.5,227.33 373.87,223.46 369.13,223.46" fill="#fff" stroke="#283252" stroke-width="0.9" stroke-linejoin="round" />
<polygon points="391.19,226.91 393.55,223.04 388.82,223.04" fill="#fff" stroke="#283252" stroke-width="0.9" stroke-linejoin="round" />
<polygon points="404.6,227.33 406.97,223.46 402.24,223.46" fill="#fff" stroke="#283252" stroke-width="0.9" stroke-linejoin="round" />
<polygon points="418.38,227.75 420.74,223.88 416.01,223.88" fill="#fff" stroke="#283252" stroke-width="0.9" stroke-linejoin="round" />
<polygon points="431.79,227.75 434.15,223.88 429.42,223.88" fill="#fff" stroke="#283252" stroke-width="0.9" stroke-linejoin="round" />
<polygon points="445.2,224.37 447.57,220.5 442.84,220.5" fill="#fff" stroke="#283252" stroke-width="0.9" stroke-linejoin="round" />
<polygon points="459.7,209.14 462.07,205.27 457.34,205.27" fill="#fff" stroke="#283252" stroke-width="0.9" stroke-linejoin="round" />
<polygon points="371.5,232.53 373.35,229.2 369.65,229.2" fill="#8886c8" stroke="none" stroke-width="0.8" stroke-linejoin="round" />
<polygon points="387.2,231.68 389.05,228.35 385.35,228.35" fill="#8886c8" stroke="none" stroke-width="0.8" stroke-linejoin="round" />
<polygon points="394.45,231.68 396.3,228.35 392.6,228.35" fill="#8886c8" stroke="none" stroke-width="0.8" stroke-linejoin="round" />
<polygon points="401.7,230.84 403.55,227.51 399.85,227.51" fill="#8886c8" stroke="none" stroke-width="0.8" stroke-linejoin="round" />
<polygon points="408.95,230.84 410.8,227.51 407.1,227.51" fill="#8886c8" stroke="none" stroke-width="0.8" stroke-linejoin="round" />
<polygon points="416.2,224.07 418.05,220.74 414.35,220.74" fill="#8886c8" stroke="none" stroke-width="0.8" stroke-linejoin="round" />
<polygon points="423.45,207.99 425.3,204.66 421.6,204.66" fill="#8886c8" stroke="none" stroke-width="0.8" stroke-linejoin="round" />
<line x1="430.7" y1="196.84" x2="430.7" y2="191.76" stroke="#8886c8" stroke-width="0.6" />
<line x1="429.5" y1="196.84" x2="431.9" y2="196.84" stroke="#8886c8" stroke-width="0.6" />
<line x1="429.5" y1="191.76" x2="431.9" y2="191.76" stroke="#8886c8" stroke-width="0.6" />
<polygon points="430.7,196.15 432.55,192.82 428.85,192.82" fill="#8886c8" stroke="none" stroke-width="0.8" stroke-linejoin="round" />
<polygon points="437.95,187.69 439.8,184.36 436.1,184.36" fill="#8886c8" stroke="none" stroke-width="0.8" stroke-linejoin="round" />
<line x1="445.2" y1="180.76" x2="445.2" y2="172.3" stroke="#8886c8" stroke-width="0.6" />
<line x1="444" y1="180.76" x2="446.4" y2="180.76" stroke="#8886c8" stroke-width="0.6" />
<line x1="444" y1="172.3" x2="446.4" y2="172.3" stroke="#8886c8" stroke-width="0.6" />
<polygon points="445.2,178.38 447.05,175.05 443.35,175.05" fill="#8886c8" stroke="none" stroke-width="0.8" stroke-linejoin="round" />
<line x1="452.45" y1="175.69" x2="452.45" y2="162.15" stroke="#8886c8" stroke-width="0.6" />
<line x1="451.25" y1="175.69" x2="453.65" y2="175.69" stroke="#8886c8" stroke-width="0.6" />
<line x1="451.25" y1="162.15" x2="453.65" y2="162.15" stroke="#8886c8" stroke-width="0.6" />
<polygon points="452.45,170.77 454.3,167.44 450.6,167.44" fill="#8886c8" stroke="none" stroke-width="0.8" stroke-linejoin="round" />
<polygon points="459.7,164 461.55,160.67 457.85,160.67" fill="#8886c8" stroke="none" stroke-width="0.8" stroke-linejoin="round" />
<polygon points="371.5,229.62 373.4,233.04 369.6,233.04" fill="#1e3d8c" stroke="none" stroke-width="0.8" stroke-linejoin="round" />
<polygon points="387.2,228.78 389.1,232.2 385.3,232.2" fill="#1e3d8c" stroke="none" stroke-width="0.8" stroke-linejoin="round" />
<polygon points="394.45,228.78 396.35,232.2 392.55,232.2" fill="#1e3d8c" stroke="none" stroke-width="0.8" stroke-linejoin="round" />
<polygon points="401.7,228.78 403.6,232.2 399.8,232.2" fill="#1e3d8c" stroke="none" stroke-width="0.8" stroke-linejoin="round" />
<polygon points="408.95,227.93 410.85,231.35 407.05,231.35" fill="#1e3d8c" stroke="none" stroke-width="0.8" stroke-linejoin="round" />
<polygon points="416.2,221.16 418.1,224.58 414.3,224.58" fill="#1e3d8c" stroke="none" stroke-width="0.8" stroke-linejoin="round" />
<polygon points="423.45,210.17 425.35,213.59 421.55,213.59" fill="#1e3d8c" stroke="none" stroke-width="0.8" stroke-linejoin="round" />
<polygon points="430.7,201.71 432.6,205.13 428.8,205.13" fill="#1e3d8c" stroke="none" stroke-width="0.8" stroke-linejoin="round" />
<polygon points="437.95,197.48 439.85,200.9 436.05,200.9" fill="#1e3d8c" stroke="none" stroke-width="0.8" stroke-linejoin="round" />
<polygon points="445.2,192.4 447.1,195.82 443.3,195.82" fill="#1e3d8c" stroke="none" stroke-width="0.8" stroke-linejoin="round" />
<polygon points="452.45,179.71 454.35,183.13 450.55,183.13" fill="#1e3d8c" stroke="none" stroke-width="0.8" stroke-linejoin="round" />
<polygon points="459.7,172.1 461.6,175.52 457.8,175.52" fill="#1e3d8c" stroke="none" stroke-width="0.8" stroke-linejoin="round" />
<rect x="369.75" y="228.93" width="3.5" height="3.5" fill="#5aae32"/>
<rect x="385.45" y="228.08" width="3.5" height="3.5" fill="#5aae32"/>
<rect x="392.7" y="228.08" width="3.5" height="3.5" fill="#5aae32"/>
<rect x="399.95" y="227.24" width="3.5" height="3.5" fill="#5aae32"/>
<rect x="407.2" y="227.24" width="3.5" height="3.5" fill="#5aae32"/>
<rect x="414.45" y="224.7" width="3.5" height="3.5" fill="#5aae32"/>
<rect x="421.7" y="211.16" width="3.5" height="3.5" fill="#5aae32"/>
<rect x="428.95" y="198.47" width="3.5" height="3.5" fill="#5aae32"/>
<rect x="436.2" y="186.63" width="3.5" height="3.5" fill="#5aae32"/>
<rect x="443.45" y="179.86" width="3.5" height="3.5" fill="#5aae32"/>
<rect x="450.7" y="168.86" width="3.5" height="3.5" fill="#5aae32"/>
<rect x="457.95" y="162.94" width="3.5" height="3.5" fill="#5aae32"/>
<circle cx="371.5" cy="230.25" r="1.75" fill="#bc0828"/>
<circle cx="387.2" cy="228.99" r="1.75" fill="#bc0828"/>
<circle cx="394.45" cy="228.99" r="1.75" fill="#bc0828"/>
<circle cx="401.7" cy="228.56" r="1.75" fill="#bc0828"/>
<circle cx="408.95" cy="228.56" r="1.75" fill="#bc0828"/>
<circle cx="416.2" cy="222.22" r="1.75" fill="#bc0828"/>
<circle cx="423.45" cy="208.68" r="1.75" fill="#bc0828"/>
<circle cx="430.7" cy="197.68" r="1.75" fill="#bc0828"/>
<circle cx="437.95" cy="192.61" r="1.75" fill="#bc0828"/>
<circle cx="445.2" cy="178.23" r="1.75" fill="#bc0828"/>
<circle cx="452.45" cy="170.61" r="1.75" fill="#bc0828"/>
<circle cx="459.7" cy="162.15" r="1.75" fill="#bc0828"/>
<circle cx="362.8" cy="160.5" r="1.75" fill="#bc0828"/>
<text x="367.5" y="162.8" font-size="7.3" text-anchor="start" fill="#222" font-weight="normal"  stroke="#222" stroke-width="0.12">L-363</text>
<rect x="361.05" y="167.95" width="3.5" height="3.5" fill="#5aae32"/>
<text x="367.5" y="172" font-size="7.3" text-anchor="start" fill="#222" font-weight="normal"  stroke="#222" stroke-width="0.12">MM1.R</text>
<polygon points="362.8,177 364.7,180.42 360.9,180.42" fill="#1e3d8c" stroke="none" stroke-width="0.8" stroke-linejoin="round" />
<text x="367.5" y="181.2" font-size="7.3" text-anchor="start" fill="#222" font-weight="normal"  stroke="#222" stroke-width="0.12">MOLP-2</text>
<polygon points="362.8,189.95 364.65,186.62 360.95,186.62" fill="#8886c8" stroke="none" stroke-width="0.8" stroke-linejoin="round" />
<text x="367.5" y="190.4" font-size="7.3" text-anchor="start" fill="#222" font-weight="normal"  stroke="#222" stroke-width="0.12">NCI-H929</text>
<polygon points="362.8,199.45 365.17,195.58 360.44,195.58" fill="#fff" stroke="#283252" stroke-width="0.9" stroke-linejoin="round" />
<text x="367.5" y="199.6" font-size="7.3" text-anchor="start" fill="#222" font-weight="normal"  stroke="#222" stroke-width="0.12">HCT-116</text>
<polygon points="362.8,204.2 365.1,206.5 362.8,208.8 360.5,206.5" fill="#fff" stroke="#b0b0b4" stroke-width="0.8" stroke-linejoin="round" />
<text x="367.5" y="208.8" font-size="7.3" text-anchor="start" fill="#222" font-weight="normal"  stroke="#222" stroke-width="0.12">PBMC</text>
<text x="7.2" y="291.2" font-size="11.2" text-anchor="start" fill="#000" font-weight="bold" >E</text>
<text x="94.3" y="289.6" font-size="9.0" text-anchor="middle" fill="#111" font-weight="normal"  stroke="#111" stroke-width="0.12">IFN&#947;</text>
<line x1="44.5" y1="296.4" x2="44.5" y2="369.9" stroke="#111" stroke-width="1.2" />
<line x1="41.3" y1="367.8" x2="44.5" y2="367.8" stroke="#111" stroke-width="0.9" />
<text transform="translate(38.5,370.5) scale(1.1,1)" font-size="7.6" text-anchor="end" fill="#222" font-weight="normal"  stroke="#222" stroke-width="0.12">0</text>
<line x1="42.8" y1="360.89" x2="44.5" y2="360.89" stroke="#111" stroke-width="0.7" />
<line x1="41.3" y1="353.98" x2="44.5" y2="353.98" stroke="#111" stroke-width="0.9" />
<text transform="translate(38.5,356.68) scale(1.1,1)" font-size="7.6" text-anchor="end" fill="#222" font-weight="normal"  stroke="#222" stroke-width="0.12">500</text>
<line x1="42.8" y1="347.07" x2="44.5" y2="347.07" stroke="#111" stroke-width="0.7" />
<line x1="41.3" y1="340.16" x2="44.5" y2="340.16" stroke="#111" stroke-width="0.9" />
<text transform="translate(38.5,342.86) scale(1.1,1)" font-size="7.6" text-anchor="end" fill="#222" font-weight="normal"  stroke="#222" stroke-width="0.12">1000</text>
<line x1="42.8" y1="333.25" x2="44.5" y2="333.25" stroke="#111" stroke-width="0.7" />
<line x1="41.3" y1="326.34" x2="44.5" y2="326.34" stroke="#111" stroke-width="0.9" />
<text transform="translate(38.5,329.04) scale(1.1,1)" font-size="7.6" text-anchor="end" fill="#222" font-weight="normal"  stroke="#222" stroke-width="0.12">1500</text>
<line x1="42.8" y1="319.43" x2="44.5" y2="319.43" stroke="#111" stroke-width="0.7" />
<line x1="41.3" y1="312.52" x2="44.5" y2="312.52" stroke="#111" stroke-width="0.9" />
<text transform="translate(38.5,315.22) scale(1.1,1)" font-size="7.6" text-anchor="end" fill="#222" font-weight="normal"  stroke="#222" stroke-width="0.12">2000</text>
<line x1="42.8" y1="305.61" x2="44.5" y2="305.61" stroke="#111" stroke-width="0.7" />
<line x1="41.3" y1="298.7" x2="44.5" y2="298.7" stroke="#111" stroke-width="0.9" />
<text transform="translate(38.5,301.4) scale(1.1,1)" font-size="7.6" text-anchor="end" fill="#222" font-weight="normal"  stroke="#222" stroke-width="0.12">2500</text>
<line x1="44.5" y1="367.8" x2="158.3" y2="367.8" stroke="#555" stroke-width="0.6" stroke-dasharray="0.6,1.0"/>
<line x1="44.5" y1="369.3" x2="60.2" y2="369.3" stroke="#111" stroke-width="1.3" />
<line x1="63.7" y1="369.3" x2="158.3" y2="369.3" stroke="#111" stroke-width="1.3" />
<line x1="60.1" y1="367.7" x2="60.1" y2="371.3" stroke="#111" stroke-width="1.3" />
<line x1="63.8" y1="367.7" x2="63.8" y2="371.3" stroke="#111" stroke-width="1.3" />
<line x1="54.1" y1="369.3" x2="54.1" y2="372.3" stroke="#111" stroke-width="0.9" />
<text transform="translate(54.1,382.5) scale(1.1,1)" font-size="7.6" text-anchor="middle" fill="#222" font-weight="normal"  stroke="#222" stroke-width="0.12">0</text>
<line x1="77.4" y1="369.3" x2="77.4" y2="372.3" stroke="#111" stroke-width="0.9" />
<text transform="translate(70.45,382.5) scale(1.1,1)" font-size="7.6" fill="#222">10<tspan font-size="5.32" dy="-3.19">-4</tspan></text>
<line x1="86.9" y1="369.3" x2="86.9" y2="371.1" stroke="#111" stroke-width="0.7" />
<line x1="96.4" y1="369.3" x2="96.4" y2="372.3" stroke="#111" stroke-width="0.9" />
<text transform="translate(89.45,382.5) scale(1.1,1)" font-size="7.6" fill="#222">10<tspan font-size="5.32" dy="-3.19">-2</tspan></text>
<line x1="105.9" y1="369.3" x2="105.9" y2="371.1" stroke="#111" stroke-width="0.7" />
<line x1="115.4" y1="369.3" x2="115.4" y2="372.3" stroke="#111" stroke-width="0.9" />
<text transform="translate(109.42,382.5) scale(1.1,1)" font-size="7.6" fill="#222">10<tspan font-size="5.32" dy="-3.19">0</tspan></text>
<line x1="124.9" y1="369.3" x2="124.9" y2="371.1" stroke="#111" stroke-width="0.7" />
<line x1="134.4" y1="369.3" x2="134.4" y2="372.3" stroke="#111" stroke-width="0.9" />
<text transform="translate(128.42,382.5) scale(1.1,1)" font-size="7.6" fill="#222">10<tspan font-size="5.32" dy="-3.19">2</tspan></text>
<line x1="143.9" y1="369.3" x2="143.9" y2="371.1" stroke="#111" stroke-width="0.7" />
<line x1="153.4" y1="369.3" x2="153.4" y2="372.3" stroke="#111" stroke-width="0.9" />
<text transform="translate(147.42,382.5) scale(1.1,1)" font-size="7.6" fill="#222">10<tspan font-size="5.32" dy="-3.19">4</tspan></text>
<line x1="70.76" y1="369.3" x2="70.76" y2="370.5" stroke="#111" stroke-width="0.5" />
<line x1="72.43" y1="369.3" x2="72.43" y2="370.5" stroke="#111" stroke-width="0.5" />
<line x1="74.54" y1="369.3" x2="74.54" y2="370.5" stroke="#111" stroke-width="0.5" />
<line x1="80.26" y1="369.3" x2="80.26" y2="370.5" stroke="#111" stroke-width="0.5" />
<line x1="81.93" y1="369.3" x2="81.93" y2="370.5" stroke="#111" stroke-width="0.5" />
<line x1="84.04" y1="369.3" x2="84.04" y2="370.5" stroke="#111" stroke-width="0.5" />
<line x1="89.76" y1="369.3" x2="89.76" y2="370.5" stroke="#111" stroke-width="0.5" />
<line x1="91.43" y1="369.3" x2="91.43" y2="370.5" stroke="#111" stroke-width="0.5" />
<line x1="93.54" y1="369.3" x2="93.54" y2="370.5" stroke="#111" stroke-width="0.5" />
<line x1="99.26" y1="369.3" x2="99.26" y2="370.5" stroke="#111" stroke-width="0.5" />
<line x1="100.93" y1="369.3" x2="100.93" y2="370.5" stroke="#111" stroke-width="0.5" />
<line x1="103.04" y1="369.3" x2="103.04" y2="370.5" stroke="#111" stroke-width="0.5" />
<line x1="108.76" y1="369.3" x2="108.76" y2="370.5" stroke="#111" stroke-width="0.5" />
<line x1="110.43" y1="369.3" x2="110.43" y2="370.5" stroke="#111" stroke-width="0.5" />
<line x1="112.54" y1="369.3" x2="112.54" y2="370.5" stroke="#111" stroke-width="0.5" />
<line x1="118.26" y1="369.3" x2="118.26" y2="370.5" stroke="#111" stroke-width="0.5" />
<line x1="119.93" y1="369.3" x2="119.93" y2="370.5" stroke="#111" stroke-width="0.5" />
<line x1="122.04" y1="369.3" x2="122.04" y2="370.5" stroke="#111" stroke-width="0.5" />
<line x1="127.76" y1="369.3" x2="127.76" y2="370.5" stroke="#111" stroke-width="0.5" />
<line x1="129.43" y1="369.3" x2="129.43" y2="370.5" stroke="#111" stroke-width="0.5" />
<line x1="131.54" y1="369.3" x2="131.54" y2="370.5" stroke="#111" stroke-width="0.5" />
<line x1="137.26" y1="369.3" x2="137.26" y2="370.5" stroke="#111" stroke-width="0.5" />
<line x1="138.93" y1="369.3" x2="138.93" y2="370.5" stroke="#111" stroke-width="0.5" />
<line x1="141.04" y1="369.3" x2="141.04" y2="370.5" stroke="#111" stroke-width="0.5" />
<line x1="146.76" y1="369.3" x2="146.76" y2="370.5" stroke="#111" stroke-width="0.5" />
<line x1="148.43" y1="369.3" x2="148.43" y2="370.5" stroke="#111" stroke-width="0.5" />
<line x1="150.54" y1="369.3" x2="150.54" y2="370.5" stroke="#111" stroke-width="0.5" />
<line x1="156.26" y1="369.3" x2="156.26" y2="370.5" stroke="#111" stroke-width="0.5" />
<text transform="translate(14.8,335.6) rotate(-90) scale(0.764,1)" x="0" y="0" font-size="9.3" text-anchor="middle" fill="#1a1a1a" font-weight="normal" stroke="#1a1a1a" stroke-width="0.35" letter-spacing="0.35" word-spacing="1.2">[IFN&#947;] (pg/mL)</text>
<text transform="translate(101.9,394.6) scale(0.668,1)" x="0" y="0" font-size="9.0" text-anchor="middle" fill="#1a1a1a" font-weight="normal" stroke="#1a1a1a" stroke-width="0.35" letter-spacing="0.35" word-spacing="1.2">[AMG 701] (pM)</text>
<line x1="52.1" y1="367.8" x2="60.1" y2="367.8" stroke="#c4c4c8" stroke-width="0.9" />
<polyline points="70.9,367.8 79.45,367.8 88,367.8 96.55,367.8 105.1,367.8 113.65,367.8 122.2,367.8 130.75,367.8 139.3,367.8 147.85,366.42 156.4,349.83" fill="none" stroke="#c4c4c8" stroke-width="0.9" stroke-linejoin="round" />
<polygon points="54.1,365.85 56.05,367.8 54.1,369.75 52.15,367.8" fill="#fff" stroke="#c4c4c8" stroke-width="0.8" stroke-linejoin="round" />
<polygon points="70.9,365.85 72.86,367.8 70.9,369.75 68.95,367.8" fill="#fff" stroke="#c4c4c8" stroke-width="0.8" stroke-linejoin="round" />
<polygon points="79.45,365.85 81.41,367.8 79.45,369.75 77.5,367.8" fill="#fff" stroke="#c4c4c8" stroke-width="0.8" stroke-linejoin="round" />
<polygon points="88,365.85 89.95,367.8 88,369.75 86.05,367.8" fill="#fff" stroke="#c4c4c8" stroke-width="0.8" stroke-linejoin="round" />
<polygon points="96.55,365.85 98.51,367.8 96.55,369.75 94.6,367.8" fill="#fff" stroke="#c4c4c8" stroke-width="0.8" stroke-linejoin="round" />
<polygon points="105.1,365.85 107.06,367.8 105.1,369.75 103.15,367.8" fill="#fff" stroke="#c4c4c8" stroke-width="0.8" stroke-linejoin="round" />
<polygon points="113.65,365.85 115.61,367.8 113.65,369.75 111.7,367.8" fill="#fff" stroke="#c4c4c8" stroke-width="0.8" stroke-linejoin="round" />
<polygon points="122.2,365.85 124.16,367.8 122.2,369.75 120.25,367.8" fill="#fff" stroke="#c4c4c8" stroke-width="0.8" stroke-linejoin="round" />
<polygon points="130.75,365.85 132.71,367.8 130.75,369.75 128.79,367.8" fill="#fff" stroke="#c4c4c8" stroke-width="0.8" stroke-linejoin="round" />
<polygon points="139.3,365.85 141.26,367.8 139.3,369.75 137.34,367.8" fill="#fff" stroke="#c4c4c8" stroke-width="0.8" stroke-linejoin="round" />
<polygon points="147.85,364.46 149.81,366.42 147.85,368.37 145.9,366.42" fill="#fff" stroke="#c4c4c8" stroke-width="0.8" stroke-linejoin="round" />
<polygon points="156.4,347.88 158.36,349.83 156.4,351.79 154.44,349.83" fill="#fff" stroke="#c4c4c8" stroke-width="0.8" stroke-linejoin="round" />
<line x1="52.1" y1="367.8" x2="60.1" y2="367.8" stroke="#3c4670" stroke-width="0.9" />
<polyline points="70.9,367.8 79.45,367.8 88,367.8 96.55,367.8 105.1,367.8 113.65,367.8 122.2,366.97 130.75,366.97 139.3,367.25 147.85,365.59 156.4,341.82" fill="none" stroke="#3c4670" stroke-width="0.9" stroke-linejoin="round" />
<polygon points="54.1,369.63 56.11,366.34 52.09,366.34" fill="#fff" stroke="#3c4670" stroke-width="0.9" stroke-linejoin="round" />
<polygon points="70.9,369.63 72.91,366.34 68.89,366.34" fill="#fff" stroke="#3c4670" stroke-width="0.9" stroke-linejoin="round" />
<polygon points="79.45,369.63 81.46,366.34 77.44,366.34" fill="#fff" stroke="#3c4670" stroke-width="0.9" stroke-linejoin="round" />
<polygon points="88,369.63 90.01,366.34 85.99,366.34" fill="#fff" stroke="#3c4670" stroke-width="0.9" stroke-linejoin="round" />
<polygon points="96.55,369.63 98.56,366.34 94.54,366.34" fill="#fff" stroke="#3c4670" stroke-width="0.9" stroke-linejoin="round" />
<polygon points="105.1,369.63 107.11,366.34 103.09,366.34" fill="#fff" stroke="#3c4670" stroke-width="0.9" stroke-linejoin="round" />
<polygon points="113.65,369.63 115.66,366.34 111.64,366.34" fill="#fff" stroke="#3c4670" stroke-width="0.9" stroke-linejoin="round" />
<polygon points="122.2,368.8 124.21,365.51 120.19,365.51" fill="#fff" stroke="#3c4670" stroke-width="0.9" stroke-linejoin="round" />
<polygon points="130.75,368.8 132.76,365.51 128.74,365.51" fill="#fff" stroke="#3c4670" stroke-width="0.9" stroke-linejoin="round" />
<polygon points="139.3,369.07 141.31,365.79 137.29,365.79" fill="#fff" stroke="#3c4670" stroke-width="0.9" stroke-linejoin="round" />
<polygon points="147.85,367.42 149.86,364.13 145.84,364.13" fill="#fff" stroke="#3c4670" stroke-width="0.9" stroke-linejoin="round" />
<polygon points="156.4,343.65 158.41,340.36 154.39,340.36" fill="#fff" stroke="#3c4670" stroke-width="0.9" stroke-linejoin="round" />
<line x1="52.1" y1="364.76" x2="60.1" y2="364.76" stroke="#1c4e32" stroke-width="0.9" />
<polyline points="70.9,362.55 79.45,361.3 88,364.21 96.55,364.21 105.1,365.87 113.65,366.69 122.2,358.68 130.75,313.9 139.3,314.73 147.85,315.28 156.4,316.39" fill="none" stroke="#1c4e32" stroke-width="0.9" stroke-linejoin="round" />
<rect x="52.35" y="363.01" width="3.5" height="3.5" fill="#1c4e32"/>
<rect x="69.15" y="360.8" width="3.5" height="3.5" fill="#1c4e32"/>
<rect x="77.7" y="359.55" width="3.5" height="3.5" fill="#1c4e32"/>
<rect x="86.25" y="362.46" width="3.5" height="3.5" fill="#1c4e32"/>
<rect x="94.8" y="362.46" width="3.5" height="3.5" fill="#1c4e32"/>
<rect x="103.35" y="364.12" width="3.5" height="3.5" fill="#1c4e32"/>
<rect x="111.9" y="364.94" width="3.5" height="3.5" fill="#1c4e32"/>
<rect x="120.45" y="356.93" width="3.5" height="3.5" fill="#1c4e32"/>
<rect x="129" y="312.15" width="3.5" height="3.5" fill="#1c4e32"/>
<rect x="137.55" y="312.98" width="3.5" height="3.5" fill="#1c4e32"/>
<rect x="146.1" y="313.53" width="3.5" height="3.5" fill="#1c4e32"/>
<rect x="154.65" y="314.64" width="3.5" height="3.5" fill="#1c4e32"/>
<line x1="52.1" y1="365.59" x2="60.1" y2="365.59" stroke="#5f8c6f" stroke-width="0.9" />
<polyline points="70.9,365.04 79.45,363.65 88,365.31 96.55,365.59 105.1,366.42 113.65,367.25 122.2,359.51 130.75,331.87 139.3,318.05 147.85,306.99 156.4,302.85" fill="none" stroke="#5f8c6f" stroke-width="0.9" stroke-linejoin="round" />
<rect x="52.35" y="363.84" width="3.5" height="3.5" fill="#5f8c6f"/>
<rect x="69.15" y="363.29" width="3.5" height="3.5" fill="#5f8c6f"/>
<rect x="77.7" y="361.9" width="3.5" height="3.5" fill="#5f8c6f"/>
<rect x="86.25" y="363.56" width="3.5" height="3.5" fill="#5f8c6f"/>
<rect x="94.8" y="363.84" width="3.5" height="3.5" fill="#5f8c6f"/>
<rect x="103.35" y="364.67" width="3.5" height="3.5" fill="#5f8c6f"/>
<rect x="111.9" y="365.5" width="3.5" height="3.5" fill="#5f8c6f"/>
<rect x="120.45" y="357.76" width="3.5" height="3.5" fill="#5f8c6f"/>
<rect x="129" y="330.12" width="3.5" height="3.5" fill="#5f8c6f"/>
<rect x="137.55" y="316.3" width="3.5" height="3.5" fill="#5f8c6f"/>
<rect x="146.1" y="305.24" width="3.5" height="3.5" fill="#5f8c6f"/>
<rect x="154.65" y="301.1" width="3.5" height="3.5" fill="#5f8c6f"/>
<line x1="52.1" y1="366.97" x2="60.1" y2="366.97" stroke="#4d9e2a" stroke-width="0.9" />
<polyline points="70.9,366.69 79.45,366.14 88,366.97 96.55,366.97 105.1,367.25 113.65,367.52 122.2,360.06 130.75,336.01 139.3,329.1 147.85,324.13 156.4,309.76" fill="none" stroke="#4d9e2a" stroke-width="0.9" stroke-linejoin="round" />
<rect x="52.35" y="365.22" width="3.5" height="3.5" fill="#4d9e2a"/>
<rect x="69.15" y="364.94" width="3.5" height="3.5" fill="#4d9e2a"/>
<rect x="77.7" y="364.39" width="3.5" height="3.5" fill="#4d9e2a"/>
<rect x="86.25" y="365.22" width="3.5" height="3.5" fill="#4d9e2a"/>
<rect x="94.8" y="365.22" width="3.5" height="3.5" fill="#4d9e2a"/>
<rect x="103.35" y="365.5" width="3.5" height="3.5" fill="#4d9e2a"/>
<rect x="111.9" y="365.77" width="3.5" height="3.5" fill="#4d9e2a"/>
<rect x="120.45" y="358.31" width="3.5" height="3.5" fill="#4d9e2a"/>
<rect x="129" y="334.26" width="3.5" height="3.5" fill="#4d9e2a"/>
<rect x="137.55" y="327.35" width="3.5" height="3.5" fill="#4d9e2a"/>
<rect x="146.1" y="322.38" width="3.5" height="3.5" fill="#4d9e2a"/>
<rect x="154.65" y="308.01" width="3.5" height="3.5" fill="#4d9e2a"/>
<line x1="52.1" y1="367.25" x2="60.1" y2="367.25" stroke="#b2d597" stroke-width="0.9" />
<polyline points="70.9,366.97 79.45,366.69 88,367.25 96.55,367.25 105.1,367.52 113.65,367.52 122.2,358.68 130.75,333.25 139.3,319.43 147.85,315.28 156.4,324.13" fill="none" stroke="#b2d597" stroke-width="0.9" stroke-linejoin="round" />
<rect x="52.35" y="365.5" width="3.5" height="3.5" fill="#b2d597"/>
<rect x="69.15" y="365.22" width="3.5" height="3.5" fill="#b2d597"/>
<rect x="77.7" y="364.94" width="3.5" height="3.5" fill="#b2d597"/>
<rect x="86.25" y="365.5" width="3.5" height="3.5" fill="#b2d597"/>
<rect x="94.8" y="365.5" width="3.5" height="3.5" fill="#b2d597"/>
<rect x="103.35" y="365.77" width="3.5" height="3.5" fill="#b2d597"/>
<rect x="111.9" y="365.77" width="3.5" height="3.5" fill="#b2d597"/>
<rect x="120.45" y="356.93" width="3.5" height="3.5" fill="#b2d597"/>
<rect x="129" y="331.5" width="3.5" height="3.5" fill="#b2d597"/>
<rect x="137.55" y="317.68" width="3.5" height="3.5" fill="#b2d597"/>
<rect x="146.1" y="313.53" width="3.5" height="3.5" fill="#b2d597"/>
<rect x="154.65" y="322.38" width="3.5" height="3.5" fill="#b2d597"/>
<rect x="51.25" y="301.95" width="3.5" height="3.5" fill="#b2d597"/>
<text x="57.8" y="306" font-size="7.2" text-anchor="start" fill="#222" font-weight="normal"  stroke="#222" stroke-width="0.12">MM1.R16h</text>
<rect x="51.25" y="309.95" width="3.5" height="3.5" fill="#4d9e2a"/>
<text x="57.8" y="314" font-size="7.2" text-anchor="start" fill="#222" font-weight="normal"  stroke="#222" stroke-width="0.12">MM1.R24h</text>
<rect x="51.25" y="317.95" width="3.5" height="3.5" fill="#5f8c6f"/>
<text x="57.8" y="322" font-size="7.2" text-anchor="start" fill="#222" font-weight="normal"  stroke="#222" stroke-width="0.12">MM1.R48h</text>
<rect x="51.25" y="325.95" width="3.5" height="3.5" fill="#1c4e32"/>
<text x="57.8" y="330" font-size="7.2" text-anchor="start" fill="#222" font-weight="normal"  stroke="#222" stroke-width="0.12">MM1.R72h</text>
<line x1="49.5" y1="335.2" x2="56.5" y2="335.2" stroke="#3c4670" stroke-width="0.8" />
<polygon points="53,337.53 55.01,334.24 50.99,334.24" fill="#fff" stroke="#3c4670" stroke-width="0.9" stroke-linejoin="round" />
<text x="57.8" y="338" font-size="7.2" text-anchor="start" fill="#222" font-weight="normal"  stroke="#222" stroke-width="0.12">HCT-116</text>
<line x1="49.5" y1="343.7" x2="56.5" y2="343.7" stroke="#c4c4c8" stroke-width="0.8" />
<polygon points="53,341.75 54.95,343.7 53,345.65 51.05,343.7" fill="#fff" stroke="#c4c4c8" stroke-width="0.8" stroke-linejoin="round" />
<text x="57.8" y="346" font-size="7.2" text-anchor="start" fill="#222" font-weight="normal"  stroke="#222" stroke-width="0.12">PBMC</text>
<text x="268.6" y="289.4" font-size="9.0" text-anchor="middle" fill="#111" font-weight="normal"  stroke="#111" stroke-width="0.12">TNF&#945;</text>
<line x1="212.3" y1="296.4" x2="212.3" y2="369.9" stroke="#111" stroke-width="1.2" />
<line x1="209.1" y1="367.4" x2="212.3" y2="367.4" stroke="#111" stroke-width="0.9" />
<text transform="translate(206.3,370.1) scale(1.1,1)" font-size="7.6" text-anchor="end" fill="#222" font-weight="normal"  stroke="#222" stroke-width="0.12">0</text>
<line x1="210.6" y1="358.81" x2="212.3" y2="358.81" stroke="#111" stroke-width="0.7" />
<line x1="209.1" y1="350.22" x2="212.3" y2="350.22" stroke="#111" stroke-width="0.9" />
<text transform="translate(206.3,352.92) scale(1.1,1)" font-size="7.6" text-anchor="end" fill="#222" font-weight="normal"  stroke="#222" stroke-width="0.12">500</text>
<line x1="210.6" y1="341.64" x2="212.3" y2="341.64" stroke="#111" stroke-width="0.7" />
<line x1="209.1" y1="333.05" x2="212.3" y2="333.05" stroke="#111" stroke-width="0.9" />
<text transform="translate(206.3,335.75) scale(1.1,1)" font-size="7.6" text-anchor="end" fill="#222" font-weight="normal"  stroke="#222" stroke-width="0.12">1000</text>
<line x1="210.6" y1="324.46" x2="212.3" y2="324.46" stroke="#111" stroke-width="0.7" />
<line x1="209.1" y1="315.88" x2="212.3" y2="315.88" stroke="#111" stroke-width="0.9" />
<text transform="translate(206.3,318.57) scale(1.1,1)" font-size="7.6" text-anchor="end" fill="#222" font-weight="normal"  stroke="#222" stroke-width="0.12">1500</text>
<line x1="210.6" y1="307.29" x2="212.3" y2="307.29" stroke="#111" stroke-width="0.7" />
<line x1="209.1" y1="298.7" x2="212.3" y2="298.7" stroke="#111" stroke-width="0.9" />
<text transform="translate(206.3,301.4) scale(1.1,1)" font-size="7.6" text-anchor="end" fill="#222" font-weight="normal"  stroke="#222" stroke-width="0.12">2000</text>
<line x1="212.3" y1="367.4" x2="326.1" y2="367.4" stroke="#555" stroke-width="0.6" stroke-dasharray="0.6,1.0"/>
<line x1="212.3" y1="369.3" x2="228" y2="369.3" stroke="#111" stroke-width="1.3" />
<line x1="231.5" y1="369.3" x2="326.1" y2="369.3" stroke="#111" stroke-width="1.3" />
<line x1="227.9" y1="367.7" x2="227.9" y2="371.3" stroke="#111" stroke-width="1.3" />
<line x1="231.6" y1="367.7" x2="231.6" y2="371.3" stroke="#111" stroke-width="1.3" />
<line x1="221.9" y1="369.3" x2="221.9" y2="372.3" stroke="#111" stroke-width="0.9" />
<text transform="translate(221.9,382.5) scale(1.1,1)" font-size="7.6" text-anchor="middle" fill="#222" font-weight="normal"  stroke="#222" stroke-width="0.12">0</text>
<line x1="245.2" y1="369.3" x2="245.2" y2="372.3" stroke="#111" stroke-width="0.9" />
<text transform="translate(238.25,382.5) scale(1.1,1)" font-size="7.6" fill="#222">10<tspan font-size="5.32" dy="-3.19">-4</tspan></text>
<line x1="254.7" y1="369.3" x2="254.7" y2="371.1" stroke="#111" stroke-width="0.7" />
<line x1="264.2" y1="369.3" x2="264.2" y2="372.3" stroke="#111" stroke-width="0.9" />
<text transform="translate(257.25,382.5) scale(1.1,1)" font-size="7.6" fill="#222">10<tspan font-size="5.32" dy="-3.19">-2</tspan></text>
<line x1="273.7" y1="369.3" x2="273.7" y2="371.1" stroke="#111" stroke-width="0.7" />
<line x1="283.2" y1="369.3" x2="283.2" y2="372.3" stroke="#111" stroke-width="0.9" />
<text transform="translate(277.22,382.5) scale(1.1,1)" font-size="7.6" fill="#222">10<tspan font-size="5.32" dy="-3.19">0</tspan></text>
<line x1="292.7" y1="369.3" x2="292.7" y2="371.1" stroke="#111" stroke-width="0.7" />
<line x1="302.2" y1="369.3" x2="302.2" y2="372.3" stroke="#111" stroke-width="0.9" />
<text transform="translate(296.22,382.5) scale(1.1,1)" font-size="7.6" fill="#222">10<tspan font-size="5.32" dy="-3.19">2</tspan></text>
<line x1="311.7" y1="369.3" x2="311.7" y2="371.1" stroke="#111" stroke-width="0.7" />
<line x1="321.2" y1="369.3" x2="321.2" y2="372.3" stroke="#111" stroke-width="0.9" />
<text transform="translate(315.22,382.5) scale(1.1,1)" font-size="7.6" fill="#222">10<tspan font-size="5.32" dy="-3.19">4</tspan></text>
<line x1="238.56" y1="369.3" x2="238.56" y2="370.5" stroke="#111" stroke-width="0.5" />
<line x1="240.23" y1="369.3" x2="240.23" y2="370.5" stroke="#111" stroke-width="0.5" />
<line x1="242.34" y1="369.3" x2="242.34" y2="370.5" stroke="#111" stroke-width="0.5" />
<line x1="248.06" y1="369.3" x2="248.06" y2="370.5" stroke="#111" stroke-width="0.5" />
<line x1="249.73" y1="369.3" x2="249.73" y2="370.5" stroke="#111" stroke-width="0.5" />
<line x1="251.84" y1="369.3" x2="251.84" y2="370.5" stroke="#111" stroke-width="0.5" />
<line x1="257.56" y1="369.3" x2="257.56" y2="370.5" stroke="#111" stroke-width="0.5" />
<line x1="259.23" y1="369.3" x2="259.23" y2="370.5" stroke="#111" stroke-width="0.5" />
<line x1="261.34" y1="369.3" x2="261.34" y2="370.5" stroke="#111" stroke-width="0.5" />
<line x1="267.06" y1="369.3" x2="267.06" y2="370.5" stroke="#111" stroke-width="0.5" />
<line x1="268.73" y1="369.3" x2="268.73" y2="370.5" stroke="#111" stroke-width="0.5" />
<line x1="270.84" y1="369.3" x2="270.84" y2="370.5" stroke="#111" stroke-width="0.5" />
<line x1="276.56" y1="369.3" x2="276.56" y2="370.5" stroke="#111" stroke-width="0.5" />
<line x1="278.23" y1="369.3" x2="278.23" y2="370.5" stroke="#111" stroke-width="0.5" />
<line x1="280.34" y1="369.3" x2="280.34" y2="370.5" stroke="#111" stroke-width="0.5" />
<line x1="286.06" y1="369.3" x2="286.06" y2="370.5" stroke="#111" stroke-width="0.5" />
<line x1="287.73" y1="369.3" x2="287.73" y2="370.5" stroke="#111" stroke-width="0.5" />
<line x1="289.84" y1="369.3" x2="289.84" y2="370.5" stroke="#111" stroke-width="0.5" />
<line x1="295.56" y1="369.3" x2="295.56" y2="370.5" stroke="#111" stroke-width="0.5" />
<line x1="297.23" y1="369.3" x2="297.23" y2="370.5" stroke="#111" stroke-width="0.5" />
<line x1="299.34" y1="369.3" x2="299.34" y2="370.5" stroke="#111" stroke-width="0.5" />
<line x1="305.06" y1="369.3" x2="305.06" y2="370.5" stroke="#111" stroke-width="0.5" />
<line x1="306.73" y1="369.3" x2="306.73" y2="370.5" stroke="#111" stroke-width="0.5" />
<line x1="308.84" y1="369.3" x2="308.84" y2="370.5" stroke="#111" stroke-width="0.5" />
<line x1="314.56" y1="369.3" x2="314.56" y2="370.5" stroke="#111" stroke-width="0.5" />
<line x1="316.23" y1="369.3" x2="316.23" y2="370.5" stroke="#111" stroke-width="0.5" />
<line x1="318.34" y1="369.3" x2="318.34" y2="370.5" stroke="#111" stroke-width="0.5" />
<line x1="324.06" y1="369.3" x2="324.06" y2="370.5" stroke="#111" stroke-width="0.5" />
<text transform="translate(182.8,332.5) rotate(-90) scale(0.7,1)" x="0" y="0" font-size="9.3" text-anchor="middle" fill="#1a1a1a" font-weight="normal" stroke="#1a1a1a" stroke-width="0.35" letter-spacing="0.35" word-spacing="1.2">[TNF&#945;] (pg/mL)</text>
<text transform="translate(269.7,394.6) scale(0.668,1)" x="0" y="0" font-size="9.0" text-anchor="middle" fill="#1a1a1a" font-weight="normal" stroke="#1a1a1a" stroke-width="0.35" letter-spacing="0.35" word-spacing="1.2">[AMG 701] (pM)</text>
<line x1="219.9" y1="367.4" x2="227.9" y2="367.4" stroke="#c4c4c8" stroke-width="0.9" />
<polyline points="238.7,367.4 247.25,367.4 255.8,367.4 264.35,367.4 272.9,367.4 281.45,367.4 290,367.4 298.55,367.4 307.1,367.4 315.65,365.34 324.2,347.99" fill="none" stroke="#c4c4c8" stroke-width="0.9" stroke-linejoin="round" />
<polygon points="221.9,365.44 223.86,367.4 221.9,369.35 219.94,367.4" fill="#fff" stroke="#c4c4c8" stroke-width="0.8" stroke-linejoin="round" />
<polygon points="238.7,365.44 240.66,367.4 238.7,369.35 236.75,367.4" fill="#fff" stroke="#c4c4c8" stroke-width="0.8" stroke-linejoin="round" />
<polygon points="247.25,365.44 249.21,367.4 247.25,369.35 245.3,367.4" fill="#fff" stroke="#c4c4c8" stroke-width="0.8" stroke-linejoin="round" />
<polygon points="255.8,365.44 257.75,367.4 255.8,369.35 253.84,367.4" fill="#fff" stroke="#c4c4c8" stroke-width="0.8" stroke-linejoin="round" />
<polygon points="264.35,365.44 266.31,367.4 264.35,369.35 262.4,367.4" fill="#fff" stroke="#c4c4c8" stroke-width="0.8" stroke-linejoin="round" />
<polygon points="272.9,365.44 274.86,367.4 272.9,369.35 270.95,367.4" fill="#fff" stroke="#c4c4c8" stroke-width="0.8" stroke-linejoin="round" />
<polygon points="281.45,365.44 283.41,367.4 281.45,369.35 279.5,367.4" fill="#fff" stroke="#c4c4c8" stroke-width="0.8" stroke-linejoin="round" />
<polygon points="290,365.44 291.95,367.4 290,369.35 288.05,367.4" fill="#fff" stroke="#c4c4c8" stroke-width="0.8" stroke-linejoin="round" />
<polygon points="298.55,365.44 300.5,367.4 298.55,369.35 296.6,367.4" fill="#fff" stroke="#c4c4c8" stroke-width="0.8" stroke-linejoin="round" />
<polygon points="307.1,365.44 309.06,367.4 307.1,369.35 305.15,367.4" fill="#fff" stroke="#c4c4c8" stroke-width="0.8" stroke-linejoin="round" />
<polygon points="315.65,363.38 317.61,365.34 315.65,367.29 313.7,365.34" fill="#fff" stroke="#c4c4c8" stroke-width="0.8" stroke-linejoin="round" />
<polygon points="324.2,346.04 326.16,347.99 324.2,349.95 322.25,347.99" fill="#fff" stroke="#c4c4c8" stroke-width="0.8" stroke-linejoin="round" />
<line x1="219.9" y1="367.4" x2="227.9" y2="367.4" stroke="#3c4670" stroke-width="0.9" />
<polyline points="238.7,367.4 247.25,367.4 255.8,367.4 264.35,367.4 272.9,367.4 281.45,367.4 290,367.4 298.55,366.71 307.1,366.71 315.65,363.45 324.2,345.24" fill="none" stroke="#3c4670" stroke-width="0.9" stroke-linejoin="round" />
<polygon points="221.9,369.23 223.91,365.94 219.89,365.94" fill="#fff" stroke="#3c4670" stroke-width="0.9" stroke-linejoin="round" />
<polygon points="238.7,369.23 240.71,365.94 236.69,365.94" fill="#fff" stroke="#3c4670" stroke-width="0.9" stroke-linejoin="round" />
<polygon points="247.25,369.23 249.26,365.94 245.24,365.94" fill="#fff" stroke="#3c4670" stroke-width="0.9" stroke-linejoin="round" />
<polygon points="255.8,369.23 257.81,365.94 253.79,365.94" fill="#fff" stroke="#3c4670" stroke-width="0.9" stroke-linejoin="round" />
<polygon points="264.35,369.23 266.36,365.94 262.34,365.94" fill="#fff" stroke="#3c4670" stroke-width="0.9" stroke-linejoin="round" />
<polygon points="272.9,369.23 274.91,365.94 270.89,365.94" fill="#fff" stroke="#3c4670" stroke-width="0.9" stroke-linejoin="round" />
<polygon points="281.45,369.23 283.46,365.94 279.44,365.94" fill="#fff" stroke="#3c4670" stroke-width="0.9" stroke-linejoin="round" />
<polygon points="290,369.23 292.01,365.94 287.99,365.94" fill="#fff" stroke="#3c4670" stroke-width="0.9" stroke-linejoin="round" />
<polygon points="298.55,368.54 300.56,365.25 296.54,365.25" fill="#fff" stroke="#3c4670" stroke-width="0.9" stroke-linejoin="round" />
<polygon points="307.1,368.54 309.11,365.25 305.09,365.25" fill="#fff" stroke="#3c4670" stroke-width="0.9" stroke-linejoin="round" />
<polygon points="315.65,365.28 317.66,361.99 313.64,361.99" fill="#fff" stroke="#3c4670" stroke-width="0.9" stroke-linejoin="round" />
<polygon points="324.2,347.07 326.21,343.78 322.19,343.78" fill="#fff" stroke="#3c4670" stroke-width="0.9" stroke-linejoin="round" />
<line x1="219.9" y1="367.4" x2="227.9" y2="367.4" stroke="#1c4e32" stroke-width="0.9" />
<polyline points="238.7,367.4 247.25,367.4 255.8,367.4 264.35,367.4 272.9,367.4 281.45,367.06 290,363.96 298.55,361.22 307.1,358.64 315.65,356.58 324.2,352.63" fill="none" stroke="#1c4e32" stroke-width="0.9" stroke-linejoin="round" />
<rect x="220.15" y="365.65" width="3.5" height="3.5" fill="#1c4e32"/>
<rect x="236.95" y="365.65" width="3.5" height="3.5" fill="#1c4e32"/>
<rect x="245.5" y="365.65" width="3.5" height="3.5" fill="#1c4e32"/>
<rect x="254.05" y="365.65" width="3.5" height="3.5" fill="#1c4e32"/>
<rect x="262.6" y="365.65" width="3.5" height="3.5" fill="#1c4e32"/>
<rect x="271.15" y="365.65" width="3.5" height="3.5" fill="#1c4e32"/>
<rect x="279.7" y="365.31" width="3.5" height="3.5" fill="#1c4e32"/>
<rect x="288.25" y="362.21" width="3.5" height="3.5" fill="#1c4e32"/>
<rect x="296.8" y="359.47" width="3.5" height="3.5" fill="#1c4e32"/>
<rect x="305.35" y="356.89" width="3.5" height="3.5" fill="#1c4e32"/>
<rect x="313.9" y="354.83" width="3.5" height="3.5" fill="#1c4e32"/>
<rect x="322.45" y="350.88" width="3.5" height="3.5" fill="#1c4e32"/>
<line x1="219.9" y1="367.4" x2="227.9" y2="367.4" stroke="#5f8c6f" stroke-width="0.9" />
<polyline points="238.7,367.4 247.25,367.4 255.8,367.4 264.35,367.4 272.9,367.4 281.45,367.06 290,363.96 298.55,352.63 307.1,349.19 315.65,345.93 324.2,334.08" fill="none" stroke="#5f8c6f" stroke-width="0.9" stroke-linejoin="round" />
<rect x="220.15" y="365.65" width="3.5" height="3.5" fill="#5f8c6f"/>
<rect x="236.95" y="365.65" width="3.5" height="3.5" fill="#5f8c6f"/>
<rect x="245.5" y="365.65" width="3.5" height="3.5" fill="#5f8c6f"/>
<rect x="254.05" y="365.65" width="3.5" height="3.5" fill="#5f8c6f"/>
<rect x="262.6" y="365.65" width="3.5" height="3.5" fill="#5f8c6f"/>
<rect x="271.15" y="365.65" width="3.5" height="3.5" fill="#5f8c6f"/>
<rect x="279.7" y="365.31" width="3.5" height="3.5" fill="#5f8c6f"/>
<rect x="288.25" y="362.21" width="3.5" height="3.5" fill="#5f8c6f"/>
<rect x="296.8" y="350.88" width="3.5" height="3.5" fill="#5f8c6f"/>
<rect x="305.35" y="347.44" width="3.5" height="3.5" fill="#5f8c6f"/>
<rect x="313.9" y="344.18" width="3.5" height="3.5" fill="#5f8c6f"/>
<rect x="322.45" y="332.33" width="3.5" height="3.5" fill="#5f8c6f"/>
<line x1="219.9" y1="367.4" x2="227.9" y2="367.4" stroke="#4d9e2a" stroke-width="0.9" />
<polyline points="238.7,367.4 247.25,367.4 255.8,367.4 264.35,367.4 272.9,367.4 281.45,366.37 290,352.63 298.55,332.88 307.1,321.37 315.65,318.79 324.2,315.88" fill="none" stroke="#4d9e2a" stroke-width="0.9" stroke-linejoin="round" />
<rect x="220.15" y="365.65" width="3.5" height="3.5" fill="#4d9e2a"/>
<rect x="236.95" y="365.65" width="3.5" height="3.5" fill="#4d9e2a"/>
<rect x="245.5" y="365.65" width="3.5" height="3.5" fill="#4d9e2a"/>
<rect x="254.05" y="365.65" width="3.5" height="3.5" fill="#4d9e2a"/>
<rect x="262.6" y="365.65" width="3.5" height="3.5" fill="#4d9e2a"/>
<rect x="271.15" y="365.65" width="3.5" height="3.5" fill="#4d9e2a"/>
<rect x="279.7" y="364.62" width="3.5" height="3.5" fill="#4d9e2a"/>
<rect x="288.25" y="350.88" width="3.5" height="3.5" fill="#4d9e2a"/>
<rect x="296.8" y="331.13" width="3.5" height="3.5" fill="#4d9e2a"/>
<rect x="305.35" y="319.62" width="3.5" height="3.5" fill="#4d9e2a"/>
<rect x="313.9" y="317.04" width="3.5" height="3.5" fill="#4d9e2a"/>
<rect x="322.45" y="314.12" width="3.5" height="3.5" fill="#4d9e2a"/>
<line x1="219.9" y1="367.4" x2="227.9" y2="367.4" stroke="#b2d597" stroke-width="0.9" />
<polyline points="238.7,367.4 247.25,367.4 255.8,367.4 264.35,367.4 272.9,367.4 281.45,365.68 290,352.63 298.55,321.37 307.1,306.6 315.65,304.2 324.2,304.2" fill="none" stroke="#b2d597" stroke-width="0.9" stroke-linejoin="round" />
<rect x="220.15" y="365.65" width="3.5" height="3.5" fill="#b2d597"/>
<rect x="236.95" y="365.65" width="3.5" height="3.5" fill="#b2d597"/>
<rect x="245.5" y="365.65" width="3.5" height="3.5" fill="#b2d597"/>
<rect x="254.05" y="365.65" width="3.5" height="3.5" fill="#b2d597"/>
<rect x="262.6" y="365.65" width="3.5" height="3.5" fill="#b2d597"/>
<rect x="271.15" y="365.65" width="3.5" height="3.5" fill="#b2d597"/>
<rect x="279.7" y="363.93" width="3.5" height="3.5" fill="#b2d597"/>
<rect x="288.25" y="350.88" width="3.5" height="3.5" fill="#b2d597"/>
<rect x="296.8" y="319.62" width="3.5" height="3.5" fill="#b2d597"/>
<rect x="305.35" y="304.85" width="3.5" height="3.5" fill="#b2d597"/>
<rect x="313.9" y="302.45" width="3.5" height="3.5" fill="#b2d597"/>
<rect x="322.45" y="302.45" width="3.5" height="3.5" fill="#b2d597"/>
<rect x="217.35" y="301.95" width="3.5" height="3.5" fill="#b2d597"/>
<text x="224" y="306" font-size="7.2" text-anchor="start" fill="#222" font-weight="normal"  stroke="#222" stroke-width="0.12">MM1.R16h</text>
<rect x="217.35" y="309.95" width="3.5" height="3.5" fill="#4d9e2a"/>
<text x="224" y="314" font-size="7.2" text-anchor="start" fill="#222" font-weight="normal"  stroke="#222" stroke-width="0.12">MM1.R24h</text>
<rect x="217.35" y="317.95" width="3.5" height="3.5" fill="#5f8c6f"/>
<text x="224" y="322" font-size="7.2" text-anchor="start" fill="#222" font-weight="normal"  stroke="#222" stroke-width="0.12">MM1.R48h</text>
<rect x="217.35" y="325.95" width="3.5" height="3.5" fill="#1c4e32"/>
<text x="224" y="330" font-size="7.2" text-anchor="start" fill="#222" font-weight="normal"  stroke="#222" stroke-width="0.12">MM1.R72h</text>
<line x1="215.6" y1="335.2" x2="222.6" y2="335.2" stroke="#3c4670" stroke-width="0.8" />
<polygon points="219.1,337.53 221.11,334.24 217.09,334.24" fill="#fff" stroke="#3c4670" stroke-width="0.9" stroke-linejoin="round" />
<text x="224" y="338" font-size="7.2" text-anchor="start" fill="#222" font-weight="normal"  stroke="#222" stroke-width="0.12">HCT-116</text>
<line x1="215.6" y1="343.7" x2="222.6" y2="343.7" stroke="#c4c4c8" stroke-width="0.8" />
<polygon points="219.1,341.75 221.06,343.7 219.1,345.65 217.14,343.7" fill="#fff" stroke="#c4c4c8" stroke-width="0.8" stroke-linejoin="round" />
<text x="224" y="346" font-size="7.2" text-anchor="start" fill="#222" font-weight="normal"  stroke="#222" stroke-width="0.12">PBMC</text>
<text x="101.2" y="414.5" font-size="9.0" text-anchor="middle" fill="#111" font-weight="normal"  stroke="#111" stroke-width="0.12">IL-2</text>
<line x1="44.5" y1="420.3" x2="44.5" y2="494.5" stroke="#111" stroke-width="1.2" />
<line x1="41.3" y1="492.9" x2="44.5" y2="492.9" stroke="#111" stroke-width="0.9" />
<text transform="translate(38.5,495.6) scale(1.1,1)" font-size="7.6" text-anchor="end" fill="#222" font-weight="normal"  stroke="#222" stroke-width="0.12">0</text>
<line x1="42.8" y1="487.08" x2="44.5" y2="487.08" stroke="#111" stroke-width="0.7" />
<line x1="41.3" y1="481.27" x2="44.5" y2="481.27" stroke="#111" stroke-width="0.9" />
<text transform="translate(38.5,483.97) scale(1.1,1)" font-size="7.6" text-anchor="end" fill="#222" font-weight="normal"  stroke="#222" stroke-width="0.12">100</text>
<line x1="42.8" y1="475.45" x2="44.5" y2="475.45" stroke="#111" stroke-width="0.7" />
<line x1="41.3" y1="469.63" x2="44.5" y2="469.63" stroke="#111" stroke-width="0.9" />
<text transform="translate(38.5,472.33) scale(1.1,1)" font-size="7.6" text-anchor="end" fill="#222" font-weight="normal"  stroke="#222" stroke-width="0.12">200</text>
<line x1="42.8" y1="463.82" x2="44.5" y2="463.82" stroke="#111" stroke-width="0.7" />
<line x1="41.3" y1="458" x2="44.5" y2="458" stroke="#111" stroke-width="0.9" />
<text transform="translate(38.5,460.7) scale(1.1,1)" font-size="7.6" text-anchor="end" fill="#222" font-weight="normal"  stroke="#222" stroke-width="0.12">300</text>
<line x1="42.8" y1="452.18" x2="44.5" y2="452.18" stroke="#111" stroke-width="0.7" />
<line x1="41.3" y1="446.37" x2="44.5" y2="446.37" stroke="#111" stroke-width="0.9" />
<text transform="translate(38.5,449.07) scale(1.1,1)" font-size="7.6" text-anchor="end" fill="#222" font-weight="normal"  stroke="#222" stroke-width="0.12">400</text>
<line x1="42.8" y1="440.55" x2="44.5" y2="440.55" stroke="#111" stroke-width="0.7" />
<line x1="41.3" y1="434.73" x2="44.5" y2="434.73" stroke="#111" stroke-width="0.9" />
<text transform="translate(38.5,437.43) scale(1.1,1)" font-size="7.6" text-anchor="end" fill="#222" font-weight="normal"  stroke="#222" stroke-width="0.12">500</text>
<line x1="42.8" y1="428.92" x2="44.5" y2="428.92" stroke="#111" stroke-width="0.7" />
<line x1="41.3" y1="423.1" x2="44.5" y2="423.1" stroke="#111" stroke-width="0.9" />
<text transform="translate(38.5,425.8) scale(1.1,1)" font-size="7.6" text-anchor="end" fill="#222" font-weight="normal"  stroke="#222" stroke-width="0.12">600</text>
<line x1="44.5" y1="492.9" x2="158.3" y2="492.9" stroke="#555" stroke-width="0.6" stroke-dasharray="0.6,1.0"/>
<line x1="44.5" y1="493.9" x2="60.2" y2="493.9" stroke="#111" stroke-width="1.3" />
<line x1="63.7" y1="493.9" x2="158.3" y2="493.9" stroke="#111" stroke-width="1.3" />
<line x1="60.1" y1="492.3" x2="60.1" y2="495.9" stroke="#111" stroke-width="1.3" />
<line x1="63.8" y1="492.3" x2="63.8" y2="495.9" stroke="#111" stroke-width="1.3" />
<line x1="54.1" y1="493.9" x2="54.1" y2="496.9" stroke="#111" stroke-width="0.9" />
<text transform="translate(54.1,507.1) scale(1.1,1)" font-size="7.6" text-anchor="middle" fill="#222" font-weight="normal"  stroke="#222" stroke-width="0.12">0</text>
<line x1="77.4" y1="493.9" x2="77.4" y2="496.9" stroke="#111" stroke-width="0.9" />
<text transform="translate(70.45,507.1) scale(1.1,1)" font-size="7.6" fill="#222">10<tspan font-size="5.32" dy="-3.19">-4</tspan></text>
<line x1="86.9" y1="493.9" x2="86.9" y2="495.7" stroke="#111" stroke-width="0.7" />
<line x1="96.4" y1="493.9" x2="96.4" y2="496.9" stroke="#111" stroke-width="0.9" />
<text transform="translate(89.45,507.1) scale(1.1,1)" font-size="7.6" fill="#222">10<tspan font-size="5.32" dy="-3.19">-2</tspan></text>
<line x1="105.9" y1="493.9" x2="105.9" y2="495.7" stroke="#111" stroke-width="0.7" />
<line x1="115.4" y1="493.9" x2="115.4" y2="496.9" stroke="#111" stroke-width="0.9" />
<text transform="translate(109.42,507.1) scale(1.1,1)" font-size="7.6" fill="#222">10<tspan font-size="5.32" dy="-3.19">0</tspan></text>
<line x1="124.9" y1="493.9" x2="124.9" y2="495.7" stroke="#111" stroke-width="0.7" />
<line x1="134.4" y1="493.9" x2="134.4" y2="496.9" stroke="#111" stroke-width="0.9" />
<text transform="translate(128.42,507.1) scale(1.1,1)" font-size="7.6" fill="#222">10<tspan font-size="5.32" dy="-3.19">2</tspan></text>
<line x1="143.9" y1="493.9" x2="143.9" y2="495.7" stroke="#111" stroke-width="0.7" />
<line x1="153.4" y1="493.9" x2="153.4" y2="496.9" stroke="#111" stroke-width="0.9" />
<text transform="translate(147.42,507.1) scale(1.1,1)" font-size="7.6" fill="#222">10<tspan font-size="5.32" dy="-3.19">4</tspan></text>
<line x1="70.76" y1="493.9" x2="70.76" y2="495.1" stroke="#111" stroke-width="0.5" />
<line x1="72.43" y1="493.9" x2="72.43" y2="495.1" stroke="#111" stroke-width="0.5" />
<line x1="74.54" y1="493.9" x2="74.54" y2="495.1" stroke="#111" stroke-width="0.5" />
<line x1="80.26" y1="493.9" x2="80.26" y2="495.1" stroke="#111" stroke-width="0.5" />
<line x1="81.93" y1="493.9" x2="81.93" y2="495.1" stroke="#111" stroke-width="0.5" />
<line x1="84.04" y1="493.9" x2="84.04" y2="495.1" stroke="#111" stroke-width="0.5" />
<line x1="89.76" y1="493.9" x2="89.76" y2="495.1" stroke="#111" stroke-width="0.5" />
<line x1="91.43" y1="493.9" x2="91.43" y2="495.1" stroke="#111" stroke-width="0.5" />
<line x1="93.54" y1="493.9" x2="93.54" y2="495.1" stroke="#111" stroke-width="0.5" />
<line x1="99.26" y1="493.9" x2="99.26" y2="495.1" stroke="#111" stroke-width="0.5" />
<line x1="100.93" y1="493.9" x2="100.93" y2="495.1" stroke="#111" stroke-width="0.5" />
<line x1="103.04" y1="493.9" x2="103.04" y2="495.1" stroke="#111" stroke-width="0.5" />
<line x1="108.76" y1="493.9" x2="108.76" y2="495.1" stroke="#111" stroke-width="0.5" />
<line x1="110.43" y1="493.9" x2="110.43" y2="495.1" stroke="#111" stroke-width="0.5" />
<line x1="112.54" y1="493.9" x2="112.54" y2="495.1" stroke="#111" stroke-width="0.5" />
<line x1="118.26" y1="493.9" x2="118.26" y2="495.1" stroke="#111" stroke-width="0.5" />
<line x1="119.93" y1="493.9" x2="119.93" y2="495.1" stroke="#111" stroke-width="0.5" />
<line x1="122.04" y1="493.9" x2="122.04" y2="495.1" stroke="#111" stroke-width="0.5" />
<line x1="127.76" y1="493.9" x2="127.76" y2="495.1" stroke="#111" stroke-width="0.5" />
<line x1="129.43" y1="493.9" x2="129.43" y2="495.1" stroke="#111" stroke-width="0.5" />
<line x1="131.54" y1="493.9" x2="131.54" y2="495.1" stroke="#111" stroke-width="0.5" />
<line x1="137.26" y1="493.9" x2="137.26" y2="495.1" stroke="#111" stroke-width="0.5" />
<line x1="138.93" y1="493.9" x2="138.93" y2="495.1" stroke="#111" stroke-width="0.5" />
<line x1="141.04" y1="493.9" x2="141.04" y2="495.1" stroke="#111" stroke-width="0.5" />
<line x1="146.76" y1="493.9" x2="146.76" y2="495.1" stroke="#111" stroke-width="0.5" />
<line x1="148.43" y1="493.9" x2="148.43" y2="495.1" stroke="#111" stroke-width="0.5" />
<line x1="150.54" y1="493.9" x2="150.54" y2="495.1" stroke="#111" stroke-width="0.5" />
<line x1="156.26" y1="493.9" x2="156.26" y2="495.1" stroke="#111" stroke-width="0.5" />
<text transform="translate(18.3,456.8) rotate(-90) scale(0.685,1)" x="0" y="0" font-size="9.3" text-anchor="middle" fill="#1a1a1a" font-weight="normal" stroke="#1a1a1a" stroke-width="0.35" letter-spacing="0.35" word-spacing="1.2">[IL-2] (pg/mL)</text>
<text transform="translate(101.9,519.2) scale(0.668,1)" x="0" y="0" font-size="9.0" text-anchor="middle" fill="#1a1a1a" font-weight="normal" stroke="#1a1a1a" stroke-width="0.35" letter-spacing="0.35" word-spacing="1.2">[AMG 701] (pM)</text>
<line x1="52.1" y1="492.9" x2="60.1" y2="492.9" stroke="#c4c4c8" stroke-width="0.9" />
<polyline points="70.9,492.9 79.45,492.9 88,492.9 96.55,492.9 105.1,492.9 113.65,492.9 122.2,492.9 130.75,492.9 139.3,492.32 147.85,491.74 156.4,489.06" fill="none" stroke="#c4c4c8" stroke-width="0.9" stroke-linejoin="round" />
<polygon points="54.1,490.94 56.05,492.9 54.1,494.85 52.15,492.9" fill="#fff" stroke="#c4c4c8" stroke-width="0.8" stroke-linejoin="round" />
<polygon points="70.9,490.94 72.86,492.9 70.9,494.85 68.95,492.9" fill="#fff" stroke="#c4c4c8" stroke-width="0.8" stroke-linejoin="round" />
<polygon points="79.45,490.94 81.41,492.9 79.45,494.85 77.5,492.9" fill="#fff" stroke="#c4c4c8" stroke-width="0.8" stroke-linejoin="round" />
<polygon points="88,490.94 89.95,492.9 88,494.85 86.05,492.9" fill="#fff" stroke="#c4c4c8" stroke-width="0.8" stroke-linejoin="round" />
<polygon points="96.55,490.94 98.51,492.9 96.55,494.85 94.6,492.9" fill="#fff" stroke="#c4c4c8" stroke-width="0.8" stroke-linejoin="round" />
<polygon points="105.1,490.94 107.06,492.9 105.1,494.85 103.15,492.9" fill="#fff" stroke="#c4c4c8" stroke-width="0.8" stroke-linejoin="round" />
<polygon points="113.65,490.94 115.61,492.9 113.65,494.85 111.7,492.9" fill="#fff" stroke="#c4c4c8" stroke-width="0.8" stroke-linejoin="round" />
<polygon points="122.2,490.94 124.16,492.9 122.2,494.85 120.25,492.9" fill="#fff" stroke="#c4c4c8" stroke-width="0.8" stroke-linejoin="round" />
<polygon points="130.75,490.94 132.71,492.9 130.75,494.85 128.79,492.9" fill="#fff" stroke="#c4c4c8" stroke-width="0.8" stroke-linejoin="round" />
<polygon points="139.3,490.36 141.26,492.32 139.3,494.27 137.34,492.32" fill="#fff" stroke="#c4c4c8" stroke-width="0.8" stroke-linejoin="round" />
<polygon points="147.85,489.78 149.81,491.74 147.85,493.69 145.9,491.74" fill="#fff" stroke="#c4c4c8" stroke-width="0.8" stroke-linejoin="round" />
<polygon points="156.4,487.11 158.36,489.06 156.4,491.02 154.44,489.06" fill="#fff" stroke="#c4c4c8" stroke-width="0.8" stroke-linejoin="round" />
<line x1="52.1" y1="492.9" x2="60.1" y2="492.9" stroke="#3c4670" stroke-width="0.9" />
<polyline points="70.9,492.9 79.45,492.9 88,492.9 96.55,492.9 105.1,492.9 113.65,492.9 122.2,492.9 130.75,492.32 139.3,491.74 147.85,488.83 156.4,484.99" fill="none" stroke="#3c4670" stroke-width="0.9" stroke-linejoin="round" />
<polygon points="54.1,494.73 56.11,491.44 52.09,491.44" fill="#fff" stroke="#3c4670" stroke-width="0.9" stroke-linejoin="round" />
<polygon points="70.9,494.73 72.91,491.44 68.89,491.44" fill="#fff" stroke="#3c4670" stroke-width="0.9" stroke-linejoin="round" />
<polygon points="79.45,494.73 81.46,491.44 77.44,491.44" fill="#fff" stroke="#3c4670" stroke-width="0.9" stroke-linejoin="round" />
<polygon points="88,494.73 90.01,491.44 85.99,491.44" fill="#fff" stroke="#3c4670" stroke-width="0.9" stroke-linejoin="round" />
<polygon points="96.55,494.73 98.56,491.44 94.54,491.44" fill="#fff" stroke="#3c4670" stroke-width="0.9" stroke-linejoin="round" />
<polygon points="105.1,494.73 107.11,491.44 103.09,491.44" fill="#fff" stroke="#3c4670" stroke-width="0.9" stroke-linejoin="round" />
<polygon points="113.65,494.73 115.66,491.44 111.64,491.44" fill="#fff" stroke="#3c4670" stroke-width="0.9" stroke-linejoin="round" />
<polygon points="122.2,494.73 124.21,491.44 120.19,491.44" fill="#fff" stroke="#3c4670" stroke-width="0.9" stroke-linejoin="round" />
<polygon points="130.75,494.15 132.76,490.86 128.74,490.86" fill="#fff" stroke="#3c4670" stroke-width="0.9" stroke-linejoin="round" />
<polygon points="139.3,493.56 141.31,490.27 137.29,490.27" fill="#fff" stroke="#3c4670" stroke-width="0.9" stroke-linejoin="round" />
<polygon points="147.85,490.66 149.86,487.37 145.84,487.37" fill="#fff" stroke="#3c4670" stroke-width="0.9" stroke-linejoin="round" />
<polygon points="156.4,486.82 158.41,483.53 154.39,483.53" fill="#fff" stroke="#3c4670" stroke-width="0.9" stroke-linejoin="round" />
<line x1="52.1" y1="492.9" x2="60.1" y2="492.9" stroke="#1c4e32" stroke-width="0.9" />
<polyline points="70.9,492.9 79.45,492.9 88,492.9 96.55,492.9 105.1,492.9 113.65,492.9 122.2,492.9 130.75,492.67 139.3,492.55 147.85,492.55 156.4,492.55" fill="none" stroke="#1c4e32" stroke-width="0.9" stroke-linejoin="round" />
<rect x="52.35" y="491.15" width="3.5" height="3.5" fill="#1c4e32"/>
<rect x="69.15" y="491.15" width="3.5" height="3.5" fill="#1c4e32"/>
<rect x="77.7" y="491.15" width="3.5" height="3.5" fill="#1c4e32"/>
<rect x="86.25" y="491.15" width="3.5" height="3.5" fill="#1c4e32"/>
<rect x="94.8" y="491.15" width="3.5" height="3.5" fill="#1c4e32"/>
<rect x="103.35" y="491.15" width="3.5" height="3.5" fill="#1c4e32"/>
<rect x="111.9" y="491.15" width="3.5" height="3.5" fill="#1c4e32"/>
<rect x="120.45" y="491.15" width="3.5" height="3.5" fill="#1c4e32"/>
<rect x="129" y="490.92" width="3.5" height="3.5" fill="#1c4e32"/>
<rect x="137.55" y="490.8" width="3.5" height="3.5" fill="#1c4e32"/>
<rect x="146.1" y="490.8" width="3.5" height="3.5" fill="#1c4e32"/>
<rect x="154.65" y="490.8" width="3.5" height="3.5" fill="#1c4e32"/>
<line x1="52.1" y1="492.32" x2="60.1" y2="492.32" stroke="#5f8c6f" stroke-width="0.9" />
<polyline points="70.9,491.74 79.45,491.74 88,492.32 96.55,492.32 105.1,492.32 113.65,492.9 122.2,492.9 130.75,487.43 139.3,482.31 147.85,480.92 156.4,479.29" fill="none" stroke="#5f8c6f" stroke-width="0.9" stroke-linejoin="round" />
<rect x="52.35" y="490.57" width="3.5" height="3.5" fill="#5f8c6f"/>
<rect x="69.15" y="489.99" width="3.5" height="3.5" fill="#5f8c6f"/>
<rect x="77.7" y="489.99" width="3.5" height="3.5" fill="#5f8c6f"/>
<rect x="86.25" y="490.57" width="3.5" height="3.5" fill="#5f8c6f"/>
<rect x="94.8" y="490.57" width="3.5" height="3.5" fill="#5f8c6f"/>
<rect x="103.35" y="490.57" width="3.5" height="3.5" fill="#5f8c6f"/>
<rect x="111.9" y="491.15" width="3.5" height="3.5" fill="#5f8c6f"/>
<rect x="120.45" y="491.15" width="3.5" height="3.5" fill="#5f8c6f"/>
<rect x="129" y="485.68" width="3.5" height="3.5" fill="#5f8c6f"/>
<rect x="137.55" y="480.56" width="3.5" height="3.5" fill="#5f8c6f"/>
<rect x="146.1" y="479.17" width="3.5" height="3.5" fill="#5f8c6f"/>
<rect x="154.65" y="477.54" width="3.5" height="3.5" fill="#5f8c6f"/>
<line x1="52.1" y1="492.55" x2="60.1" y2="492.55" stroke="#4d9e2a" stroke-width="0.9" />
<polyline points="70.9,492.32 79.45,492.32 88,492.55 96.55,492.55 105.1,492.55 113.65,492.55 122.2,488.83 130.75,467.31 139.3,450.21 147.85,456.6 156.4,453.35" fill="none" stroke="#4d9e2a" stroke-width="0.9" stroke-linejoin="round" />
<rect x="52.35" y="490.8" width="3.5" height="3.5" fill="#4d9e2a"/>
<rect x="69.15" y="490.57" width="3.5" height="3.5" fill="#4d9e2a"/>
<rect x="77.7" y="490.57" width="3.5" height="3.5" fill="#4d9e2a"/>
<rect x="86.25" y="490.8" width="3.5" height="3.5" fill="#4d9e2a"/>
<rect x="94.8" y="490.8" width="3.5" height="3.5" fill="#4d9e2a"/>
<rect x="103.35" y="490.8" width="3.5" height="3.5" fill="#4d9e2a"/>
<rect x="111.9" y="490.8" width="3.5" height="3.5" fill="#4d9e2a"/>
<rect x="120.45" y="487.08" width="3.5" height="3.5" fill="#4d9e2a"/>
<rect x="129" y="465.56" width="3.5" height="3.5" fill="#4d9e2a"/>
<rect x="137.55" y="448.46" width="3.5" height="3.5" fill="#4d9e2a"/>
<rect x="146.1" y="454.85" width="3.5" height="3.5" fill="#4d9e2a"/>
<rect x="154.65" y="451.6" width="3.5" height="3.5" fill="#4d9e2a"/>
<line x1="52.1" y1="492.55" x2="60.1" y2="492.55" stroke="#b2d597" stroke-width="0.9" />
<polyline points="70.9,492.32 79.45,492.32 88,492.55 96.55,492.55 105.1,492.55 113.65,492.55 122.2,485.34 130.75,451.02 139.3,427.75 147.85,431.24 156.4,431.83" fill="none" stroke="#b2d597" stroke-width="0.9" stroke-linejoin="round" />
<rect x="52.35" y="490.8" width="3.5" height="3.5" fill="#b2d597"/>
<rect x="69.15" y="490.57" width="3.5" height="3.5" fill="#b2d597"/>
<rect x="77.7" y="490.57" width="3.5" height="3.5" fill="#b2d597"/>
<rect x="86.25" y="490.8" width="3.5" height="3.5" fill="#b2d597"/>
<rect x="94.8" y="490.8" width="3.5" height="3.5" fill="#b2d597"/>
<rect x="103.35" y="490.8" width="3.5" height="3.5" fill="#b2d597"/>
<rect x="111.9" y="490.8" width="3.5" height="3.5" fill="#b2d597"/>
<rect x="120.45" y="483.59" width="3.5" height="3.5" fill="#b2d597"/>
<rect x="129" y="449.27" width="3.5" height="3.5" fill="#b2d597"/>
<rect x="137.55" y="426" width="3.5" height="3.5" fill="#b2d597"/>
<rect x="146.1" y="429.49" width="3.5" height="3.5" fill="#b2d597"/>
<rect x="154.65" y="430.08" width="3.5" height="3.5" fill="#b2d597"/>
<rect x="51.25" y="425.95" width="3.5" height="3.5" fill="#b2d597"/>
<text x="57.8" y="430" font-size="7.2" text-anchor="start" fill="#222" font-weight="normal"  stroke="#222" stroke-width="0.12">MM1.R16h</text>
<rect x="51.25" y="433.95" width="3.5" height="3.5" fill="#4d9e2a"/>
<text x="57.8" y="438" font-size="7.2" text-anchor="start" fill="#222" font-weight="normal"  stroke="#222" stroke-width="0.12">MM1.R24h</text>
<rect x="51.25" y="441.95" width="3.5" height="3.5" fill="#5f8c6f"/>
<text x="57.8" y="446" font-size="7.2" text-anchor="start" fill="#222" font-weight="normal"  stroke="#222" stroke-width="0.12">MM1.R48h</text>
<rect x="51.25" y="449.95" width="3.5" height="3.5" fill="#1c4e32"/>
<text x="57.8" y="454" font-size="7.2" text-anchor="start" fill="#222" font-weight="normal"  stroke="#222" stroke-width="0.12">MM1.R72h</text>
<line x1="49.5" y1="459.2" x2="56.5" y2="459.2" stroke="#3c4670" stroke-width="0.8" />
<polygon points="53,461.53 55.01,458.24 50.99,458.24" fill="#fff" stroke="#3c4670" stroke-width="0.9" stroke-linejoin="round" />
<text x="57.8" y="462" font-size="7.2" text-anchor="start" fill="#222" font-weight="normal"  stroke="#222" stroke-width="0.12">HCT-116</text>
<line x1="49.5" y1="467.7" x2="56.5" y2="467.7" stroke="#c4c4c8" stroke-width="0.8" />
<polygon points="53,465.75 54.95,467.7 53,469.65 51.05,467.7" fill="#fff" stroke="#c4c4c8" stroke-width="0.8" stroke-linejoin="round" />
<text x="57.8" y="470" font-size="7.2" text-anchor="start" fill="#222" font-weight="normal"  stroke="#222" stroke-width="0.12">PBMC</text>
<text x="269.2" y="414.5" font-size="9.0" text-anchor="middle" fill="#111" font-weight="normal"  stroke="#111" stroke-width="0.12">IL-4</text>
<line x1="212.3" y1="420.3" x2="212.3" y2="494.5" stroke="#111" stroke-width="1.2" />
<line x1="209.1" y1="488.2" x2="212.3" y2="488.2" stroke="#111" stroke-width="0.9" />
<text transform="translate(206.3,490.9) scale(1.1,1)" font-size="7.6" text-anchor="end" fill="#222" font-weight="normal"  stroke="#222" stroke-width="0.12">0</text>
<line x1="210.6" y1="482.77" x2="212.3" y2="482.77" stroke="#111" stroke-width="0.7" />
<line x1="209.1" y1="477.35" x2="212.3" y2="477.35" stroke="#111" stroke-width="0.9" />
<text transform="translate(206.3,480.05) scale(1.1,1)" font-size="7.6" text-anchor="end" fill="#222" font-weight="normal"  stroke="#222" stroke-width="0.12">10</text>
<line x1="210.6" y1="471.93" x2="212.3" y2="471.93" stroke="#111" stroke-width="0.7" />
<line x1="209.1" y1="466.5" x2="212.3" y2="466.5" stroke="#111" stroke-width="0.9" />
<text transform="translate(206.3,469.2) scale(1.1,1)" font-size="7.6" text-anchor="end" fill="#222" font-weight="normal"  stroke="#222" stroke-width="0.12">20</text>
<line x1="210.6" y1="461.07" x2="212.3" y2="461.07" stroke="#111" stroke-width="0.7" />
<line x1="209.1" y1="455.65" x2="212.3" y2="455.65" stroke="#111" stroke-width="0.9" />
<text transform="translate(206.3,458.35) scale(1.1,1)" font-size="7.6" text-anchor="end" fill="#222" font-weight="normal"  stroke="#222" stroke-width="0.12">30</text>
<line x1="210.6" y1="450.23" x2="212.3" y2="450.23" stroke="#111" stroke-width="0.7" />
<line x1="209.1" y1="444.8" x2="212.3" y2="444.8" stroke="#111" stroke-width="0.9" />
<text transform="translate(206.3,447.5) scale(1.1,1)" font-size="7.6" text-anchor="end" fill="#222" font-weight="normal"  stroke="#222" stroke-width="0.12">40</text>
<line x1="210.6" y1="439.38" x2="212.3" y2="439.38" stroke="#111" stroke-width="0.7" />
<line x1="209.1" y1="433.95" x2="212.3" y2="433.95" stroke="#111" stroke-width="0.9" />
<text transform="translate(206.3,436.65) scale(1.1,1)" font-size="7.6" text-anchor="end" fill="#222" font-weight="normal"  stroke="#222" stroke-width="0.12">50</text>
<line x1="210.6" y1="428.53" x2="212.3" y2="428.53" stroke="#111" stroke-width="0.7" />
<line x1="209.1" y1="423.1" x2="212.3" y2="423.1" stroke="#111" stroke-width="0.9" />
<text transform="translate(206.3,425.8) scale(1.1,1)" font-size="7.6" text-anchor="end" fill="#222" font-weight="normal"  stroke="#222" stroke-width="0.12">60</text>
<line x1="208.3" y1="488.2" x2="326.1" y2="488.2" stroke="#555" stroke-width="0.6" stroke-dasharray="0.6,1.0"/>
<line x1="212.3" y1="493.9" x2="228" y2="493.9" stroke="#111" stroke-width="1.3" />
<line x1="231.5" y1="493.9" x2="326.1" y2="493.9" stroke="#111" stroke-width="1.3" />
<line x1="227.9" y1="492.3" x2="227.9" y2="495.9" stroke="#111" stroke-width="1.3" />
<line x1="231.6" y1="492.3" x2="231.6" y2="495.9" stroke="#111" stroke-width="1.3" />
<line x1="221.9" y1="493.9" x2="221.9" y2="496.9" stroke="#111" stroke-width="0.9" />
<text transform="translate(221.9,507.1) scale(1.1,1)" font-size="7.6" text-anchor="middle" fill="#222" font-weight="normal"  stroke="#222" stroke-width="0.12">0</text>
<line x1="245.2" y1="493.9" x2="245.2" y2="496.9" stroke="#111" stroke-width="0.9" />
<text transform="translate(238.25,507.1) scale(1.1,1)" font-size="7.6" fill="#222">10<tspan font-size="5.32" dy="-3.19">-4</tspan></text>
<line x1="254.7" y1="493.9" x2="254.7" y2="495.7" stroke="#111" stroke-width="0.7" />
<line x1="264.2" y1="493.9" x2="264.2" y2="496.9" stroke="#111" stroke-width="0.9" />
<text transform="translate(257.25,507.1) scale(1.1,1)" font-size="7.6" fill="#222">10<tspan font-size="5.32" dy="-3.19">-2</tspan></text>
<line x1="273.7" y1="493.9" x2="273.7" y2="495.7" stroke="#111" stroke-width="0.7" />
<line x1="283.2" y1="493.9" x2="283.2" y2="496.9" stroke="#111" stroke-width="0.9" />
<text transform="translate(277.22,507.1) scale(1.1,1)" font-size="7.6" fill="#222">10<tspan font-size="5.32" dy="-3.19">0</tspan></text>
<line x1="292.7" y1="493.9" x2="292.7" y2="495.7" stroke="#111" stroke-width="0.7" />
<line x1="302.2" y1="493.9" x2="302.2" y2="496.9" stroke="#111" stroke-width="0.9" />
<text transform="translate(296.22,507.1) scale(1.1,1)" font-size="7.6" fill="#222">10<tspan font-size="5.32" dy="-3.19">2</tspan></text>
<line x1="311.7" y1="493.9" x2="311.7" y2="495.7" stroke="#111" stroke-width="0.7" />
<line x1="321.2" y1="493.9" x2="321.2" y2="496.9" stroke="#111" stroke-width="0.9" />
<text transform="translate(315.22,507.1) scale(1.1,1)" font-size="7.6" fill="#222">10<tspan font-size="5.32" dy="-3.19">4</tspan></text>
<line x1="238.56" y1="493.9" x2="238.56" y2="495.1" stroke="#111" stroke-width="0.5" />
<line x1="240.23" y1="493.9" x2="240.23" y2="495.1" stroke="#111" stroke-width="0.5" />
<line x1="242.34" y1="493.9" x2="242.34" y2="495.1" stroke="#111" stroke-width="0.5" />
<line x1="248.06" y1="493.9" x2="248.06" y2="495.1" stroke="#111" stroke-width="0.5" />
<line x1="249.73" y1="493.9" x2="249.73" y2="495.1" stroke="#111" stroke-width="0.5" />
<line x1="251.84" y1="493.9" x2="251.84" y2="495.1" stroke="#111" stroke-width="0.5" />
<line x1="257.56" y1="493.9" x2="257.56" y2="495.1" stroke="#111" stroke-width="0.5" />
<line x1="259.23" y1="493.9" x2="259.23" y2="495.1" stroke="#111" stroke-width="0.5" />
<line x1="261.34" y1="493.9" x2="261.34" y2="495.1" stroke="#111" stroke-width="0.5" />
<line x1="267.06" y1="493.9" x2="267.06" y2="495.1" stroke="#111" stroke-width="0.5" />
<line x1="268.73" y1="493.9" x2="268.73" y2="495.1" stroke="#111" stroke-width="0.5" />
<line x1="270.84" y1="493.9" x2="270.84" y2="495.1" stroke="#111" stroke-width="0.5" />
<line x1="276.56" y1="493.9" x2="276.56" y2="495.1" stroke="#111" stroke-width="0.5" />
<line x1="278.23" y1="493.9" x2="278.23" y2="495.1" stroke="#111" stroke-width="0.5" />
<line x1="280.34" y1="493.9" x2="280.34" y2="495.1" stroke="#111" stroke-width="0.5" />
<line x1="286.06" y1="493.9" x2="286.06" y2="495.1" stroke="#111" stroke-width="0.5" />
<line x1="287.73" y1="493.9" x2="287.73" y2="495.1" stroke="#111" stroke-width="0.5" />
<line x1="289.84" y1="493.9" x2="289.84" y2="495.1" stroke="#111" stroke-width="0.5" />
<line x1="295.56" y1="493.9" x2="295.56" y2="495.1" stroke="#111" stroke-width="0.5" />
<line x1="297.23" y1="493.9" x2="297.23" y2="495.1" stroke="#111" stroke-width="0.5" />
<line x1="299.34" y1="493.9" x2="299.34" y2="495.1" stroke="#111" stroke-width="0.5" />
<line x1="305.06" y1="493.9" x2="305.06" y2="495.1" stroke="#111" stroke-width="0.5" />
<line x1="306.73" y1="493.9" x2="306.73" y2="495.1" stroke="#111" stroke-width="0.5" />
<line x1="308.84" y1="493.9" x2="308.84" y2="495.1" stroke="#111" stroke-width="0.5" />
<line x1="314.56" y1="493.9" x2="314.56" y2="495.1" stroke="#111" stroke-width="0.5" />
<line x1="316.23" y1="493.9" x2="316.23" y2="495.1" stroke="#111" stroke-width="0.5" />
<line x1="318.34" y1="493.9" x2="318.34" y2="495.1" stroke="#111" stroke-width="0.5" />
<line x1="324.06" y1="493.9" x2="324.06" y2="495.1" stroke="#111" stroke-width="0.5" />
<text transform="translate(191.2,456.8) rotate(-90) scale(0.685,1)" x="0" y="0" font-size="9.3" text-anchor="middle" fill="#1a1a1a" font-weight="normal" stroke="#1a1a1a" stroke-width="0.35" letter-spacing="0.35" word-spacing="1.2">[IL-4] (pg/mL)</text>
<text transform="translate(269.7,519.2) scale(0.668,1)" x="0" y="0" font-size="9.0" text-anchor="middle" fill="#1a1a1a" font-weight="normal" stroke="#1a1a1a" stroke-width="0.35" letter-spacing="0.35" word-spacing="1.2">[AMG 701] (pM)</text>
<line x1="219.9" y1="488.2" x2="227.9" y2="488.2" stroke="#c4c4c8" stroke-width="0.9" />
<polyline points="238.7,488.2 247.25,488.2 255.8,488.2 264.35,488.2 272.9,488.2 281.45,488.2 290,488.2 298.55,488.2 307.1,488.2 315.65,488.2 324.2,488.2" fill="none" stroke="#c4c4c8" stroke-width="0.9" stroke-linejoin="round" />
<polygon points="221.9,486.25 223.86,488.2 221.9,490.15 219.94,488.2" fill="#fff" stroke="#c4c4c8" stroke-width="0.8" stroke-linejoin="round" />
<polygon points="238.7,486.25 240.66,488.2 238.7,490.15 236.75,488.2" fill="#fff" stroke="#c4c4c8" stroke-width="0.8" stroke-linejoin="round" />
<polygon points="247.25,486.25 249.21,488.2 247.25,490.15 245.3,488.2" fill="#fff" stroke="#c4c4c8" stroke-width="0.8" stroke-linejoin="round" />
<polygon points="255.8,486.25 257.75,488.2 255.8,490.15 253.84,488.2" fill="#fff" stroke="#c4c4c8" stroke-width="0.8" stroke-linejoin="round" />
<polygon points="264.35,486.25 266.31,488.2 264.35,490.15 262.4,488.2" fill="#fff" stroke="#c4c4c8" stroke-width="0.8" stroke-linejoin="round" />
<polygon points="272.9,486.25 274.86,488.2 272.9,490.15 270.95,488.2" fill="#fff" stroke="#c4c4c8" stroke-width="0.8" stroke-linejoin="round" />
<polygon points="281.45,486.25 283.41,488.2 281.45,490.15 279.5,488.2" fill="#fff" stroke="#c4c4c8" stroke-width="0.8" stroke-linejoin="round" />
<polygon points="290,486.25 291.95,488.2 290,490.15 288.05,488.2" fill="#fff" stroke="#c4c4c8" stroke-width="0.8" stroke-linejoin="round" />
<polygon points="298.55,486.25 300.5,488.2 298.55,490.15 296.6,488.2" fill="#fff" stroke="#c4c4c8" stroke-width="0.8" stroke-linejoin="round" />
<polygon points="307.1,486.25 309.06,488.2 307.1,490.15 305.15,488.2" fill="#fff" stroke="#c4c4c8" stroke-width="0.8" stroke-linejoin="round" />
<polygon points="315.65,486.25 317.61,488.2 315.65,490.15 313.7,488.2" fill="#fff" stroke="#c4c4c8" stroke-width="0.8" stroke-linejoin="round" />
<polygon points="324.2,486.25 326.16,488.2 324.2,490.15 322.25,488.2" fill="#fff" stroke="#c4c4c8" stroke-width="0.8" stroke-linejoin="round" />
<line x1="219.9" y1="488.2" x2="227.9" y2="488.2" stroke="#3c4670" stroke-width="0.9" />
<polyline points="238.7,488.2 247.25,488.2 255.8,488.2 264.35,488.2 272.9,488.2 281.45,488.2 290,488.2 298.55,488.2 307.1,488.2 315.65,488.2 324.2,484.29" fill="none" stroke="#3c4670" stroke-width="0.9" stroke-linejoin="round" />
<polygon points="221.9,490.03 223.91,486.74 219.89,486.74" fill="#fff" stroke="#3c4670" stroke-width="0.9" stroke-linejoin="round" />
<polygon points="238.7,490.03 240.71,486.74 236.69,486.74" fill="#fff" stroke="#3c4670" stroke-width="0.9" stroke-linejoin="round" />
<polygon points="247.25,490.03 249.26,486.74 245.24,486.74" fill="#fff" stroke="#3c4670" stroke-width="0.9" stroke-linejoin="round" />
<polygon points="255.8,490.03 257.81,486.74 253.79,486.74" fill="#fff" stroke="#3c4670" stroke-width="0.9" stroke-linejoin="round" />
<polygon points="264.35,490.03 266.36,486.74 262.34,486.74" fill="#fff" stroke="#3c4670" stroke-width="0.9" stroke-linejoin="round" />
<polygon points="272.9,490.03 274.91,486.74 270.89,486.74" fill="#fff" stroke="#3c4670" stroke-width="0.9" stroke-linejoin="round" />
<polygon points="281.45,490.03 283.46,486.74 279.44,486.74" fill="#fff" stroke="#3c4670" stroke-width="0.9" stroke-linejoin="round" />
<polygon points="290,490.03 292.01,486.74 287.99,486.74" fill="#fff" stroke="#3c4670" stroke-width="0.9" stroke-linejoin="round" />
<polygon points="298.55,490.03 300.56,486.74 296.54,486.74" fill="#fff" stroke="#3c4670" stroke-width="0.9" stroke-linejoin="round" />
<polygon points="307.1,490.03 309.11,486.74 305.09,486.74" fill="#fff" stroke="#3c4670" stroke-width="0.9" stroke-linejoin="round" />
<polygon points="315.65,490.03 317.66,486.74 313.64,486.74" fill="#fff" stroke="#3c4670" stroke-width="0.9" stroke-linejoin="round" />
<polygon points="324.2,486.12 326.21,482.83 322.19,482.83" fill="#fff" stroke="#3c4670" stroke-width="0.9" stroke-linejoin="round" />
<line x1="219.9" y1="488.2" x2="227.9" y2="488.2" stroke="#1c4e32" stroke-width="0.9" />
<polyline points="238.7,488.2 247.25,488.2 255.8,488.2 264.35,488.2 272.9,488.2 281.45,488.2 290,488.2 298.55,488.2 307.1,488.2 315.65,488.2 324.2,488.2" fill="none" stroke="#1c4e32" stroke-width="0.9" stroke-linejoin="round" />
<rect x="220.15" y="486.45" width="3.5" height="3.5" fill="#1c4e32"/>
<rect x="236.95" y="486.45" width="3.5" height="3.5" fill="#1c4e32"/>
<rect x="245.5" y="486.45" width="3.5" height="3.5" fill="#1c4e32"/>
<rect x="254.05" y="486.45" width="3.5" height="3.5" fill="#1c4e32"/>
<rect x="262.6" y="486.45" width="3.5" height="3.5" fill="#1c4e32"/>
<rect x="271.15" y="486.45" width="3.5" height="3.5" fill="#1c4e32"/>
<rect x="279.7" y="486.45" width="3.5" height="3.5" fill="#1c4e32"/>
<rect x="288.25" y="486.45" width="3.5" height="3.5" fill="#1c4e32"/>
<rect x="296.8" y="486.45" width="3.5" height="3.5" fill="#1c4e32"/>
<rect x="305.35" y="486.45" width="3.5" height="3.5" fill="#1c4e32"/>
<rect x="313.9" y="486.45" width="3.5" height="3.5" fill="#1c4e32"/>
<rect x="322.45" y="486.45" width="3.5" height="3.5" fill="#1c4e32"/>
<line x1="219.9" y1="488.2" x2="227.9" y2="488.2" stroke="#5f8c6f" stroke-width="0.9" />
<polyline points="238.7,488.2 247.25,488.2 255.8,488.2 264.35,488.2 272.9,488.2 281.45,488.2 290,488.2 298.55,481.69 307.1,472.58 315.65,467.8 324.2,465.2" fill="none" stroke="#5f8c6f" stroke-width="0.9" stroke-linejoin="round" />
<rect x="220.15" y="486.45" width="3.5" height="3.5" fill="#5f8c6f"/>
<rect x="236.95" y="486.45" width="3.5" height="3.5" fill="#5f8c6f"/>
<rect x="245.5" y="486.45" width="3.5" height="3.5" fill="#5f8c6f"/>
<rect x="254.05" y="486.45" width="3.5" height="3.5" fill="#5f8c6f"/>
<rect x="262.6" y="486.45" width="3.5" height="3.5" fill="#5f8c6f"/>
<rect x="271.15" y="486.45" width="3.5" height="3.5" fill="#5f8c6f"/>
<rect x="279.7" y="486.45" width="3.5" height="3.5" fill="#5f8c6f"/>
<rect x="288.25" y="486.45" width="3.5" height="3.5" fill="#5f8c6f"/>
<rect x="296.8" y="479.94" width="3.5" height="3.5" fill="#5f8c6f"/>
<rect x="305.35" y="470.83" width="3.5" height="3.5" fill="#5f8c6f"/>
<rect x="313.9" y="466.05" width="3.5" height="3.5" fill="#5f8c6f"/>
<rect x="322.45" y="463.45" width="3.5" height="3.5" fill="#5f8c6f"/>
<line x1="219.9" y1="488.2" x2="227.9" y2="488.2" stroke="#4d9e2a" stroke-width="0.9" />
<polyline points="238.7,488.2 247.25,488.2 255.8,488.2 264.35,488.2 272.9,488.2 281.45,488.2 290,488.2 298.55,463.9 307.1,449.68 315.65,449.68 324.2,448.16" fill="none" stroke="#4d9e2a" stroke-width="0.9" stroke-linejoin="round" />
<rect x="220.15" y="486.45" width="3.5" height="3.5" fill="#4d9e2a"/>
<rect x="236.95" y="486.45" width="3.5" height="3.5" fill="#4d9e2a"/>
<rect x="245.5" y="486.45" width="3.5" height="3.5" fill="#4d9e2a"/>
<rect x="254.05" y="486.45" width="3.5" height="3.5" fill="#4d9e2a"/>
<rect x="262.6" y="486.45" width="3.5" height="3.5" fill="#4d9e2a"/>
<rect x="271.15" y="486.45" width="3.5" height="3.5" fill="#4d9e2a"/>
<rect x="279.7" y="486.45" width="3.5" height="3.5" fill="#4d9e2a"/>
<rect x="288.25" y="486.45" width="3.5" height="3.5" fill="#4d9e2a"/>
<rect x="296.8" y="462.15" width="3.5" height="3.5" fill="#4d9e2a"/>
<rect x="305.35" y="447.93" width="3.5" height="3.5" fill="#4d9e2a"/>
<rect x="313.9" y="447.93" width="3.5" height="3.5" fill="#4d9e2a"/>
<rect x="322.45" y="446.41" width="3.5" height="3.5" fill="#4d9e2a"/>
<line x1="219.9" y1="488.2" x2="227.9" y2="488.2" stroke="#b2d597" stroke-width="0.9" />
<polyline points="238.7,488.2 247.25,488.2 255.8,488.2 264.35,488.2 272.9,488.2 281.45,488.2 290,484.29 298.55,459.45 307.1,431.78 315.65,438.29 324.2,432.21" fill="none" stroke="#b2d597" stroke-width="0.9" stroke-linejoin="round" />
<rect x="220.15" y="486.45" width="3.5" height="3.5" fill="#b2d597"/>
<rect x="236.95" y="486.45" width="3.5" height="3.5" fill="#b2d597"/>
<rect x="245.5" y="486.45" width="3.5" height="3.5" fill="#b2d597"/>
<rect x="254.05" y="486.45" width="3.5" height="3.5" fill="#b2d597"/>
<rect x="262.6" y="486.45" width="3.5" height="3.5" fill="#b2d597"/>
<rect x="271.15" y="486.45" width="3.5" height="3.5" fill="#b2d597"/>
<rect x="279.7" y="486.45" width="3.5" height="3.5" fill="#b2d597"/>
<rect x="288.25" y="482.54" width="3.5" height="3.5" fill="#b2d597"/>
<rect x="296.8" y="457.7" width="3.5" height="3.5" fill="#b2d597"/>
<rect x="305.35" y="430.03" width="3.5" height="3.5" fill="#b2d597"/>
<rect x="313.9" y="436.54" width="3.5" height="3.5" fill="#b2d597"/>
<rect x="322.45" y="430.46" width="3.5" height="3.5" fill="#b2d597"/>
<rect x="221.25" y="425.95" width="3.5" height="3.5" fill="#b2d597"/>
<text x="227.8" y="430" font-size="7.2" text-anchor="start" fill="#222" font-weight="normal"  stroke="#222" stroke-width="0.12">MM1.R16h</text>
<rect x="221.25" y="433.95" width="3.5" height="3.5" fill="#4d9e2a"/>
<text x="227.8" y="438" font-size="7.2" text-anchor="start" fill="#222" font-weight="normal"  stroke="#222" stroke-width="0.12">MM1.R24h</text>
<rect x="221.25" y="441.95" width="3.5" height="3.5" fill="#5f8c6f"/>
<text x="227.8" y="446" font-size="7.2" text-anchor="start" fill="#222" font-weight="normal"  stroke="#222" stroke-width="0.12">MM1.R48h</text>
<rect x="221.25" y="449.95" width="3.5" height="3.5" fill="#1c4e32"/>
<text x="227.8" y="454" font-size="7.2" text-anchor="start" fill="#222" font-weight="normal"  stroke="#222" stroke-width="0.12">MM1.R72h</text>
<line x1="219.5" y1="459.2" x2="226.5" y2="459.2" stroke="#3c4670" stroke-width="0.8" />
<polygon points="223,461.53 225.01,458.24 220.99,458.24" fill="#fff" stroke="#3c4670" stroke-width="0.9" stroke-linejoin="round" />
<text x="227.8" y="462" font-size="7.2" text-anchor="start" fill="#222" font-weight="normal"  stroke="#222" stroke-width="0.12">HCT-116</text>
<line x1="219.5" y1="467.7" x2="226.5" y2="467.7" stroke="#c4c4c8" stroke-width="0.8" />
<polygon points="223,465.75 224.96,467.7 223,469.65 221.04,467.7" fill="#fff" stroke="#c4c4c8" stroke-width="0.8" stroke-linejoin="round" />
<text x="227.8" y="470" font-size="7.2" text-anchor="start" fill="#222" font-weight="normal"  stroke="#222" stroke-width="0.12">PBMC</text>
<text x="101.2" y="538.7" font-size="9.0" text-anchor="middle" fill="#111" font-weight="normal"  stroke="#111" stroke-width="0.12">IL-6</text>
<line x1="44.5" y1="544.6" x2="44.5" y2="618.6" stroke="#111" stroke-width="1.2" />
<line x1="41.3" y1="617.4" x2="44.5" y2="617.4" stroke="#111" stroke-width="0.9" />
<text transform="translate(38.5,620.1) scale(1.1,1)" font-size="7.6" text-anchor="end" fill="#222" font-weight="normal"  stroke="#222" stroke-width="0.12">0</text>
<line x1="42.8" y1="612.39" x2="44.5" y2="612.39" stroke="#111" stroke-width="0.7" />
<line x1="41.3" y1="607.39" x2="44.5" y2="607.39" stroke="#111" stroke-width="0.9" />
<text transform="translate(38.5,610.09) scale(1.1,1)" font-size="7.6" text-anchor="end" fill="#222" font-weight="normal"  stroke="#222" stroke-width="0.12">100</text>
<line x1="42.8" y1="602.38" x2="44.5" y2="602.38" stroke="#111" stroke-width="0.7" />
<line x1="41.3" y1="597.37" x2="44.5" y2="597.37" stroke="#111" stroke-width="0.9" />
<text transform="translate(38.5,600.07) scale(1.1,1)" font-size="7.6" text-anchor="end" fill="#222" font-weight="normal"  stroke="#222" stroke-width="0.12">200</text>
<line x1="42.8" y1="592.36" x2="44.5" y2="592.36" stroke="#111" stroke-width="0.7" />
<line x1="41.3" y1="587.36" x2="44.5" y2="587.36" stroke="#111" stroke-width="0.9" />
<text transform="translate(38.5,590.06) scale(1.1,1)" font-size="7.6" text-anchor="end" fill="#222" font-weight="normal"  stroke="#222" stroke-width="0.12">300</text>
<line x1="42.8" y1="582.35" x2="44.5" y2="582.35" stroke="#111" stroke-width="0.7" />
<line x1="41.3" y1="577.34" x2="44.5" y2="577.34" stroke="#111" stroke-width="0.9" />
<text transform="translate(38.5,580.04) scale(1.1,1)" font-size="7.6" text-anchor="end" fill="#222" font-weight="normal"  stroke="#222" stroke-width="0.12">400</text>
<line x1="42.8" y1="572.34" x2="44.5" y2="572.34" stroke="#111" stroke-width="0.7" />
<line x1="41.3" y1="567.33" x2="44.5" y2="567.33" stroke="#111" stroke-width="0.9" />
<text transform="translate(38.5,570.03) scale(1.1,1)" font-size="7.6" text-anchor="end" fill="#222" font-weight="normal"  stroke="#222" stroke-width="0.12">500</text>
<line x1="42.8" y1="562.32" x2="44.5" y2="562.32" stroke="#111" stroke-width="0.7" />
<line x1="41.3" y1="557.31" x2="44.5" y2="557.31" stroke="#111" stroke-width="0.9" />
<text transform="translate(38.5,560.01) scale(1.1,1)" font-size="7.6" text-anchor="end" fill="#222" font-weight="normal"  stroke="#222" stroke-width="0.12">600</text>
<line x1="42.8" y1="552.31" x2="44.5" y2="552.31" stroke="#111" stroke-width="0.7" />
<line x1="41.3" y1="547.3" x2="44.5" y2="547.3" stroke="#111" stroke-width="0.9" />
<text transform="translate(38.5,550) scale(1.1,1)" font-size="7.6" text-anchor="end" fill="#222" font-weight="normal"  stroke="#222" stroke-width="0.12">700</text>
<line x1="44.5" y1="617.4" x2="158.3" y2="617.4" stroke="#555" stroke-width="0.6" stroke-dasharray="0.6,1.0"/>
<line x1="44.5" y1="618" x2="60.2" y2="618" stroke="#111" stroke-width="1.3" />
<line x1="63.7" y1="618" x2="158.3" y2="618" stroke="#111" stroke-width="1.3" />
<line x1="60.1" y1="616.4" x2="60.1" y2="620" stroke="#111" stroke-width="1.3" />
<line x1="63.8" y1="616.4" x2="63.8" y2="620" stroke="#111" stroke-width="1.3" />
<line x1="54.1" y1="618" x2="54.1" y2="621" stroke="#111" stroke-width="0.9" />
<text transform="translate(54.1,631.2) scale(1.1,1)" font-size="7.6" text-anchor="middle" fill="#222" font-weight="normal"  stroke="#222" stroke-width="0.12">0</text>
<line x1="77.4" y1="618" x2="77.4" y2="621" stroke="#111" stroke-width="0.9" />
<text transform="translate(70.45,631.2) scale(1.1,1)" font-size="7.6" fill="#222">10<tspan font-size="5.32" dy="-3.19">-4</tspan></text>
<line x1="86.9" y1="618" x2="86.9" y2="619.8" stroke="#111" stroke-width="0.7" />
<line x1="96.4" y1="618" x2="96.4" y2="621" stroke="#111" stroke-width="0.9" />
<text transform="translate(89.45,631.2) scale(1.1,1)" font-size="7.6" fill="#222">10<tspan font-size="5.32" dy="-3.19">-2</tspan></text>
<line x1="105.9" y1="618" x2="105.9" y2="619.8" stroke="#111" stroke-width="0.7" />
<line x1="115.4" y1="618" x2="115.4" y2="621" stroke="#111" stroke-width="0.9" />
<text transform="translate(109.42,631.2) scale(1.1,1)" font-size="7.6" fill="#222">10<tspan font-size="5.32" dy="-3.19">0</tspan></text>
<line x1="124.9" y1="618" x2="124.9" y2="619.8" stroke="#111" stroke-width="0.7" />
<line x1="134.4" y1="618" x2="134.4" y2="621" stroke="#111" stroke-width="0.9" />
<text transform="translate(128.42,631.2) scale(1.1,1)" font-size="7.6" fill="#222">10<tspan font-size="5.32" dy="-3.19">2</tspan></text>
<line x1="143.9" y1="618" x2="143.9" y2="619.8" stroke="#111" stroke-width="0.7" />
<line x1="153.4" y1="618" x2="153.4" y2="621" stroke="#111" stroke-width="0.9" />
<text transform="translate(147.42,631.2) scale(1.1,1)" font-size="7.6" fill="#222">10<tspan font-size="5.32" dy="-3.19">4</tspan></text>
<line x1="70.76" y1="618" x2="70.76" y2="619.2" stroke="#111" stroke-width="0.5" />
<line x1="72.43" y1="618" x2="72.43" y2="619.2" stroke="#111" stroke-width="0.5" />
<line x1="74.54" y1="618" x2="74.54" y2="619.2" stroke="#111" stroke-width="0.5" />
<line x1="80.26" y1="618" x2="80.26" y2="619.2" stroke="#111" stroke-width="0.5" />
<line x1="81.93" y1="618" x2="81.93" y2="619.2" stroke="#111" stroke-width="0.5" />
<line x1="84.04" y1="618" x2="84.04" y2="619.2" stroke="#111" stroke-width="0.5" />
<line x1="89.76" y1="618" x2="89.76" y2="619.2" stroke="#111" stroke-width="0.5" />
<line x1="91.43" y1="618" x2="91.43" y2="619.2" stroke="#111" stroke-width="0.5" />
<line x1="93.54" y1="618" x2="93.54" y2="619.2" stroke="#111" stroke-width="0.5" />
<line x1="99.26" y1="618" x2="99.26" y2="619.2" stroke="#111" stroke-width="0.5" />
<line x1="100.93" y1="618" x2="100.93" y2="619.2" stroke="#111" stroke-width="0.5" />
<line x1="103.04" y1="618" x2="103.04" y2="619.2" stroke="#111" stroke-width="0.5" />
<line x1="108.76" y1="618" x2="108.76" y2="619.2" stroke="#111" stroke-width="0.5" />
<line x1="110.43" y1="618" x2="110.43" y2="619.2" stroke="#111" stroke-width="0.5" />
<line x1="112.54" y1="618" x2="112.54" y2="619.2" stroke="#111" stroke-width="0.5" />
<line x1="118.26" y1="618" x2="118.26" y2="619.2" stroke="#111" stroke-width="0.5" />
<line x1="119.93" y1="618" x2="119.93" y2="619.2" stroke="#111" stroke-width="0.5" />
<line x1="122.04" y1="618" x2="122.04" y2="619.2" stroke="#111" stroke-width="0.5" />
<line x1="127.76" y1="618" x2="127.76" y2="619.2" stroke="#111" stroke-width="0.5" />
<line x1="129.43" y1="618" x2="129.43" y2="619.2" stroke="#111" stroke-width="0.5" />
<line x1="131.54" y1="618" x2="131.54" y2="619.2" stroke="#111" stroke-width="0.5" />
<line x1="137.26" y1="618" x2="137.26" y2="619.2" stroke="#111" stroke-width="0.5" />
<line x1="138.93" y1="618" x2="138.93" y2="619.2" stroke="#111" stroke-width="0.5" />
<line x1="141.04" y1="618" x2="141.04" y2="619.2" stroke="#111" stroke-width="0.5" />
<line x1="146.76" y1="618" x2="146.76" y2="619.2" stroke="#111" stroke-width="0.5" />
<line x1="148.43" y1="618" x2="148.43" y2="619.2" stroke="#111" stroke-width="0.5" />
<line x1="150.54" y1="618" x2="150.54" y2="619.2" stroke="#111" stroke-width="0.5" />
<line x1="156.26" y1="618" x2="156.26" y2="619.2" stroke="#111" stroke-width="0.5" />
<text transform="translate(18.3,581.3) rotate(-90) scale(0.671,1)" x="0" y="0" font-size="9.3" text-anchor="middle" fill="#1a1a1a" font-weight="normal" stroke="#1a1a1a" stroke-width="0.35" letter-spacing="0.35" word-spacing="1.2">[IL-6] (pg/mL)</text>
<text transform="translate(101.9,643.3) scale(0.668,1)" x="0" y="0" font-size="9.0" text-anchor="middle" fill="#1a1a1a" font-weight="normal" stroke="#1a1a1a" stroke-width="0.35" letter-spacing="0.35" word-spacing="1.2">[AMG 701] (pM)</text>
<line x1="52.1" y1="614.4" x2="60.1" y2="614.4" stroke="#c4c4c8" stroke-width="0.9" />
<polyline points="70.9,614.4 79.45,614.4 88,614.4 96.55,614.4 105.1,614.4 113.65,614.4 122.2,614.4 130.75,614.4 139.3,614.4 147.85,614.4 156.4,614.4" fill="none" stroke="#c4c4c8" stroke-width="0.9" stroke-linejoin="round" />
<polygon points="54.1,612.44 56.05,614.4 54.1,616.35 52.15,614.4" fill="#fff" stroke="#c4c4c8" stroke-width="0.8" stroke-linejoin="round" />
<polygon points="70.9,612.44 72.86,614.4 70.9,616.35 68.95,614.4" fill="#fff" stroke="#c4c4c8" stroke-width="0.8" stroke-linejoin="round" />
<polygon points="79.45,612.44 81.41,614.4 79.45,616.35 77.5,614.4" fill="#fff" stroke="#c4c4c8" stroke-width="0.8" stroke-linejoin="round" />
<polygon points="88,612.44 89.95,614.4 88,616.35 86.05,614.4" fill="#fff" stroke="#c4c4c8" stroke-width="0.8" stroke-linejoin="round" />
<polygon points="96.55,612.44 98.51,614.4 96.55,616.35 94.6,614.4" fill="#fff" stroke="#c4c4c8" stroke-width="0.8" stroke-linejoin="round" />
<polygon points="105.1,612.44 107.06,614.4 105.1,616.35 103.15,614.4" fill="#fff" stroke="#c4c4c8" stroke-width="0.8" stroke-linejoin="round" />
<polygon points="113.65,612.44 115.61,614.4 113.65,616.35 111.7,614.4" fill="#fff" stroke="#c4c4c8" stroke-width="0.8" stroke-linejoin="round" />
<polygon points="122.2,612.44 124.16,614.4 122.2,616.35 120.25,614.4" fill="#fff" stroke="#c4c4c8" stroke-width="0.8" stroke-linejoin="round" />
<polygon points="130.75,612.44 132.71,614.4 130.75,616.35 128.79,614.4" fill="#fff" stroke="#c4c4c8" stroke-width="0.8" stroke-linejoin="round" />
<polygon points="139.3,612.44 141.26,614.4 139.3,616.35 137.34,614.4" fill="#fff" stroke="#c4c4c8" stroke-width="0.8" stroke-linejoin="round" />
<polygon points="147.85,612.44 149.81,614.4 147.85,616.35 145.9,614.4" fill="#fff" stroke="#c4c4c8" stroke-width="0.8" stroke-linejoin="round" />
<polygon points="156.4,612.44 158.36,614.4 156.4,616.35 154.44,614.4" fill="#fff" stroke="#c4c4c8" stroke-width="0.8" stroke-linejoin="round" />
<line x1="52.1" y1="616.9" x2="60.1" y2="616.9" stroke="#3c4670" stroke-width="0.9" />
<polyline points="70.9,616.9 79.45,616.9 88,616.9 96.55,616.9 105.1,616.9 113.65,616.9 122.2,616.9 130.75,616.4 139.3,616.4 147.85,616.4 156.4,615" fill="none" stroke="#3c4670" stroke-width="0.9" stroke-linejoin="round" />
<polygon points="54.1,618.73 56.11,615.44 52.09,615.44" fill="#fff" stroke="#3c4670" stroke-width="0.9" stroke-linejoin="round" />
<polygon points="70.9,618.73 72.91,615.44 68.89,615.44" fill="#fff" stroke="#3c4670" stroke-width="0.9" stroke-linejoin="round" />
<polygon points="79.45,618.73 81.46,615.44 77.44,615.44" fill="#fff" stroke="#3c4670" stroke-width="0.9" stroke-linejoin="round" />
<polygon points="88,618.73 90.01,615.44 85.99,615.44" fill="#fff" stroke="#3c4670" stroke-width="0.9" stroke-linejoin="round" />
<polygon points="96.55,618.73 98.56,615.44 94.54,615.44" fill="#fff" stroke="#3c4670" stroke-width="0.9" stroke-linejoin="round" />
<polygon points="105.1,618.73 107.11,615.44 103.09,615.44" fill="#fff" stroke="#3c4670" stroke-width="0.9" stroke-linejoin="round" />
<polygon points="113.65,618.73 115.66,615.44 111.64,615.44" fill="#fff" stroke="#3c4670" stroke-width="0.9" stroke-linejoin="round" />
<polygon points="122.2,618.73 124.21,615.44 120.19,615.44" fill="#fff" stroke="#3c4670" stroke-width="0.9" stroke-linejoin="round" />
<polygon points="130.75,618.23 132.76,614.94 128.74,614.94" fill="#fff" stroke="#3c4670" stroke-width="0.9" stroke-linejoin="round" />
<polygon points="139.3,618.23 141.31,614.94 137.29,614.94" fill="#fff" stroke="#3c4670" stroke-width="0.9" stroke-linejoin="round" />
<polygon points="147.85,618.23 149.86,614.94 145.84,614.94" fill="#fff" stroke="#3c4670" stroke-width="0.9" stroke-linejoin="round" />
<polygon points="156.4,616.82 158.41,613.53 154.39,613.53" fill="#fff" stroke="#3c4670" stroke-width="0.9" stroke-linejoin="round" />
<line x1="52.1" y1="612.49" x2="60.1" y2="612.49" stroke="#1c4e32" stroke-width="0.9" />
<polyline points="70.9,613.39 79.45,611.49 88,611.89 96.55,612.89 105.1,612.89 113.65,612.89 122.2,595.37 130.75,576.44 139.3,566.43 147.85,561.82 156.4,557.31" fill="none" stroke="#1c4e32" stroke-width="0.9" stroke-linejoin="round" />
<rect x="52.35" y="610.74" width="3.5" height="3.5" fill="#1c4e32"/>
<rect x="69.15" y="611.64" width="3.5" height="3.5" fill="#1c4e32"/>
<rect x="77.7" y="609.74" width="3.5" height="3.5" fill="#1c4e32"/>
<rect x="86.25" y="610.14" width="3.5" height="3.5" fill="#1c4e32"/>
<rect x="94.8" y="611.14" width="3.5" height="3.5" fill="#1c4e32"/>
<rect x="103.35" y="611.14" width="3.5" height="3.5" fill="#1c4e32"/>
<rect x="111.9" y="611.14" width="3.5" height="3.5" fill="#1c4e32"/>
<rect x="120.45" y="593.62" width="3.5" height="3.5" fill="#1c4e32"/>
<rect x="129" y="574.69" width="3.5" height="3.5" fill="#1c4e32"/>
<rect x="137.55" y="564.68" width="3.5" height="3.5" fill="#1c4e32"/>
<rect x="146.1" y="560.07" width="3.5" height="3.5" fill="#1c4e32"/>
<rect x="154.65" y="555.56" width="3.5" height="3.5" fill="#1c4e32"/>
<line x1="52.1" y1="612.89" x2="60.1" y2="612.89" stroke="#5f8c6f" stroke-width="0.9" />
<polyline points="70.9,613.39 79.45,612.39 88,612.39 96.55,613.39 105.1,613.39 113.65,612.89 122.2,596.47 130.75,582.65 139.3,563.72 147.85,561.82 156.4,556.11" fill="none" stroke="#5f8c6f" stroke-width="0.9" stroke-linejoin="round" />
<rect x="52.35" y="611.14" width="3.5" height="3.5" fill="#5f8c6f"/>
<rect x="69.15" y="611.64" width="3.5" height="3.5" fill="#5f8c6f"/>
<rect x="77.7" y="610.64" width="3.5" height="3.5" fill="#5f8c6f"/>
<rect x="86.25" y="610.64" width="3.5" height="3.5" fill="#5f8c6f"/>
<rect x="94.8" y="611.64" width="3.5" height="3.5" fill="#5f8c6f"/>
<rect x="103.35" y="611.64" width="3.5" height="3.5" fill="#5f8c6f"/>
<rect x="111.9" y="611.14" width="3.5" height="3.5" fill="#5f8c6f"/>
<rect x="120.45" y="594.72" width="3.5" height="3.5" fill="#5f8c6f"/>
<rect x="129" y="580.9" width="3.5" height="3.5" fill="#5f8c6f"/>
<rect x="137.55" y="561.97" width="3.5" height="3.5" fill="#5f8c6f"/>
<rect x="146.1" y="560.07" width="3.5" height="3.5" fill="#5f8c6f"/>
<rect x="154.65" y="554.36" width="3.5" height="3.5" fill="#5f8c6f"/>
<line x1="52.1" y1="613.39" x2="60.1" y2="613.39" stroke="#4d9e2a" stroke-width="0.9" />
<polyline points="70.9,613.89 79.45,613.39 88,612.89 96.55,613.89 105.1,613.39 113.65,610.39 122.2,601.78 130.75,587.36 139.3,576.14 147.85,564.82 156.4,572.94" fill="none" stroke="#4d9e2a" stroke-width="0.9" stroke-linejoin="round" />
<rect x="52.35" y="611.64" width="3.5" height="3.5" fill="#4d9e2a"/>
<rect x="69.15" y="612.14" width="3.5" height="3.5" fill="#4d9e2a"/>
<rect x="77.7" y="611.64" width="3.5" height="3.5" fill="#4d9e2a"/>
<rect x="86.25" y="611.14" width="3.5" height="3.5" fill="#4d9e2a"/>
<rect x="94.8" y="612.14" width="3.5" height="3.5" fill="#4d9e2a"/>
<rect x="103.35" y="611.64" width="3.5" height="3.5" fill="#4d9e2a"/>
<rect x="111.9" y="608.64" width="3.5" height="3.5" fill="#4d9e2a"/>
<rect x="120.45" y="600.03" width="3.5" height="3.5" fill="#4d9e2a"/>
<rect x="129" y="585.61" width="3.5" height="3.5" fill="#4d9e2a"/>
<rect x="137.55" y="574.39" width="3.5" height="3.5" fill="#4d9e2a"/>
<rect x="146.1" y="563.07" width="3.5" height="3.5" fill="#4d9e2a"/>
<rect x="154.65" y="571.19" width="3.5" height="3.5" fill="#4d9e2a"/>
<line x1="52.1" y1="613.89" x2="60.1" y2="613.89" stroke="#b2d597" stroke-width="0.9" />
<polyline points="70.9,614.4 79.45,614.4 88,613.89 96.55,614.4 105.1,613.89 113.65,613.39 122.2,606.88 130.75,597.37 139.3,594.87 147.85,589.36 156.4,591.16" fill="none" stroke="#b2d597" stroke-width="0.9" stroke-linejoin="round" />
<rect x="52.35" y="612.14" width="3.5" height="3.5" fill="#b2d597"/>
<rect x="69.15" y="612.65" width="3.5" height="3.5" fill="#b2d597"/>
<rect x="77.7" y="612.65" width="3.5" height="3.5" fill="#b2d597"/>
<rect x="86.25" y="612.14" width="3.5" height="3.5" fill="#b2d597"/>
<rect x="94.8" y="612.65" width="3.5" height="3.5" fill="#b2d597"/>
<rect x="103.35" y="612.14" width="3.5" height="3.5" fill="#b2d597"/>
<rect x="111.9" y="611.64" width="3.5" height="3.5" fill="#b2d597"/>
<rect x="120.45" y="605.13" width="3.5" height="3.5" fill="#b2d597"/>
<rect x="129" y="595.62" width="3.5" height="3.5" fill="#b2d597"/>
<rect x="137.55" y="593.12" width="3.5" height="3.5" fill="#b2d597"/>
<rect x="146.1" y="587.61" width="3.5" height="3.5" fill="#b2d597"/>
<rect x="154.65" y="589.41" width="3.5" height="3.5" fill="#b2d597"/>
<rect x="50.65" y="549.75" width="3.5" height="3.5" fill="#b2d597"/>
<text x="57.8" y="553.8" font-size="7.2" text-anchor="start" fill="#222" font-weight="normal"  stroke="#222" stroke-width="0.12">MM1.R16h</text>
<rect x="50.65" y="557.75" width="3.5" height="3.5" fill="#4d9e2a"/>
<text x="57.8" y="561.8" font-size="7.2" text-anchor="start" fill="#222" font-weight="normal"  stroke="#222" stroke-width="0.12">MM1.R24h</text>
<rect x="50.65" y="565.75" width="3.5" height="3.5" fill="#5f8c6f"/>
<text x="57.8" y="569.8" font-size="7.2" text-anchor="start" fill="#222" font-weight="normal"  stroke="#222" stroke-width="0.12">MM1.R48h</text>
<rect x="50.65" y="573.75" width="3.5" height="3.5" fill="#1c4e32"/>
<text x="57.8" y="577.8" font-size="7.2" text-anchor="start" fill="#222" font-weight="normal"  stroke="#222" stroke-width="0.12">MM1.R72h</text>
<line x1="48.9" y1="583" x2="55.9" y2="583" stroke="#3c4670" stroke-width="0.8" />
<polygon points="52.4,585.33 54.41,582.04 50.39,582.04" fill="#fff" stroke="#3c4670" stroke-width="0.9" stroke-linejoin="round" />
<text x="57.8" y="585.8" font-size="7.2" text-anchor="start" fill="#222" font-weight="normal"  stroke="#222" stroke-width="0.12">HCT-116</text>
<line x1="48.9" y1="591.5" x2="55.9" y2="591.5" stroke="#c4c4c8" stroke-width="0.8" />
<polygon points="52.4,589.54 54.35,591.5 52.4,593.46 50.45,591.5" fill="#fff" stroke="#c4c4c8" stroke-width="0.8" stroke-linejoin="round" />
<text x="57.8" y="593.8" font-size="7.2" text-anchor="start" fill="#222" font-weight="normal"  stroke="#222" stroke-width="0.12">PBMC</text>
<text x="270" y="538.7" font-size="9.0" text-anchor="middle" fill="#111" font-weight="normal"  stroke="#111" stroke-width="0.12">IL-10</text>
<line x1="212.3" y1="544.6" x2="212.3" y2="618.6" stroke="#111" stroke-width="1.2" />
<line x1="209.1" y1="617.4" x2="212.3" y2="617.4" stroke="#111" stroke-width="0.9" />
<text transform="translate(206.3,620.1) scale(1.1,1)" font-size="7.6" text-anchor="end" fill="#222" font-weight="normal"  stroke="#222" stroke-width="0.12">0</text>
<line x1="210.6" y1="608.64" x2="212.3" y2="608.64" stroke="#111" stroke-width="0.7" />
<line x1="209.1" y1="599.88" x2="212.3" y2="599.88" stroke="#111" stroke-width="0.9" />
<text transform="translate(206.3,602.58) scale(1.1,1)" font-size="7.6" text-anchor="end" fill="#222" font-weight="normal"  stroke="#222" stroke-width="0.12">100</text>
<line x1="210.6" y1="591.11" x2="212.3" y2="591.11" stroke="#111" stroke-width="0.7" />
<line x1="209.1" y1="582.35" x2="212.3" y2="582.35" stroke="#111" stroke-width="0.9" />
<text transform="translate(206.3,585.05) scale(1.1,1)" font-size="7.6" text-anchor="end" fill="#222" font-weight="normal"  stroke="#222" stroke-width="0.12">200</text>
<line x1="210.6" y1="573.59" x2="212.3" y2="573.59" stroke="#111" stroke-width="0.7" />
<line x1="209.1" y1="564.82" x2="212.3" y2="564.82" stroke="#111" stroke-width="0.9" />
<text transform="translate(206.3,567.52) scale(1.1,1)" font-size="7.6" text-anchor="end" fill="#222" font-weight="normal"  stroke="#222" stroke-width="0.12">300</text>
<line x1="210.6" y1="556.06" x2="212.3" y2="556.06" stroke="#111" stroke-width="0.7" />
<line x1="209.1" y1="547.3" x2="212.3" y2="547.3" stroke="#111" stroke-width="0.9" />
<text transform="translate(206.3,550) scale(1.1,1)" font-size="7.6" text-anchor="end" fill="#222" font-weight="normal"  stroke="#222" stroke-width="0.12">400</text>
<line x1="212.3" y1="617.4" x2="326.1" y2="617.4" stroke="#555" stroke-width="0.6" stroke-dasharray="0.6,1.0"/>
<line x1="212.3" y1="618" x2="228" y2="618" stroke="#111" stroke-width="1.3" />
<line x1="231.5" y1="618" x2="326.1" y2="618" stroke="#111" stroke-width="1.3" />
<line x1="227.9" y1="616.4" x2="227.9" y2="620" stroke="#111" stroke-width="1.3" />
<line x1="231.6" y1="616.4" x2="231.6" y2="620" stroke="#111" stroke-width="1.3" />
<line x1="221.9" y1="618" x2="221.9" y2="621" stroke="#111" stroke-width="0.9" />
<text transform="translate(221.9,631.2) scale(1.1,1)" font-size="7.6" text-anchor="middle" fill="#222" font-weight="normal"  stroke="#222" stroke-width="0.12">0</text>
<line x1="245.2" y1="618" x2="245.2" y2="621" stroke="#111" stroke-width="0.9" />
<text transform="translate(238.25,631.2) scale(1.1,1)" font-size="7.6" fill="#222">10<tspan font-size="5.32" dy="-3.19">-4</tspan></text>
<line x1="254.7" y1="618" x2="254.7" y2="619.8" stroke="#111" stroke-width="0.7" />
<line x1="264.2" y1="618" x2="264.2" y2="621" stroke="#111" stroke-width="0.9" />
<text transform="translate(257.25,631.2) scale(1.1,1)" font-size="7.6" fill="#222">10<tspan font-size="5.32" dy="-3.19">-2</tspan></text>
<line x1="273.7" y1="618" x2="273.7" y2="619.8" stroke="#111" stroke-width="0.7" />
<line x1="283.2" y1="618" x2="283.2" y2="621" stroke="#111" stroke-width="0.9" />
<text transform="translate(277.22,631.2) scale(1.1,1)" font-size="7.6" fill="#222">10<tspan font-size="5.32" dy="-3.19">0</tspan></text>
<line x1="292.7" y1="618" x2="292.7" y2="619.8" stroke="#111" stroke-width="0.7" />
<line x1="302.2" y1="618" x2="302.2" y2="621" stroke="#111" stroke-width="0.9" />
<text transform="translate(296.22,631.2) scale(1.1,1)" font-size="7.6" fill="#222">10<tspan font-size="5.32" dy="-3.19">2</tspan></text>
<line x1="311.7" y1="618" x2="311.7" y2="619.8" stroke="#111" stroke-width="0.7" />
<line x1="321.2" y1="618" x2="321.2" y2="621" stroke="#111" stroke-width="0.9" />
<text transform="translate(315.22,631.2) scale(1.1,1)" font-size="7.6" fill="#222">10<tspan font-size="5.32" dy="-3.19">4</tspan></text>
<line x1="238.56" y1="618" x2="238.56" y2="619.2" stroke="#111" stroke-width="0.5" />
<line x1="240.23" y1="618" x2="240.23" y2="619.2" stroke="#111" stroke-width="0.5" />
<line x1="242.34" y1="618" x2="242.34" y2="619.2" stroke="#111" stroke-width="0.5" />
<line x1="248.06" y1="618" x2="248.06" y2="619.2" stroke="#111" stroke-width="0.5" />
<line x1="249.73" y1="618" x2="249.73" y2="619.2" stroke="#111" stroke-width="0.5" />
<line x1="251.84" y1="618" x2="251.84" y2="619.2" stroke="#111" stroke-width="0.5" />
<line x1="257.56" y1="618" x2="257.56" y2="619.2" stroke="#111" stroke-width="0.5" />
<line x1="259.23" y1="618" x2="259.23" y2="619.2" stroke="#111" stroke-width="0.5" />
<line x1="261.34" y1="618" x2="261.34" y2="619.2" stroke="#111" stroke-width="0.5" />
<line x1="267.06" y1="618" x2="267.06" y2="619.2" stroke="#111" stroke-width="0.5" />
<line x1="268.73" y1="618" x2="268.73" y2="619.2" stroke="#111" stroke-width="0.5" />
<line x1="270.84" y1="618" x2="270.84" y2="619.2" stroke="#111" stroke-width="0.5" />
<line x1="276.56" y1="618" x2="276.56" y2="619.2" stroke="#111" stroke-width="0.5" />
<line x1="278.23" y1="618" x2="278.23" y2="619.2" stroke="#111" stroke-width="0.5" />
<line x1="280.34" y1="618" x2="280.34" y2="619.2" stroke="#111" stroke-width="0.5" />
<line x1="286.06" y1="618" x2="286.06" y2="619.2" stroke="#111" stroke-width="0.5" />
<line x1="287.73" y1="618" x2="287.73" y2="619.2" stroke="#111" stroke-width="0.5" />
<line x1="289.84" y1="618" x2="289.84" y2="619.2" stroke="#111" stroke-width="0.5" />
<line x1="295.56" y1="618" x2="295.56" y2="619.2" stroke="#111" stroke-width="0.5" />
<line x1="297.23" y1="618" x2="297.23" y2="619.2" stroke="#111" stroke-width="0.5" />
<line x1="299.34" y1="618" x2="299.34" y2="619.2" stroke="#111" stroke-width="0.5" />
<line x1="305.06" y1="618" x2="305.06" y2="619.2" stroke="#111" stroke-width="0.5" />
<line x1="306.73" y1="618" x2="306.73" y2="619.2" stroke="#111" stroke-width="0.5" />
<line x1="308.84" y1="618" x2="308.84" y2="619.2" stroke="#111" stroke-width="0.5" />
<line x1="314.56" y1="618" x2="314.56" y2="619.2" stroke="#111" stroke-width="0.5" />
<line x1="316.23" y1="618" x2="316.23" y2="619.2" stroke="#111" stroke-width="0.5" />
<line x1="318.34" y1="618" x2="318.34" y2="619.2" stroke="#111" stroke-width="0.5" />
<line x1="324.06" y1="618" x2="324.06" y2="619.2" stroke="#111" stroke-width="0.5" />
<text transform="translate(187.4,581.3) rotate(-90) scale(0.665,1)" x="0" y="0" font-size="9.3" text-anchor="middle" fill="#1a1a1a" font-weight="normal" stroke="#1a1a1a" stroke-width="0.35" letter-spacing="0.35" word-spacing="1.2">[IL-10] (pg/mL)</text>
<text transform="translate(269.7,643.3) scale(0.668,1)" x="0" y="0" font-size="9.0" text-anchor="middle" fill="#1a1a1a" font-weight="normal" stroke="#1a1a1a" stroke-width="0.35" letter-spacing="0.35" word-spacing="1.2">[AMG 701] (pM)</text>
<line x1="219.9" y1="617.4" x2="227.9" y2="617.4" stroke="#c4c4c8" stroke-width="0.9" />
<polyline points="238.7,617.4 247.25,617.4 255.8,617.4 264.35,617.4 272.9,617.4 281.45,617.4 290,617.4 298.55,617.4 307.1,617.4 315.65,615.65 324.2,608.11" fill="none" stroke="#c4c4c8" stroke-width="0.9" stroke-linejoin="round" />
<polygon points="221.9,615.44 223.86,617.4 221.9,619.36 219.94,617.4" fill="#fff" stroke="#c4c4c8" stroke-width="0.8" stroke-linejoin="round" />
<polygon points="238.7,615.44 240.66,617.4 238.7,619.36 236.75,617.4" fill="#fff" stroke="#c4c4c8" stroke-width="0.8" stroke-linejoin="round" />
<polygon points="247.25,615.44 249.21,617.4 247.25,619.36 245.3,617.4" fill="#fff" stroke="#c4c4c8" stroke-width="0.8" stroke-linejoin="round" />
<polygon points="255.8,615.44 257.75,617.4 255.8,619.36 253.84,617.4" fill="#fff" stroke="#c4c4c8" stroke-width="0.8" stroke-linejoin="round" />
<polygon points="264.35,615.44 266.31,617.4 264.35,619.36 262.4,617.4" fill="#fff" stroke="#c4c4c8" stroke-width="0.8" stroke-linejoin="round" />
<polygon points="272.9,615.44 274.86,617.4 272.9,619.36 270.95,617.4" fill="#fff" stroke="#c4c4c8" stroke-width="0.8" stroke-linejoin="round" />
<polygon points="281.45,615.44 283.41,617.4 281.45,619.36 279.5,617.4" fill="#fff" stroke="#c4c4c8" stroke-width="0.8" stroke-linejoin="round" />
<polygon points="290,615.44 291.95,617.4 290,619.36 288.05,617.4" fill="#fff" stroke="#c4c4c8" stroke-width="0.8" stroke-linejoin="round" />
<polygon points="298.55,615.44 300.5,617.4 298.55,619.36 296.6,617.4" fill="#fff" stroke="#c4c4c8" stroke-width="0.8" stroke-linejoin="round" />
<polygon points="307.1,615.44 309.06,617.4 307.1,619.36 305.15,617.4" fill="#fff" stroke="#c4c4c8" stroke-width="0.8" stroke-linejoin="round" />
<polygon points="315.65,613.69 317.61,615.65 315.65,617.6 313.7,615.65" fill="#fff" stroke="#c4c4c8" stroke-width="0.8" stroke-linejoin="round" />
<polygon points="324.2,606.16 326.16,608.11 324.2,610.07 322.25,608.11" fill="#fff" stroke="#c4c4c8" stroke-width="0.8" stroke-linejoin="round" />
<line x1="219.9" y1="617.4" x2="227.9" y2="617.4" stroke="#3c4670" stroke-width="0.9" />
<polyline points="238.7,617.4 247.25,617.4 255.8,617.4 264.35,617.4 272.9,617.4 281.45,617.4 290,617.4 298.55,617.4 307.1,617.4 315.65,616.17 324.2,611.97" fill="none" stroke="#3c4670" stroke-width="0.9" stroke-linejoin="round" />
<polygon points="221.9,619.23 223.91,615.94 219.89,615.94" fill="#fff" stroke="#3c4670" stroke-width="0.9" stroke-linejoin="round" />
<polygon points="238.7,619.23 240.71,615.94 236.69,615.94" fill="#fff" stroke="#3c4670" stroke-width="0.9" stroke-linejoin="round" />
<polygon points="247.25,619.23 249.26,615.94 245.24,615.94" fill="#fff" stroke="#3c4670" stroke-width="0.9" stroke-linejoin="round" />
<polygon points="255.8,619.23 257.81,615.94 253.79,615.94" fill="#fff" stroke="#3c4670" stroke-width="0.9" stroke-linejoin="round" />
<polygon points="264.35,619.23 266.36,615.94 262.34,615.94" fill="#fff" stroke="#3c4670" stroke-width="0.9" stroke-linejoin="round" />
<polygon points="272.9,619.23 274.91,615.94 270.89,615.94" fill="#fff" stroke="#3c4670" stroke-width="0.9" stroke-linejoin="round" />
<polygon points="281.45,619.23 283.46,615.94 279.44,615.94" fill="#fff" stroke="#3c4670" stroke-width="0.9" stroke-linejoin="round" />
<polygon points="290,619.23 292.01,615.94 287.99,615.94" fill="#fff" stroke="#3c4670" stroke-width="0.9" stroke-linejoin="round" />
<polygon points="298.55,619.23 300.56,615.94 296.54,615.94" fill="#fff" stroke="#3c4670" stroke-width="0.9" stroke-linejoin="round" />
<polygon points="307.1,619.23 309.11,615.94 305.09,615.94" fill="#fff" stroke="#3c4670" stroke-width="0.9" stroke-linejoin="round" />
<polygon points="315.65,618 317.66,614.71 313.64,614.71" fill="#fff" stroke="#3c4670" stroke-width="0.9" stroke-linejoin="round" />
<polygon points="324.2,613.79 326.21,610.51 322.19,610.51" fill="#fff" stroke="#3c4670" stroke-width="0.9" stroke-linejoin="round" />
<line x1="219.9" y1="617.4" x2="227.9" y2="617.4" stroke="#1c4e32" stroke-width="0.9" />
<polyline points="238.7,617.4 247.25,617.4 255.8,617.4 264.35,617.4 272.9,617.4 281.45,617.4 290,616.52 298.55,599.52 307.1,587.26 315.65,574.11 324.2,575.34" fill="none" stroke="#1c4e32" stroke-width="0.9" stroke-linejoin="round" />
<rect x="220.15" y="615.65" width="3.5" height="3.5" fill="#1c4e32"/>
<rect x="236.95" y="615.65" width="3.5" height="3.5" fill="#1c4e32"/>
<rect x="245.5" y="615.65" width="3.5" height="3.5" fill="#1c4e32"/>
<rect x="254.05" y="615.65" width="3.5" height="3.5" fill="#1c4e32"/>
<rect x="262.6" y="615.65" width="3.5" height="3.5" fill="#1c4e32"/>
<rect x="271.15" y="615.65" width="3.5" height="3.5" fill="#1c4e32"/>
<rect x="279.7" y="615.65" width="3.5" height="3.5" fill="#1c4e32"/>
<rect x="288.25" y="614.77" width="3.5" height="3.5" fill="#1c4e32"/>
<rect x="296.8" y="597.77" width="3.5" height="3.5" fill="#1c4e32"/>
<rect x="305.35" y="585.51" width="3.5" height="3.5" fill="#1c4e32"/>
<rect x="313.9" y="572.36" width="3.5" height="3.5" fill="#1c4e32"/>
<rect x="322.45" y="573.59" width="3.5" height="3.5" fill="#1c4e32"/>
<line x1="219.9" y1="617.4" x2="227.9" y2="617.4" stroke="#5f8c6f" stroke-width="0.9" />
<polyline points="238.7,617.4 247.25,617.4 255.8,617.4 264.35,617.4 272.9,617.4 281.45,617.4 290,616.52 298.55,597.25 307.1,573.76 315.65,555.54 324.2,557.64" fill="none" stroke="#5f8c6f" stroke-width="0.9" stroke-linejoin="round" />
<rect x="220.15" y="615.65" width="3.5" height="3.5" fill="#5f8c6f"/>
<rect x="236.95" y="615.65" width="3.5" height="3.5" fill="#5f8c6f"/>
<rect x="245.5" y="615.65" width="3.5" height="3.5" fill="#5f8c6f"/>
<rect x="254.05" y="615.65" width="3.5" height="3.5" fill="#5f8c6f"/>
<rect x="262.6" y="615.65" width="3.5" height="3.5" fill="#5f8c6f"/>
<rect x="271.15" y="615.65" width="3.5" height="3.5" fill="#5f8c6f"/>
<rect x="279.7" y="615.65" width="3.5" height="3.5" fill="#5f8c6f"/>
<rect x="288.25" y="614.77" width="3.5" height="3.5" fill="#5f8c6f"/>
<rect x="296.8" y="595.5" width="3.5" height="3.5" fill="#5f8c6f"/>
<rect x="305.35" y="572.01" width="3.5" height="3.5" fill="#5f8c6f"/>
<rect x="313.9" y="553.79" width="3.5" height="3.5" fill="#5f8c6f"/>
<rect x="322.45" y="555.89" width="3.5" height="3.5" fill="#5f8c6f"/>
<line x1="219.9" y1="617.4" x2="227.9" y2="617.4" stroke="#4d9e2a" stroke-width="0.9" />
<polyline points="238.7,617.4 247.25,617.4 255.8,617.4 264.35,617.4 272.9,617.4 281.45,617.4 290,613.37 298.55,601.8 307.1,597.25 315.65,594.62 324.2,576.92" fill="none" stroke="#4d9e2a" stroke-width="0.9" stroke-linejoin="round" />
<rect x="220.15" y="615.65" width="3.5" height="3.5" fill="#4d9e2a"/>
<rect x="236.95" y="615.65" width="3.5" height="3.5" fill="#4d9e2a"/>
<rect x="245.5" y="615.65" width="3.5" height="3.5" fill="#4d9e2a"/>
<rect x="254.05" y="615.65" width="3.5" height="3.5" fill="#4d9e2a"/>
<rect x="262.6" y="615.65" width="3.5" height="3.5" fill="#4d9e2a"/>
<rect x="271.15" y="615.65" width="3.5" height="3.5" fill="#4d9e2a"/>
<rect x="279.7" y="615.65" width="3.5" height="3.5" fill="#4d9e2a"/>
<rect x="288.25" y="611.62" width="3.5" height="3.5" fill="#4d9e2a"/>
<rect x="296.8" y="600.05" width="3.5" height="3.5" fill="#4d9e2a"/>
<rect x="305.35" y="595.5" width="3.5" height="3.5" fill="#4d9e2a"/>
<rect x="313.9" y="592.87" width="3.5" height="3.5" fill="#4d9e2a"/>
<rect x="322.45" y="575.17" width="3.5" height="3.5" fill="#4d9e2a"/>
<line x1="219.9" y1="617.4" x2="227.9" y2="617.4" stroke="#b2d597" stroke-width="0.9" />
<polyline points="238.7,617.4 247.25,617.4 255.8,617.4 264.35,617.4 272.9,617.4 281.45,617.4 290,611.97 298.55,598.82 307.1,594.79 315.65,591.81 324.2,594.09" fill="none" stroke="#b2d597" stroke-width="0.9" stroke-linejoin="round" />
<rect x="220.15" y="615.65" width="3.5" height="3.5" fill="#b2d597"/>
<rect x="236.95" y="615.65" width="3.5" height="3.5" fill="#b2d597"/>
<rect x="245.5" y="615.65" width="3.5" height="3.5" fill="#b2d597"/>
<rect x="254.05" y="615.65" width="3.5" height="3.5" fill="#b2d597"/>
<rect x="262.6" y="615.65" width="3.5" height="3.5" fill="#b2d597"/>
<rect x="271.15" y="615.65" width="3.5" height="3.5" fill="#b2d597"/>
<rect x="279.7" y="615.65" width="3.5" height="3.5" fill="#b2d597"/>
<rect x="288.25" y="610.22" width="3.5" height="3.5" fill="#b2d597"/>
<rect x="296.8" y="597.07" width="3.5" height="3.5" fill="#b2d597"/>
<rect x="305.35" y="593.04" width="3.5" height="3.5" fill="#b2d597"/>
<rect x="313.9" y="590.06" width="3.5" height="3.5" fill="#b2d597"/>
<rect x="322.45" y="592.34" width="3.5" height="3.5" fill="#b2d597"/>
<rect x="221.25" y="549.75" width="3.5" height="3.5" fill="#b2d597"/>
<text x="227.8" y="553.8" font-size="7.2" text-anchor="start" fill="#222" font-weight="normal"  stroke="#222" stroke-width="0.12">MM1.R16h</text>
<rect x="221.25" y="557.75" width="3.5" height="3.5" fill="#4d9e2a"/>
<text x="227.8" y="561.8" font-size="7.2" text-anchor="start" fill="#222" font-weight="normal"  stroke="#222" stroke-width="0.12">MM1.R24h</text>
<rect x="221.25" y="565.75" width="3.5" height="3.5" fill="#5f8c6f"/>
<text x="227.8" y="569.8" font-size="7.2" text-anchor="start" fill="#222" font-weight="normal"  stroke="#222" stroke-width="0.12">MM1.R48h</text>
<rect x="221.25" y="573.75" width="3.5" height="3.5" fill="#1c4e32"/>
<text x="227.8" y="577.8" font-size="7.2" text-anchor="start" fill="#222" font-weight="normal"  stroke="#222" stroke-width="0.12">MM1.R72h</text>
<line x1="219.5" y1="583" x2="226.5" y2="583" stroke="#3c4670" stroke-width="0.8" />
<polygon points="223,585.33 225.01,582.04 220.99,582.04" fill="#fff" stroke="#3c4670" stroke-width="0.9" stroke-linejoin="round" />
<text x="227.8" y="585.8" font-size="7.2" text-anchor="start" fill="#222" font-weight="normal"  stroke="#222" stroke-width="0.12">HCT-116</text>
<line x1="219.5" y1="591.5" x2="226.5" y2="591.5" stroke="#c4c4c8" stroke-width="0.8" />
<polygon points="223,589.54 224.96,591.5 223,593.46 221.04,591.5" fill="#fff" stroke="#c4c4c8" stroke-width="0.8" stroke-linejoin="round" />
<text x="227.8" y="593.8" font-size="7.2" text-anchor="start" fill="#222" font-weight="normal"  stroke="#222" stroke-width="0.12">PBMC</text>
</svg>
</body></html>
